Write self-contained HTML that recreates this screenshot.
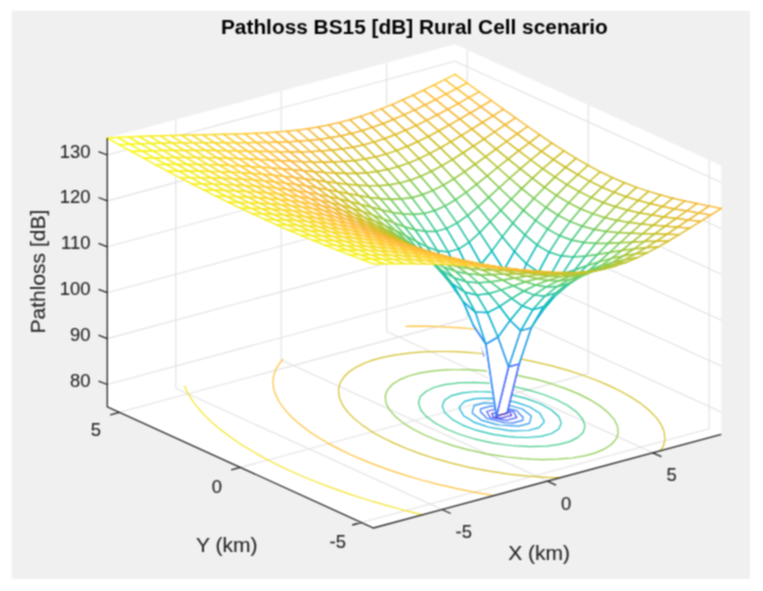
<!DOCTYPE html>
<html><head><meta charset="utf-8"><title>Pathloss BS15 [dB] Rural Cell scenario</title>
<style>html,body{margin:0;padding:0;background:#fff}svg{display:block}</style></head>
<body>
<svg width="763" height="591" viewBox="0 0 763 591">
<rect x="0" y="0" width="763" height="591" fill="#fff"/>
<defs><filter id="b" x="0" y="0" width="763" height="591" filterUnits="userSpaceOnUse" color-interpolation-filters="sRGB"><feConvolveMatrix order="3" preserveAlpha="true" edgeMode="duplicate" kernelMatrix="0.0625 0.1250 0.0625 0.1250 0.2500 0.1250 0.0625 0.1250 0.0625"/></filter></defs>
<g filter="url(#b)">
<rect x="-20" y="-20" width="803" height="631" fill="#fff"/>
<rect x="11.6" y="10.8" width="738.3" height="568.1" fill="#f0f0f0"/>
<g fill="#fff">
<polygon points="373.5,528.0 721.3,434.3 721.3,165.5 455.1,44.3 107.3,138.0 107.3,406.8" />
</g>
<path fill="none" stroke="#e1e1e1" stroke-width="1.1" d="M442.0 509.5L175.8 388.3M175.8 388.3L175.8 119.6M547.4 481.1L281.2 359.9M281.2 359.9L281.2 91.2M652.8 452.8L386.6 331.6M386.6 331.6L386.6 62.8M361.4 522.5L709.2 428.8M709.2 428.8L709.2 160.0M240.4 467.4L588.2 373.7M588.2 373.7L588.2 104.9M119.4 412.3L467.2 318.6M467.2 318.6L467.2 49.8M107.3 384.5L455.1 290.8M455.1 290.8L721.3 412.0M107.3 338.6L455.1 244.9M455.1 244.9L721.3 366.1M107.3 292.7L455.1 199.0M455.1 199.0L721.3 320.2M107.3 246.8L455.1 153.1M455.1 153.1L721.3 274.3M107.3 200.9L455.1 107.2M455.1 107.2L721.3 228.4M107.3 155.0L455.1 61.3M455.1 61.3L721.3 182.5"/>
<g fill="none" stroke-width="1.2" stroke-linecap="round">
<path stroke="#463de0" d="M501.2 418.1L493.5 416.8M493.5 416.8L491.7 413.8M511.7 415.3L501.2 418.1M502.3 411.0L491.7 413.8M510.0 412.3L511.7 415.3M510.0 412.3L502.3 411.0"/>
<path stroke="#475bfa" d="M506.3 420.4L490.2 417.6M490.2 417.6L486.7 411.5M516.8 417.6L506.3 420.4M497.2 408.7L486.7 411.5M513.3 411.4L516.8 417.6M513.3 411.4L497.2 408.7"/>
<path stroke="#327cfc" d="M512.2 423.1L504.5 422.6M504.5 422.6L487.0 418.5M487.0 418.5L480.3 411.5M480.3 411.5L480.7 408.8M522.7 420.3L512.2 423.1M491.3 405.9L480.7 408.8M523.2 417.5L522.7 420.3M523.2 417.5L516.5 410.6M516.5 410.6L499.0 406.5M499.0 406.5L491.3 405.9"/>
<path stroke="#2798ea" d="M499.6 425.0L496.9 424.6M496.9 424.6L481.2 420.1M481.2 420.1L472.7 413.6M472.7 413.6L472.2 412.5M518.9 426.2L499.6 425.0M474.1 405.7L472.2 412.5M529.4 423.3L518.9 426.2M484.6 402.9L474.1 405.7M531.3 416.5L529.4 423.3M503.8 404.0L484.6 402.9M530.8 415.5L531.3 416.5M530.8 415.5L522.2 409.0M522.2 409.0L506.6 404.5M506.6 404.5L503.8 404.0"/>
<path stroke="#13b0d7" d="M484.2 425.6L473.7 422.1M473.7 422.1L466.6 417.6M512.4 430.8L507.8 430.4M507.8 430.4L488.0 427.0M488.0 427.0L484.2 425.6M463.8 416.0L466.6 417.6M463.8 416.0L459.4 408.4M459.4 408.4L459.5 406.8M528.4 430.5L512.4 430.8M464.6 401.4L459.5 406.8M538.9 427.6L528.4 430.5M475.1 398.6L464.6 401.4M544.0 422.3L538.9 427.6M491.1 398.2L475.1 398.6M544.1 420.7L544.0 422.3M544.1 420.7L539.7 413.1M539.7 413.1L536.9 411.5M519.3 403.4L515.5 402.1M515.5 402.1L495.7 398.6M495.7 398.6L491.1 398.2M529.8 407.0L536.9 411.5M529.8 407.0L519.3 403.4"/>
<path stroke="#1ac0b5" d="M478.8 430.8L476.2 430.2M476.2 430.2L462.5 425.1M462.5 425.1L452.0 419.2M452.0 419.2L450.9 418.1M508.4 436.6L493.0 434.4M493.0 434.4L478.8 430.8M444.6 412.4L450.9 418.1M444.6 412.4L442.4 406.6M527.1 437.5L515.5 437.1M515.5 437.1L508.4 436.6M442.9 404.1L442.4 406.6M442.9 404.1L444.7 400.0M541.2 436.3L527.1 437.5M451.8 395.6L444.7 400.0M551.7 433.5L541.2 436.3M462.3 392.8L451.8 395.6M558.7 429.0L551.7 433.5M476.4 391.5L462.3 392.8M560.6 425.0L558.7 429.0M560.6 425.0L561.1 422.4M495.1 392.4L488.0 391.9M488.0 391.9L476.4 391.5M558.9 416.7L561.1 422.4M558.9 416.7L552.6 411.0M524.7 398.2L510.5 394.6M510.5 394.6L495.1 392.4M551.4 409.9L552.6 411.0M551.4 409.9L540.9 404.0M540.9 404.0L527.2 398.9M527.2 398.9L524.7 398.2"/>
<path stroke="#45cb89" d="M485.1 441.3L475.4 439.2M475.4 439.2L460.0 434.5M460.0 434.5L446.9 429.3M446.9 429.3L435.8 423.5M435.8 423.5L427.0 417.1M427.0 417.1L423.5 413.3M511.1 445.5L493.4 443.1M493.4 443.1L485.1 441.3M420.8 410.0L423.5 413.3M420.8 410.0L418.6 403.4M530.5 446.7L515.5 445.9M515.5 445.9L511.1 445.5M418.7 401.8L418.6 403.4M418.7 401.8L420.3 396.5M546.0 446.1L530.5 446.7M425.9 391.5L420.3 396.5M559.0 444.4L548.5 445.8M548.5 445.8L546.0 446.1M427.5 390.7L425.9 391.5M427.5 390.7L433.9 387.5M569.6 441.6L559.0 444.4M444.5 384.6L433.9 387.5M576.0 438.4L569.6 441.6M576.0 438.4L577.6 437.6M457.5 382.9L455.0 383.3M455.0 383.3L444.5 384.6M583.2 432.5L577.6 437.6M473.0 382.4L457.5 382.9M584.8 427.2L583.2 432.5M584.8 427.2L584.9 425.6M492.4 383.5L488.0 383.2M488.0 383.2L473.0 382.4M582.6 419.0L584.9 425.6M582.6 419.0L579.9 415.8M518.4 387.7L510.0 386.0M510.0 386.0L492.4 383.5M576.5 411.9L579.9 415.8M576.5 411.9L567.7 405.5M567.7 405.5L556.6 399.8M556.6 399.8L543.5 394.5M543.5 394.5L528.1 389.9M528.1 389.9L518.4 387.7"/>
<path stroke="#8dcb4f" d="M472.2 450.7L468.3 449.8M468.3 449.8L452.2 445.4M452.2 445.4L437.9 440.5M437.9 440.5L425.1 435.2M425.1 435.2L413.7 429.5M413.7 429.5L403.8 423.4M403.8 423.4L395.7 416.8M395.7 416.8L394.3 415.3M501.1 456.2L486.2 453.8M486.2 453.8L472.2 450.7M389.4 409.7L394.3 415.3M389.4 409.7L386.5 404.1M523.3 458.7L506.8 457.0M506.8 457.0L501.1 456.2M385.8 401.9L386.5 404.1M385.8 401.9L385.3 395.9M541.9 459.6L531.4 459.2M531.4 459.2L523.3 458.7M386.2 393.1L385.3 395.9M386.2 393.1L387.8 389.4M558.0 459.2L541.9 459.6M392.8 384.0L387.8 389.4M572.0 458.0L566.7 458.4M566.7 458.4L558.0 459.2M397.3 381.3L392.8 384.0M397.3 381.3L399.9 379.6M584.3 455.9L572.0 458.0M408.7 376.0L399.9 379.6M594.8 453.1L584.3 455.9M419.2 373.1L408.7 376.0M603.6 449.4L594.8 453.1M431.5 371.1L419.2 373.1M606.2 447.8L603.6 449.4M606.2 447.8L610.7 445.0M445.5 369.8L436.8 370.6M436.8 370.6L431.5 371.1M615.7 439.7L610.7 445.0M461.5 369.5L445.5 369.8M617.3 436.0L615.7 439.7M617.3 436.0L618.1 433.2M480.2 370.3L472.1 369.9M472.1 369.9L461.5 369.5M617.7 427.1L618.1 433.2M617.7 427.1L617.0 425.0M502.4 372.8L496.7 372.0M496.7 372.0L480.2 370.3M614.1 419.3L617.0 425.0M614.1 419.3L609.2 413.8M531.3 378.3L517.3 375.3M517.3 375.3L502.4 372.8M607.8 412.3L609.2 413.8M607.8 412.3L599.7 405.7M599.7 405.7L589.8 399.6M589.8 399.6L578.4 393.9M578.4 393.9L565.6 388.6M565.6 388.6L551.3 383.7M551.3 383.7L535.2 379.2M535.2 379.2L531.3 378.3"/>
<path stroke="#d4bf28" d="M445.3 461.4L435.5 458.7M435.5 458.7L420.7 453.9M420.7 453.9L407.0 448.8M407.0 448.8L394.4 443.4M394.4 443.4L382.8 437.8M382.8 437.8L372.3 431.9M372.3 431.9L362.9 425.6M362.9 425.6L357.9 421.6M479.7 469.4L468.8 467.3M468.8 467.3L451.5 463.1M451.5 463.1L445.3 461.4M354.7 419.1L357.9 421.6M354.7 419.1L347.8 412.2M347.8 412.2L344.6 407.9M505.8 473.7L487.7 470.9M487.7 470.9L479.7 469.4M342.5 404.8L344.6 407.9M342.5 404.8L339.5 398.0M527.9 476.1L508.6 474.1M508.6 474.1L505.8 473.7M339.2 396.9L339.5 398.0M339.2 396.9L338.5 389.9M547.4 477.3L532.3 476.4M532.3 476.4L527.9 476.1M338.7 388.3L338.5 389.9M338.7 388.3L340.1 383.0M560.8 477.6L547.4 477.3M343.0 378.4L340.1 383.0M343.0 378.4L343.9 377.0M349.2 371.8L343.9 377.0M356.0 367.3L349.2 371.8M361.6 364.6L356.0 367.3M361.6 364.6L364.1 363.3M373.4 359.9L364.1 363.3M384.0 357.1L373.4 359.9M395.8 354.8L384.0 357.1M408.7 353.1L399.9 354.3M399.9 354.3L395.8 354.8M422.9 351.9L408.7 353.1M438.7 351.5L422.9 351.9M660.5 450.7L663.3 446.1M456.1 351.7L442.7 351.5M442.7 351.5L438.7 351.5M664.7 440.8L663.3 446.1M664.7 440.8L664.9 439.2M475.5 353.0L471.1 352.6M471.1 352.6L456.1 351.7M664.2 432.1L664.9 439.2M664.2 432.1L663.9 431.1M497.6 355.4L494.8 355.0M494.8 355.0L475.5 353.0M661.0 424.3L663.9 431.1M661.0 424.3L658.8 421.1M523.8 359.7L515.8 358.1M515.8 358.1L497.6 355.4M655.7 416.9L658.8 421.1M655.7 416.9L648.8 410.0M648.8 410.0L645.6 407.5M558.1 367.6L552.0 365.9M552.0 365.9L534.7 361.8M534.7 361.8L523.8 359.7M640.6 403.4L645.6 407.5M640.6 403.4L631.2 397.2M631.2 397.2L620.7 391.3M620.7 391.3L609.1 385.6M609.1 385.6L596.5 380.2M596.5 380.2L582.8 375.2M582.8 375.2L568.0 370.4M568.0 370.4L558.1 367.6"/>
<path stroke="#fec13a" d="M414.6 478.0L405.9 475.4M405.9 475.4L391.1 470.6M391.1 470.6L377.1 465.6M377.1 465.6L363.9 460.4M363.9 460.4L351.4 455.0M351.4 455.0L339.7 449.4M339.7 449.4L328.7 443.6M328.7 443.6L318.5 437.6M318.5 437.6L309.1 431.4M309.1 431.4L304.4 427.8M452.8 487.7L438.0 484.3M438.0 484.3L421.5 480.0M421.5 480.0L414.6 478.0M300.5 424.9L304.4 427.8M300.5 424.9L292.8 418.2M292.8 418.2L287.2 412.3M482.4 493.6L474.2 492.1M474.2 492.1L455.6 488.4M455.6 488.4L452.8 487.7M286.2 411.2L287.2 412.3M286.2 411.2L280.6 404.0M280.6 404.0L278.7 400.8M494.1 495.5L482.4 493.6M276.3 396.3L278.7 400.8M276.3 396.3L274.4 391.2M273.7 388.3L274.4 391.2M273.7 388.3L273.0 383.0M273.1 379.7L273.0 383.0M273.1 379.7L273.7 375.6M275.5 370.3L273.7 375.6M275.5 370.3L276.0 369.0M279.7 363.1L276.0 369.0M282.9 359.5L279.7 363.1M416.7 326.2L405.9 326.3M434.1 326.4L416.7 326.2M452.8 327.3L437.6 326.6M437.6 326.6L434.1 326.4M473.3 329.0L464.2 328.2M464.2 328.2L452.8 327.3M495.8 331.6L487.8 330.6M487.8 330.6L473.3 329.0"/>
<path stroke="#f5e327" d="M348.2 493.6L343.9 492.1M343.9 492.1L329.9 487.1M329.9 487.1L316.4 482.0M316.4 482.0L303.5 476.7M303.5 476.7L291.2 471.3M291.2 471.3L279.3 465.7M279.3 465.7L268.0 460.0M268.0 460.0L257.3 454.1M257.3 454.1L247.1 448.1M247.1 448.1L244.2 446.2M397.7 508.5L389.2 506.2M389.2 506.2L373.5 501.7M373.5 501.7L358.4 497.0M358.4 497.0L348.2 493.6M237.4 441.9L244.2 446.2M237.4 441.9L228.3 435.6M228.3 435.6L219.8 429.1M219.8 429.1L215.8 425.7M422.7 514.8L405.6 510.6M405.6 510.6L397.7 508.5M212.0 422.4L215.8 425.7M212.0 422.4L204.9 415.6M204.9 415.6L200.9 411.2M198.5 408.5L200.9 411.2M198.5 408.5L192.9 401.3M192.9 401.3L191.7 399.4M188.2 393.8L191.7 399.4M188.2 393.8L186.0 389.2M184.6 386.0L186.0 389.2"/>
</g>
<g fill="none" stroke-width="1.5" stroke-linecap="round" stroke-linejoin="round">
<path fill="#fff" d="M456.7 88.7L467.2 83.0L455.1 74.3L444.6 79.7Z"/>
<path stroke="#fdcb33" d="M467.2 83.0L455.1 74.3"/>
<path stroke="#fdcc32" d="M444.6 79.7L455.1 74.3"/>
<path stroke="#fec736" d="M467.2 83.0L456.7 88.7L444.6 79.7"/>
<path fill="#fff" d="M446.1 94.2L456.7 88.7L444.6 79.7L434.0 85.0Z"/>
<path stroke="#fec736" d="M456.7 88.7L444.6 79.7"/>
<path stroke="#fec835" d="M434.0 85.0L444.6 79.7"/>
<path stroke="#fec338" d="M456.7 88.7L446.1 94.2L434.0 85.0"/>
<path fill="#fff" d="M435.6 99.7L446.1 94.2L434.0 85.0L423.5 90.2Z"/>
<path stroke="#fec338" d="M446.1 94.2L434.0 85.0"/>
<path stroke="#fec537" d="M423.5 90.2L434.0 85.0"/>
<path stroke="#febf3b" d="M446.1 94.2L435.6 99.7L423.5 90.2"/>
<path fill="#fff" d="M425.0 105.0L435.6 99.7L423.5 90.2L412.9 95.2Z"/>
<path stroke="#febf3b" d="M435.6 99.7L423.5 90.2"/>
<path stroke="#fec239" d="M412.9 95.2L423.5 90.2"/>
<path stroke="#fcbd3d" d="M435.6 99.7L425.0 105.0L412.9 95.2"/>
<path fill="#fff" d="M414.5 110.1L425.0 105.0L412.9 95.2L402.4 100.0Z"/>
<path stroke="#fcbd3d" d="M425.0 105.0L412.9 95.2"/>
<path stroke="#febf3b" d="M402.4 100.0L412.9 95.2"/>
<path stroke="#f9bb3d" d="M425.0 105.0L414.5 110.1L402.4 100.0"/>
<path fill="#fff" d="M404.0 114.9L414.5 110.1L402.4 100.0L391.9 104.6Z"/>
<path stroke="#f9bb3d" d="M414.5 110.1L402.4 100.0"/>
<path stroke="#fdbd3d" d="M391.9 104.6L402.4 100.0"/>
<path stroke="#f6ba3b" d="M414.5 110.1L404.0 114.9L391.9 104.6"/>
<path fill="#fff" d="M393.4 119.5L404.0 114.9L391.9 104.6L381.3 108.9Z"/>
<path stroke="#f6ba3b" d="M404.0 114.9L391.9 104.6"/>
<path stroke="#fbbc3d" d="M381.3 108.9L391.9 104.6"/>
<path stroke="#f2ba38" d="M404.0 114.9L393.4 119.5L381.3 108.9"/>
<path fill="#fff" d="M382.9 123.7L393.4 119.5L381.3 108.9L370.8 112.9Z"/>
<path stroke="#f2ba38" d="M393.4 119.5L381.3 108.9"/>
<path stroke="#f9bb3d" d="M370.8 112.9L381.3 108.9"/>
<path stroke="#f0ba36" d="M393.4 119.5L382.9 123.7L370.8 112.9"/>
<path fill="#fff" d="M372.3 127.4L382.9 123.7L370.8 112.9L360.2 116.5Z"/>
<path stroke="#f0ba36" d="M382.9 123.7L370.8 112.9"/>
<path stroke="#f8ba3d" d="M360.2 116.5L370.8 112.9"/>
<path stroke="#eeba34" d="M382.9 123.7L372.3 127.4L360.2 116.5"/>
<path fill="#fff" d="M361.8 130.7L372.3 127.4L360.2 116.5L349.7 119.8Z"/>
<path stroke="#eeba34" d="M372.3 127.4L360.2 116.5"/>
<path stroke="#f8ba3d" d="M349.7 119.8L360.2 116.5"/>
<path stroke="#edba33" d="M372.3 127.4L361.8 130.7L349.7 119.8"/>
<path fill="#fff" d="M351.3 133.6L361.8 130.7L349.7 119.8L339.2 122.6Z"/>
<path stroke="#edba33" d="M361.8 130.7L349.7 119.8"/>
<path stroke="#f8ba3d" d="M339.2 122.6L349.7 119.8"/>
<path stroke="#edba33" d="M361.8 130.7L351.3 133.6L339.2 122.6"/>
<path fill="#fff" d="M340.7 135.9L351.3 133.6L339.2 122.6L328.6 125.0Z"/>
<path stroke="#edba33" d="M351.3 133.6L339.2 122.6"/>
<path stroke="#f8ba3d" d="M328.6 125.0L339.2 122.6"/>
<path stroke="#eeba34" d="M351.3 133.6L340.7 135.9L328.6 125.0"/>
<path fill="#fff" d="M330.2 137.8L340.7 135.9L328.6 125.0L318.1 127.1Z"/>
<path stroke="#eeba34" d="M340.7 135.9L328.6 125.0"/>
<path stroke="#f9bb3d" d="M318.1 127.1L328.6 125.0"/>
<path stroke="#f0ba36" d="M340.7 135.9L330.2 137.8L318.1 127.1"/>
<path fill="#fff" d="M319.6 139.4L330.2 137.8L318.1 127.1L307.5 128.8Z"/>
<path stroke="#f0ba36" d="M330.2 137.8L318.1 127.1"/>
<path stroke="#fbbc3d" d="M307.5 128.8L318.1 127.1"/>
<path stroke="#f2ba38" d="M330.2 137.8L319.6 139.4L307.5 128.8"/>
<path fill="#fff" d="M309.1 140.5L319.6 139.4L307.5 128.8L297.0 130.2Z"/>
<path stroke="#f2ba38" d="M319.6 139.4L307.5 128.8"/>
<path stroke="#fdbd3d" d="M297.0 130.2L307.5 128.8"/>
<path stroke="#f6ba3b" d="M319.6 139.4L309.1 140.5L297.0 130.2"/>
<path fill="#fff" d="M298.6 141.3L309.1 140.5L297.0 130.2L286.5 131.3Z"/>
<path stroke="#f6ba3b" d="M309.1 140.5L297.0 130.2"/>
<path stroke="#febf3b" d="M286.5 131.3L297.0 130.2"/>
<path stroke="#f9bb3d" d="M309.1 140.5L298.6 141.3L286.5 131.3"/>
<path fill="#fff" d="M288.0 141.9L298.6 141.3L286.5 131.3L275.9 132.1Z"/>
<path stroke="#f9bb3d" d="M298.6 141.3L286.5 131.3"/>
<path stroke="#fec239" d="M275.9 132.1L286.5 131.3"/>
<path stroke="#fcbd3d" d="M298.6 141.3L288.0 141.9L275.9 132.1"/>
<path fill="#fff" d="M277.5 142.3L288.0 141.9L275.9 132.1L265.4 132.8Z"/>
<path stroke="#fcbd3d" d="M288.0 141.9L275.9 132.1"/>
<path stroke="#fec537" d="M265.4 132.8L275.9 132.1"/>
<path stroke="#febf3b" d="M288.0 141.9L277.5 142.3L265.4 132.8"/>
<path fill="#fff" d="M267.0 142.5L277.5 142.3L265.4 132.8L254.9 133.3Z"/>
<path stroke="#febf3b" d="M277.5 142.3L265.4 132.8"/>
<path stroke="#fec835" d="M254.9 133.3L265.4 132.8"/>
<path stroke="#fec338" d="M277.5 142.3L267.0 142.5L254.9 133.3"/>
<path fill="#fff" d="M256.4 142.6L267.0 142.5L254.9 133.3L244.3 133.7Z"/>
<path stroke="#fec338" d="M267.0 142.5L254.9 133.3"/>
<path stroke="#fdcc32" d="M244.3 133.7L254.9 133.3"/>
<path stroke="#fec736" d="M267.0 142.5L256.4 142.6L244.3 133.7"/>
<path fill="#fff" d="M245.9 142.7L256.4 142.6L244.3 133.7L233.8 134.0Z"/>
<path stroke="#fec736" d="M256.4 142.6L244.3 133.7"/>
<path stroke="#fccf30" d="M233.8 134.0L244.3 133.7"/>
<path stroke="#fdcb33" d="M256.4 142.6L245.9 142.7L233.8 134.0"/>
<path fill="#fff" d="M235.3 142.7L245.9 142.7L233.8 134.0L223.2 134.2Z"/>
<path stroke="#fdcb33" d="M245.9 142.7L233.8 134.0"/>
<path stroke="#fbd32e" d="M223.2 134.2L233.8 134.0"/>
<path stroke="#fccf31" d="M245.9 142.7L235.3 142.7L223.2 134.2"/>
<path fill="#fff" d="M224.8 142.7L235.3 142.7L223.2 134.2L212.7 134.5Z"/>
<path stroke="#fccf31" d="M235.3 142.7L223.2 134.2"/>
<path stroke="#f9d72c" d="M212.7 134.5L223.2 134.2"/>
<path stroke="#fbd32e" d="M235.3 142.7L224.8 142.7L212.7 134.5"/>
<path fill="#fff" d="M214.3 142.7L224.8 142.7L212.7 134.5L202.2 134.7Z"/>
<path stroke="#fbd32e" d="M224.8 142.7L212.7 134.5"/>
<path stroke="#f7db2b" d="M202.2 134.7L212.7 134.5"/>
<path stroke="#f9d72c" d="M224.8 142.7L214.3 142.7L202.2 134.7"/>
<path fill="#fff" d="M203.7 142.7L214.3 142.7L202.2 134.7L191.6 134.9Z"/>
<path stroke="#f9d72c" d="M214.3 142.7L202.2 134.7"/>
<path stroke="#f6df29" d="M191.6 134.9L202.2 134.7"/>
<path stroke="#f7db2a" d="M214.3 142.7L203.7 142.7L191.6 134.9"/>
<path fill="#fff" d="M193.2 142.8L203.7 142.7L191.6 134.9L181.1 135.2Z"/>
<path stroke="#f7db2a" d="M203.7 142.7L191.6 134.9"/>
<path stroke="#f5e327" d="M181.1 135.2L191.6 134.9"/>
<path stroke="#f6e029" d="M203.7 142.7L193.2 142.8L181.1 135.2"/>
<path fill="#fff" d="M182.6 142.9L193.2 142.8L181.1 135.2L170.5 135.4Z"/>
<path stroke="#f6e029" d="M193.2 142.8L181.1 135.2"/>
<path stroke="#f5e625" d="M170.5 135.4L181.1 135.2"/>
<path stroke="#f5e427" d="M193.2 142.8L182.6 142.9L170.5 135.4"/>
<path fill="#fff" d="M172.1 143.1L182.6 142.9L170.5 135.4L160.0 135.8Z"/>
<path stroke="#f5e427" d="M182.6 142.9L170.5 135.4"/>
<path stroke="#f5ea23" d="M160.0 135.8L170.5 135.4"/>
<path stroke="#f5e825" d="M182.6 142.9L172.1 143.1L160.0 135.8"/>
<path fill="#fff" d="M161.6 143.3L172.1 143.1L160.0 135.8L149.5 136.1Z"/>
<path stroke="#f5e825" d="M172.1 143.1L160.0 135.8"/>
<path stroke="#f5ee21" d="M149.5 136.1L160.0 135.8"/>
<path stroke="#f5eb23" d="M172.1 143.1L161.6 143.3L149.5 136.1"/>
<path fill="#fff" d="M151.0 143.6L161.6 143.3L149.5 136.1L138.9 136.5Z"/>
<path stroke="#f5eb23" d="M161.6 143.3L149.5 136.1"/>
<path stroke="#f6f11e" d="M138.9 136.5L149.5 136.1"/>
<path stroke="#f6ef20" d="M161.6 143.3L151.0 143.6L138.9 136.5"/>
<path fill="#fff" d="M140.5 143.9L151.0 143.6L138.9 136.5L128.4 137.0Z"/>
<path stroke="#f6ef20" d="M151.0 143.6L138.9 136.5"/>
<path stroke="#f7f41c" d="M128.4 137.0L138.9 136.5"/>
<path stroke="#f6f21d" d="M151.0 143.6L140.5 143.9L128.4 137.0"/>
<path fill="#fff" d="M129.9 144.3L140.5 143.9L128.4 137.0L117.8 137.5Z"/>
<path stroke="#f6f21d" d="M140.5 143.9L128.4 137.0"/>
<path stroke="#f8f818" d="M117.8 137.5L128.4 137.0"/>
<path stroke="#f7f61a" d="M140.5 143.9L129.9 144.3L117.8 137.5"/>
<path fill="#fff" d="M119.4 144.8L129.9 144.3L117.8 137.5L107.3 138.0Z"/>
<path stroke="#f7f61a" d="M129.9 144.3L117.8 137.5"/>
<path stroke="#f9fb15" d="M107.3 138.0L117.8 137.5"/>
<path stroke="#f9f917" d="M129.9 144.3L119.4 144.8L107.3 138.0"/>
<path fill="#fff" d="M468.8 97.7L479.3 91.8L467.2 83.0L456.7 88.7Z"/>
<path stroke="#fec636" d="M479.3 91.8L467.2 83.0"/>
<path stroke="#fec736" d="M456.7 88.7L467.2 83.0"/>
<path stroke="#fec239" d="M479.3 91.8L468.8 97.7L456.7 88.7"/>
<path fill="#fff" d="M458.2 103.6L468.8 97.7L456.7 88.7L446.1 94.2Z"/>
<path stroke="#fec239" d="M468.8 97.7L456.7 88.7"/>
<path stroke="#fec338" d="M446.1 94.2L456.7 88.7"/>
<path stroke="#febe3c" d="M468.8 97.7L458.2 103.6L446.1 94.2"/>
<path fill="#fff" d="M447.7 109.3L458.2 103.6L446.1 94.2L435.6 99.7Z"/>
<path stroke="#febe3c" d="M458.2 103.6L446.1 94.2"/>
<path stroke="#febf3b" d="M435.6 99.7L446.1 94.2"/>
<path stroke="#fabb3d" d="M458.2 103.6L447.7 109.3L435.6 99.7"/>
<path fill="#fff" d="M437.1 115.0L447.7 109.3L435.6 99.7L425.0 105.0Z"/>
<path stroke="#fabb3d" d="M447.7 109.3L435.6 99.7"/>
<path stroke="#fcbd3d" d="M425.0 105.0L435.6 99.7"/>
<path stroke="#f5ba3b" d="M447.7 109.3L437.1 115.0L425.0 105.0"/>
<path fill="#fff" d="M426.6 120.4L437.1 115.0L425.0 105.0L414.5 110.1Z"/>
<path stroke="#f5ba3b" d="M437.1 115.0L425.0 105.0"/>
<path stroke="#f9bb3d" d="M414.5 110.1L425.0 105.0"/>
<path stroke="#f0ba36" d="M437.1 115.0L426.6 120.4L414.5 110.1"/>
<path fill="#fff" d="M416.1 125.6L426.6 120.4L414.5 110.1L404.0 114.9Z"/>
<path stroke="#f0ba36" d="M426.6 120.4L414.5 110.1"/>
<path stroke="#f6ba3b" d="M404.0 114.9L414.5 110.1"/>
<path stroke="#ebba32" d="M426.6 120.4L416.1 125.6L404.0 114.9"/>
<path fill="#fff" d="M405.5 130.4L416.1 125.6L404.0 114.9L393.4 119.5Z"/>
<path stroke="#ebba32" d="M416.1 125.6L404.0 114.9"/>
<path stroke="#f2ba38" d="M393.4 119.5L404.0 114.9"/>
<path stroke="#e7bb2e" d="M416.1 125.6L405.5 130.4L393.4 119.5"/>
<path fill="#fff" d="M395.0 134.8L405.5 130.4L393.4 119.5L382.9 123.7Z"/>
<path stroke="#e7bb2e" d="M405.5 130.4L393.4 119.5"/>
<path stroke="#f0ba36" d="M382.9 123.7L393.4 119.5"/>
<path stroke="#e3bc2c" d="M405.5 130.4L395.0 134.8L382.9 123.7"/>
<path fill="#fff" d="M384.4 138.7L395.0 134.8L382.9 123.7L372.3 127.4Z"/>
<path stroke="#e3bc2c" d="M395.0 134.8L382.9 123.7"/>
<path stroke="#eeba34" d="M372.3 127.4L382.9 123.7"/>
<path stroke="#e1bc2b" d="M395.0 134.8L384.4 138.7L372.3 127.4"/>
<path fill="#fff" d="M373.9 142.1L384.4 138.7L372.3 127.4L361.8 130.7Z"/>
<path stroke="#e1bc2b" d="M384.4 138.7L372.3 127.4"/>
<path stroke="#edba33" d="M361.8 130.7L372.3 127.4"/>
<path stroke="#dfbc2a" d="M384.4 138.7L373.9 142.1L361.8 130.7"/>
<path fill="#fff" d="M363.4 145.0L373.9 142.1L361.8 130.7L351.3 133.6Z"/>
<path stroke="#dfbc2a" d="M373.9 142.1L361.8 130.7"/>
<path stroke="#edba33" d="M351.3 133.6L361.8 130.7"/>
<path stroke="#dfbc2a" d="M373.9 142.1L363.4 145.0L351.3 133.6"/>
<path fill="#fff" d="M352.8 147.3L363.4 145.0L351.3 133.6L340.7 135.9Z"/>
<path stroke="#dfbc2a" d="M363.4 145.0L351.3 133.6"/>
<path stroke="#eeba34" d="M340.7 135.9L351.3 133.6"/>
<path stroke="#e1bc2b" d="M363.4 145.0L352.8 147.3L340.7 135.9"/>
<path fill="#fff" d="M342.3 149.0L352.8 147.3L340.7 135.9L330.2 137.8Z"/>
<path stroke="#e1bc2b" d="M352.8 147.3L340.7 135.9"/>
<path stroke="#f0ba36" d="M330.2 137.8L340.7 135.9"/>
<path stroke="#e3bc2c" d="M352.8 147.3L342.3 149.0L330.2 137.8"/>
<path fill="#fff" d="M331.7 150.3L342.3 149.0L330.2 137.8L319.6 139.4Z"/>
<path stroke="#e3bc2c" d="M342.3 149.0L330.2 137.8"/>
<path stroke="#f2ba38" d="M319.6 139.4L330.2 137.8"/>
<path stroke="#e7bb2e" d="M342.3 149.0L331.7 150.3L319.6 139.4"/>
<path fill="#fff" d="M321.2 151.1L331.7 150.3L319.6 139.4L309.1 140.5Z"/>
<path stroke="#e7bb2e" d="M331.7 150.3L319.6 139.4"/>
<path stroke="#f6ba3b" d="M309.1 140.5L319.6 139.4"/>
<path stroke="#ebba32" d="M331.7 150.3L321.2 151.1L309.1 140.5"/>
<path fill="#fff" d="M310.7 151.7L321.2 151.1L309.1 140.5L298.6 141.3Z"/>
<path stroke="#ebba32" d="M321.2 151.1L309.1 140.5"/>
<path stroke="#f9bb3d" d="M298.6 141.3L309.1 140.5"/>
<path stroke="#f0ba36" d="M321.2 151.1L310.7 151.7L298.6 141.3"/>
<path fill="#fff" d="M300.1 151.9L310.7 151.7L298.6 141.3L288.0 141.9Z"/>
<path stroke="#f0ba36" d="M310.7 151.7L298.6 141.3"/>
<path stroke="#fcbd3d" d="M288.0 141.9L298.6 141.3"/>
<path stroke="#f5ba3b" d="M310.7 151.7L300.1 151.9L288.0 141.9"/>
<path fill="#fff" d="M289.6 151.9L300.1 151.9L288.0 141.9L277.5 142.3Z"/>
<path stroke="#f5ba3b" d="M300.1 151.9L288.0 141.9"/>
<path stroke="#febf3b" d="M277.5 142.3L288.0 141.9"/>
<path stroke="#fabb3d" d="M300.1 151.9L289.6 151.9L277.5 142.3"/>
<path fill="#fff" d="M279.1 151.8L289.6 151.9L277.5 142.3L267.0 142.5Z"/>
<path stroke="#fabb3d" d="M289.6 151.9L277.5 142.3"/>
<path stroke="#fec338" d="M267.0 142.5L277.5 142.3"/>
<path stroke="#febe3c" d="M289.6 151.9L279.1 151.8L267.0 142.5"/>
<path fill="#fff" d="M268.5 151.6L279.1 151.8L267.0 142.5L256.4 142.6Z"/>
<path stroke="#febe3c" d="M279.1 151.8L267.0 142.5"/>
<path stroke="#fec736" d="M256.4 142.6L267.0 142.5"/>
<path stroke="#fec239" d="M279.1 151.8L268.5 151.6L256.4 142.6"/>
<path fill="#fff" d="M258.0 151.4L268.5 151.6L256.4 142.6L245.9 142.7Z"/>
<path stroke="#fec239" d="M268.5 151.6L256.4 142.6"/>
<path stroke="#fdcb33" d="M245.9 142.7L256.4 142.6"/>
<path stroke="#fec636" d="M268.5 151.6L258.0 151.4L245.9 142.7"/>
<path fill="#fff" d="M247.4 151.2L258.0 151.4L245.9 142.7L235.3 142.7Z"/>
<path stroke="#fec636" d="M258.0 151.4L245.9 142.7"/>
<path stroke="#fccf31" d="M235.3 142.7L245.9 142.7"/>
<path stroke="#fdca33" d="M258.0 151.4L247.4 151.2L235.3 142.7"/>
<path fill="#fff" d="M236.9 150.9L247.4 151.2L235.3 142.7L224.8 142.7Z"/>
<path stroke="#fdca33" d="M247.4 151.2L235.3 142.7"/>
<path stroke="#fbd32e" d="M224.8 142.7L235.3 142.7"/>
<path stroke="#fccf30" d="M247.4 151.2L236.9 150.9L224.8 142.7"/>
<path fill="#fff" d="M226.4 150.7L236.9 150.9L224.8 142.7L214.3 142.7Z"/>
<path stroke="#fccf30" d="M236.9 150.9L224.8 142.7"/>
<path stroke="#f9d72c" d="M214.3 142.7L224.8 142.7"/>
<path stroke="#fbd32e" d="M236.9 150.9L226.4 150.7L214.3 142.7"/>
<path fill="#fff" d="M215.8 150.5L226.4 150.7L214.3 142.7L203.7 142.7Z"/>
<path stroke="#fbd32e" d="M226.4 150.7L214.3 142.7"/>
<path stroke="#f7db2a" d="M203.7 142.7L214.3 142.7"/>
<path stroke="#f9d82c" d="M226.4 150.7L215.8 150.5L203.7 142.7"/>
<path fill="#fff" d="M205.3 150.4L215.8 150.5L203.7 142.7L193.2 142.8Z"/>
<path stroke="#f9d82c" d="M215.8 150.5L203.7 142.7"/>
<path stroke="#f6e029" d="M193.2 142.8L203.7 142.7"/>
<path stroke="#f7dc2a" d="M215.8 150.5L205.3 150.4L193.2 142.8"/>
<path fill="#fff" d="M194.7 150.4L205.3 150.4L193.2 142.8L182.6 142.9Z"/>
<path stroke="#f7dc2a" d="M205.3 150.4L193.2 142.8"/>
<path stroke="#f5e427" d="M182.6 142.9L193.2 142.8"/>
<path stroke="#f6e128" d="M205.3 150.4L194.7 150.4L182.6 142.9"/>
<path fill="#fff" d="M184.2 150.4L194.7 150.4L182.6 142.9L172.1 143.1Z"/>
<path stroke="#f6e128" d="M194.7 150.4L182.6 142.9"/>
<path stroke="#f5e825" d="M172.1 143.1L182.6 142.9"/>
<path stroke="#f5e526" d="M194.7 150.4L184.2 150.4L172.1 143.1"/>
<path fill="#fff" d="M173.7 150.5L184.2 150.4L172.1 143.1L161.6 143.3Z"/>
<path stroke="#f5e526" d="M184.2 150.4L172.1 143.1"/>
<path stroke="#f5eb23" d="M161.6 143.3L172.1 143.1"/>
<path stroke="#f5e924" d="M184.2 150.4L173.7 150.5L161.6 143.3"/>
<path fill="#fff" d="M163.1 150.6L173.7 150.5L161.6 143.3L151.0 143.6Z"/>
<path stroke="#f5e924" d="M173.7 150.5L161.6 143.3"/>
<path stroke="#f6ef20" d="M151.0 143.6L161.6 143.3"/>
<path stroke="#f5ed22" d="M173.7 150.5L163.1 150.6L151.0 143.6"/>
<path fill="#fff" d="M152.6 150.9L163.1 150.6L151.0 143.6L140.5 143.9Z"/>
<path stroke="#f5ed22" d="M163.1 150.6L151.0 143.6"/>
<path stroke="#f6f21d" d="M140.5 143.9L151.0 143.6"/>
<path stroke="#f6f01f" d="M163.1 150.6L152.6 150.9L140.5 143.9"/>
<path fill="#fff" d="M142.0 151.2L152.6 150.9L140.5 143.9L129.9 144.3Z"/>
<path stroke="#f6f01f" d="M152.6 150.9L140.5 143.9"/>
<path stroke="#f7f61a" d="M129.9 144.3L140.5 143.9"/>
<path stroke="#f7f41c" d="M152.6 150.9L142.0 151.2L129.9 144.3"/>
<path fill="#fff" d="M131.5 151.5L142.0 151.2L129.9 144.3L119.4 144.8Z"/>
<path stroke="#f7f41c" d="M142.0 151.2L129.9 144.3"/>
<path stroke="#f9f917" d="M119.4 144.8L129.9 144.3"/>
<path stroke="#f8f718" d="M142.0 151.2L131.5 151.5L119.4 144.8"/>
<path fill="#fff" d="M480.9 106.8L491.4 100.5L479.3 91.8L468.8 97.7Z"/>
<path stroke="#fec239" d="M491.4 100.5L479.3 91.8"/>
<path stroke="#fec239" d="M468.8 97.7L479.3 91.8"/>
<path stroke="#fdbd3d" d="M491.4 100.5L480.9 106.8L468.8 97.7"/>
<path fill="#fff" d="M470.3 113.0L480.9 106.8L468.8 97.7L458.2 103.6Z"/>
<path stroke="#fdbd3d" d="M480.9 106.8L468.8 97.7"/>
<path stroke="#febe3c" d="M458.2 103.6L468.8 97.7"/>
<path stroke="#f9ba3d" d="M480.9 106.8L470.3 113.0L458.2 103.6"/>
<path fill="#fff" d="M459.8 119.1L470.3 113.0L458.2 103.6L447.7 109.3Z"/>
<path stroke="#f9ba3d" d="M470.3 113.0L458.2 103.6"/>
<path stroke="#fabb3d" d="M447.7 109.3L458.2 103.6"/>
<path stroke="#f2ba38" d="M470.3 113.0L459.8 119.1L447.7 109.3"/>
<path fill="#fff" d="M449.2 125.2L459.8 119.1L447.7 109.3L437.1 115.0Z"/>
<path stroke="#f2ba38" d="M459.8 119.1L447.7 109.3"/>
<path stroke="#f5ba3b" d="M437.1 115.0L447.7 109.3"/>
<path stroke="#ecba32" d="M459.8 119.1L449.2 125.2L437.1 115.0"/>
<path fill="#fff" d="M438.7 131.0L449.2 125.2L437.1 115.0L426.6 120.4Z"/>
<path stroke="#ecba32" d="M449.2 125.2L437.1 115.0"/>
<path stroke="#f0ba36" d="M426.6 120.4L437.1 115.0"/>
<path stroke="#e5bb2d" d="M449.2 125.2L438.7 131.0L426.6 120.4"/>
<path fill="#fff" d="M428.2 136.6L438.7 131.0L426.6 120.4L416.1 125.6Z"/>
<path stroke="#e5bb2d" d="M438.7 131.0L426.6 120.4"/>
<path stroke="#ebba32" d="M416.1 125.6L426.6 120.4"/>
<path stroke="#dfbc2a" d="M438.7 131.0L428.2 136.6L416.1 125.6"/>
<path fill="#fff" d="M417.6 141.7L428.2 136.6L416.1 125.6L405.5 130.4Z"/>
<path stroke="#dfbc2a" d="M428.2 136.6L416.1 125.6"/>
<path stroke="#e7bb2e" d="M405.5 130.4L416.1 125.6"/>
<path stroke="#d9be28" d="M428.2 136.6L417.6 141.7L405.5 130.4"/>
<path fill="#fff" d="M407.1 146.5L417.6 141.7L405.5 130.4L395.0 134.8Z"/>
<path stroke="#d9be28" d="M417.6 141.7L405.5 130.4"/>
<path stroke="#e3bc2c" d="M395.0 134.8L405.5 130.4"/>
<path stroke="#d4bf28" d="M417.6 141.7L407.1 146.5L395.0 134.8"/>
<path fill="#fff" d="M396.5 150.6L407.1 146.5L395.0 134.8L384.4 138.7Z"/>
<path stroke="#d4bf28" d="M407.1 146.5L395.0 134.8"/>
<path stroke="#e1bc2b" d="M384.4 138.7L395.0 134.8"/>
<path stroke="#d1bf27" d="M407.1 146.5L396.5 150.6L384.4 138.7"/>
<path fill="#fff" d="M386.0 154.1L396.5 150.6L384.4 138.7L373.9 142.1Z"/>
<path stroke="#d1bf27" d="M396.5 150.6L384.4 138.7"/>
<path stroke="#dfbc2a" d="M373.9 142.1L384.4 138.7"/>
<path stroke="#cfc028" d="M396.5 150.6L386.0 154.1L373.9 142.1"/>
<path fill="#fff" d="M375.5 157.0L386.0 154.1L373.9 142.1L363.4 145.0Z"/>
<path stroke="#cfc028" d="M386.0 154.1L373.9 142.1"/>
<path stroke="#dfbc2a" d="M363.4 145.0L373.9 142.1"/>
<path stroke="#cfc028" d="M386.0 154.1L375.5 157.0L363.4 145.0"/>
<path fill="#fff" d="M364.9 159.1L375.5 157.0L363.4 145.0L352.8 147.3Z"/>
<path stroke="#cfc028" d="M375.5 157.0L363.4 145.0"/>
<path stroke="#e1bc2b" d="M352.8 147.3L363.4 145.0"/>
<path stroke="#d1bf27" d="M375.5 157.0L364.9 159.1L352.8 147.3"/>
<path fill="#fff" d="M354.4 160.7L364.9 159.1L352.8 147.3L342.3 149.0Z"/>
<path stroke="#d1bf27" d="M364.9 159.1L352.8 147.3"/>
<path stroke="#e3bc2c" d="M342.3 149.0L352.8 147.3"/>
<path stroke="#d4bf28" d="M364.9 159.1L354.4 160.7L342.3 149.0"/>
<path fill="#fff" d="M343.8 161.6L354.4 160.7L342.3 149.0L331.7 150.3Z"/>
<path stroke="#d4bf28" d="M354.4 160.7L342.3 149.0"/>
<path stroke="#e7bb2e" d="M331.7 150.3L342.3 149.0"/>
<path stroke="#d9be28" d="M354.4 160.7L343.8 161.6L331.7 150.3"/>
<path fill="#fff" d="M333.3 162.1L343.8 161.6L331.7 150.3L321.2 151.1Z"/>
<path stroke="#d9be28" d="M343.8 161.6L331.7 150.3"/>
<path stroke="#ebba32" d="M321.2 151.1L331.7 150.3"/>
<path stroke="#dfbc2a" d="M343.8 161.6L333.3 162.1L321.2 151.1"/>
<path fill="#fff" d="M322.8 162.2L333.3 162.1L321.2 151.1L310.7 151.7Z"/>
<path stroke="#dfbc2a" d="M333.3 162.1L321.2 151.1"/>
<path stroke="#f0ba36" d="M310.7 151.7L321.2 151.1"/>
<path stroke="#e5bb2d" d="M333.3 162.1L322.8 162.2L310.7 151.7"/>
<path fill="#fff" d="M312.2 162.1L322.8 162.2L310.7 151.7L300.1 151.9Z"/>
<path stroke="#e5bb2d" d="M322.8 162.2L310.7 151.7"/>
<path stroke="#f5ba3b" d="M300.1 151.9L310.7 151.7"/>
<path stroke="#ecba32" d="M322.8 162.2L312.2 162.1L300.1 151.9"/>
<path fill="#fff" d="M301.7 161.7L312.2 162.1L300.1 151.9L289.6 151.9Z"/>
<path stroke="#ecba32" d="M312.2 162.1L300.1 151.9"/>
<path stroke="#fabb3d" d="M289.6 151.9L300.1 151.9"/>
<path stroke="#f2ba38" d="M312.2 162.1L301.7 161.7L289.6 151.9"/>
<path fill="#fff" d="M291.2 161.3L301.7 161.7L289.6 151.9L279.1 151.8Z"/>
<path stroke="#f2ba38" d="M301.7 161.7L289.6 151.9"/>
<path stroke="#febe3c" d="M279.1 151.8L289.6 151.9"/>
<path stroke="#f9ba3d" d="M301.7 161.7L291.2 161.3L279.1 151.8"/>
<path fill="#fff" d="M280.6 160.7L291.2 161.3L279.1 151.8L268.5 151.6Z"/>
<path stroke="#f9ba3d" d="M291.2 161.3L279.1 151.8"/>
<path stroke="#fec239" d="M268.5 151.6L279.1 151.8"/>
<path stroke="#fdbd3d" d="M291.2 161.3L280.6 160.7L268.5 151.6"/>
<path fill="#fff" d="M270.1 160.2L280.6 160.7L268.5 151.6L258.0 151.4Z"/>
<path stroke="#fdbd3d" d="M280.6 160.7L268.5 151.6"/>
<path stroke="#fec636" d="M258.0 151.4L268.5 151.6"/>
<path stroke="#fec239" d="M280.6 160.7L270.1 160.2L258.0 151.4"/>
<path fill="#fff" d="M259.5 159.6L270.1 160.2L258.0 151.4L247.4 151.2Z"/>
<path stroke="#fec239" d="M270.1 160.2L258.0 151.4"/>
<path stroke="#fdca33" d="M247.4 151.2L258.0 151.4"/>
<path stroke="#fec636" d="M270.1 160.2L259.5 159.6L247.4 151.2"/>
<path fill="#fff" d="M249.0 159.1L259.5 159.6L247.4 151.2L236.9 150.9Z"/>
<path stroke="#fec636" d="M259.5 159.6L247.4 151.2"/>
<path stroke="#fccf30" d="M236.9 150.9L247.4 151.2"/>
<path stroke="#fdcb33" d="M259.5 159.6L249.0 159.1L236.9 150.9"/>
<path fill="#fff" d="M238.5 158.7L249.0 159.1L236.9 150.9L226.4 150.7Z"/>
<path stroke="#fdcb33" d="M249.0 159.1L236.9 150.9"/>
<path stroke="#fbd32e" d="M226.4 150.7L236.9 150.9"/>
<path stroke="#fcd030" d="M249.0 159.1L238.5 158.7L226.4 150.7"/>
<path fill="#fff" d="M227.9 158.3L238.5 158.7L226.4 150.7L215.8 150.5Z"/>
<path stroke="#fcd030" d="M238.5 158.7L226.4 150.7"/>
<path stroke="#f9d82c" d="M215.8 150.5L226.4 150.7"/>
<path stroke="#fad52e" d="M238.5 158.7L227.9 158.3L215.8 150.5"/>
<path fill="#fff" d="M217.4 158.0L227.9 158.3L215.8 150.5L205.3 150.4Z"/>
<path stroke="#fad52e" d="M227.9 158.3L215.8 150.5"/>
<path stroke="#f7dc2a" d="M205.3 150.4L215.8 150.5"/>
<path stroke="#f8d92b" d="M227.9 158.3L217.4 158.0L205.3 150.4"/>
<path fill="#fff" d="M206.8 157.8L217.4 158.0L205.3 150.4L194.7 150.4Z"/>
<path stroke="#f8d92b" d="M217.4 158.0L205.3 150.4"/>
<path stroke="#f6e128" d="M194.7 150.4L205.3 150.4"/>
<path stroke="#f6de29" d="M217.4 158.0L206.8 157.8L194.7 150.4"/>
<path fill="#fff" d="M196.3 157.6L206.8 157.8L194.7 150.4L184.2 150.4Z"/>
<path stroke="#f6de29" d="M206.8 157.8L194.7 150.4"/>
<path stroke="#f5e526" d="M184.2 150.4L194.7 150.4"/>
<path stroke="#f5e227" d="M206.8 157.8L196.3 157.6L184.2 150.4"/>
<path fill="#fff" d="M185.8 157.6L196.3 157.6L184.2 150.4L173.7 150.5Z"/>
<path stroke="#f5e227" d="M196.3 157.6L184.2 150.4"/>
<path stroke="#f5e924" d="M173.7 150.5L184.2 150.4"/>
<path stroke="#f5e725" d="M196.3 157.6L185.8 157.6L173.7 150.5"/>
<path fill="#fff" d="M175.2 157.6L185.8 157.6L173.7 150.5L163.1 150.6Z"/>
<path stroke="#f5e725" d="M185.8 157.6L173.7 150.5"/>
<path stroke="#f5ed22" d="M163.1 150.6L173.7 150.5"/>
<path stroke="#f5eb23" d="M185.8 157.6L175.2 157.6L163.1 150.6"/>
<path fill="#fff" d="M164.7 157.7L175.2 157.6L163.1 150.6L152.6 150.9Z"/>
<path stroke="#f5eb23" d="M175.2 157.6L163.1 150.6"/>
<path stroke="#f6f01f" d="M152.6 150.9L163.1 150.6"/>
<path stroke="#f5ef21" d="M175.2 157.6L164.7 157.7L152.6 150.9"/>
<path fill="#fff" d="M154.1 157.9L164.7 157.7L152.6 150.9L142.0 151.2Z"/>
<path stroke="#f5ef21" d="M164.7 157.7L152.6 150.9"/>
<path stroke="#f7f41c" d="M142.0 151.2L152.6 150.9"/>
<path stroke="#f6f21d" d="M164.7 157.7L154.1 157.9L142.0 151.2"/>
<path fill="#fff" d="M143.6 158.2L154.1 157.9L142.0 151.2L131.5 151.5Z"/>
<path stroke="#f6f21d" d="M154.1 157.9L142.0 151.2"/>
<path stroke="#f8f718" d="M131.5 151.5L142.0 151.2"/>
<path stroke="#f7f61a" d="M154.1 157.9L143.6 158.2L131.5 151.5"/>
<path fill="#fff" d="M493.0 115.9L503.5 109.3L491.4 100.5L480.9 106.8Z"/>
<path stroke="#febd3c" d="M503.5 109.3L491.4 100.5"/>
<path stroke="#fdbd3d" d="M480.9 106.8L491.4 100.5"/>
<path stroke="#f8ba3d" d="M503.5 109.3L493.0 115.9L480.9 106.8"/>
<path fill="#fff" d="M482.4 122.5L493.0 115.9L480.9 106.8L470.3 113.0Z"/>
<path stroke="#f8ba3d" d="M493.0 115.9L480.9 106.8"/>
<path stroke="#f9ba3d" d="M470.3 113.0L480.9 106.8"/>
<path stroke="#f1ba37" d="M493.0 115.9L482.4 122.5L470.3 113.0"/>
<path fill="#fff" d="M471.9 129.1L482.4 122.5L470.3 113.0L459.8 119.1Z"/>
<path stroke="#f1ba37" d="M482.4 122.5L470.3 113.0"/>
<path stroke="#f2ba38" d="M459.8 119.1L470.3 113.0"/>
<path stroke="#e9bb30" d="M482.4 122.5L471.9 129.1L459.8 119.1"/>
<path fill="#fff" d="M461.3 135.6L471.9 129.1L459.8 119.1L449.2 125.2Z"/>
<path stroke="#e9bb30" d="M471.9 129.1L459.8 119.1"/>
<path stroke="#ecba32" d="M449.2 125.2L459.8 119.1"/>
<path stroke="#e1bc2b" d="M471.9 129.1L461.3 135.6L449.2 125.2"/>
<path fill="#fff" d="M450.8 141.9L461.3 135.6L449.2 125.2L438.7 131.0Z"/>
<path stroke="#e1bc2b" d="M461.3 135.6L449.2 125.2"/>
<path stroke="#e5bb2d" d="M438.7 131.0L449.2 125.2"/>
<path stroke="#d8be28" d="M461.3 135.6L450.8 141.9L438.7 131.0"/>
<path fill="#fff" d="M440.3 147.9L450.8 141.9L438.7 131.0L428.2 136.6Z"/>
<path stroke="#d8be28" d="M450.8 141.9L438.7 131.0"/>
<path stroke="#dfbc2a" d="M428.2 136.6L438.7 131.0"/>
<path stroke="#d0c028" d="M450.8 141.9L440.3 147.9L428.2 136.6"/>
<path fill="#fff" d="M429.7 153.6L440.3 147.9L428.2 136.6L417.6 141.7Z"/>
<path stroke="#d0c028" d="M440.3 147.9L428.2 136.6"/>
<path stroke="#d9be28" d="M417.6 141.7L428.2 136.6"/>
<path stroke="#c8c129" d="M440.3 147.9L429.7 153.6L417.6 141.7"/>
<path fill="#fff" d="M419.2 158.7L429.7 153.6L417.6 141.7L407.1 146.5Z"/>
<path stroke="#c8c129" d="M429.7 153.6L417.6 141.7"/>
<path stroke="#d4bf28" d="M407.1 146.5L417.6 141.7"/>
<path stroke="#c1c32c" d="M429.7 153.6L419.2 158.7L407.1 146.5"/>
<path fill="#fff" d="M408.6 163.1L419.2 158.7L407.1 146.5L396.5 150.6Z"/>
<path stroke="#c1c32c" d="M419.2 158.7L407.1 146.5"/>
<path stroke="#d1bf27" d="M396.5 150.6L407.1 146.5"/>
<path stroke="#bdc42f" d="M419.2 158.7L408.6 163.1L396.5 150.6"/>
<path fill="#fff" d="M398.1 166.8L408.6 163.1L396.5 150.6L386.0 154.1Z"/>
<path stroke="#bdc42f" d="M408.6 163.1L396.5 150.6"/>
<path stroke="#cfc028" d="M386.0 154.1L396.5 150.6"/>
<path stroke="#bac430" d="M408.6 163.1L398.1 166.8L386.0 154.1"/>
<path fill="#fff" d="M387.6 169.6L398.1 166.8L386.0 154.1L375.5 157.0Z"/>
<path stroke="#bac430" d="M398.1 166.8L386.0 154.1"/>
<path stroke="#cfc028" d="M375.5 157.0L386.0 154.1"/>
<path stroke="#bac430" d="M398.1 166.8L387.6 169.6L375.5 157.0"/>
<path fill="#fff" d="M377.0 171.6L387.6 169.6L375.5 157.0L364.9 159.1Z"/>
<path stroke="#bac430" d="M387.6 169.6L375.5 157.0"/>
<path stroke="#d1bf27" d="M364.9 159.1L375.5 157.0"/>
<path stroke="#bdc42f" d="M387.6 169.6L377.0 171.6L364.9 159.1"/>
<path fill="#fff" d="M366.5 172.9L377.0 171.6L364.9 159.1L354.4 160.7Z"/>
<path stroke="#bdc42f" d="M377.0 171.6L364.9 159.1"/>
<path stroke="#d4bf28" d="M354.4 160.7L364.9 159.1"/>
<path stroke="#c1c32c" d="M377.0 171.6L366.5 172.9L354.4 160.7"/>
<path fill="#fff" d="M355.9 173.4L366.5 172.9L354.4 160.7L343.8 161.6Z"/>
<path stroke="#c1c32c" d="M366.5 172.9L354.4 160.7"/>
<path stroke="#d9be28" d="M343.8 161.6L354.4 160.7"/>
<path stroke="#c8c129" d="M366.5 172.9L355.9 173.4L343.8 161.6"/>
<path fill="#fff" d="M345.4 173.5L355.9 173.4L343.8 161.6L333.3 162.1Z"/>
<path stroke="#c8c129" d="M355.9 173.4L343.8 161.6"/>
<path stroke="#dfbc2a" d="M333.3 162.1L343.8 161.6"/>
<path stroke="#d0c028" d="M355.9 173.4L345.4 173.5L333.3 162.1"/>
<path fill="#fff" d="M334.9 173.1L345.4 173.5L333.3 162.1L322.8 162.2Z"/>
<path stroke="#d0c028" d="M345.4 173.5L333.3 162.1"/>
<path stroke="#e5bb2d" d="M322.8 162.2L333.3 162.1"/>
<path stroke="#d8be28" d="M345.4 173.5L334.9 173.1L322.8 162.2"/>
<path fill="#fff" d="M324.3 172.5L334.9 173.1L322.8 162.2L312.2 162.1Z"/>
<path stroke="#d8be28" d="M334.9 173.1L322.8 162.2"/>
<path stroke="#ecba32" d="M312.2 162.1L322.8 162.2"/>
<path stroke="#e1bc2b" d="M334.9 173.1L324.3 172.5L312.2 162.1"/>
<path fill="#fff" d="M313.8 171.7L324.3 172.5L312.2 162.1L301.7 161.7Z"/>
<path stroke="#e1bc2b" d="M324.3 172.5L312.2 162.1"/>
<path stroke="#f2ba38" d="M301.7 161.7L312.2 162.1"/>
<path stroke="#e9bb30" d="M324.3 172.5L313.8 171.7L301.7 161.7"/>
<path fill="#fff" d="M303.3 170.7L313.8 171.7L301.7 161.7L291.2 161.3Z"/>
<path stroke="#e9bb30" d="M313.8 171.7L301.7 161.7"/>
<path stroke="#f9ba3d" d="M291.2 161.3L301.7 161.7"/>
<path stroke="#f1ba37" d="M313.8 171.7L303.3 170.7L291.2 161.3"/>
<path fill="#fff" d="M292.7 169.8L303.3 170.7L291.2 161.3L280.6 160.7Z"/>
<path stroke="#f1ba37" d="M303.3 170.7L291.2 161.3"/>
<path stroke="#fdbd3d" d="M280.6 160.7L291.2 161.3"/>
<path stroke="#f8ba3d" d="M303.3 170.7L292.7 169.8L280.6 160.7"/>
<path fill="#fff" d="M282.2 168.9L292.7 169.8L280.6 160.7L270.1 160.2Z"/>
<path stroke="#f8ba3d" d="M292.7 169.8L280.6 160.7"/>
<path stroke="#fec239" d="M270.1 160.2L280.6 160.7"/>
<path stroke="#febd3c" d="M292.7 169.8L282.2 168.9L270.1 160.2"/>
<path fill="#fff" d="M271.6 168.0L282.2 168.9L270.1 160.2L259.5 159.6Z"/>
<path stroke="#febd3c" d="M282.2 168.9L270.1 160.2"/>
<path stroke="#fec636" d="M259.5 159.6L270.1 160.2"/>
<path stroke="#fec239" d="M282.2 168.9L271.6 168.0L259.5 159.6"/>
<path fill="#fff" d="M261.1 167.2L271.6 168.0L259.5 159.6L249.0 159.1Z"/>
<path stroke="#fec239" d="M271.6 168.0L259.5 159.6"/>
<path stroke="#fdcb33" d="M249.0 159.1L259.5 159.6"/>
<path stroke="#fec735" d="M271.6 168.0L261.1 167.2L249.0 159.1"/>
<path fill="#fff" d="M250.6 166.5L261.1 167.2L249.0 159.1L238.5 158.7Z"/>
<path stroke="#fec735" d="M261.1 167.2L249.0 159.1"/>
<path stroke="#fcd030" d="M238.5 158.7L249.0 159.1"/>
<path stroke="#fdcc32" d="M261.1 167.2L250.6 166.5L238.5 158.7"/>
<path fill="#fff" d="M240.0 165.9L250.6 166.5L238.5 158.7L227.9 158.3Z"/>
<path stroke="#fdcc32" d="M250.6 166.5L238.5 158.7"/>
<path stroke="#fad52e" d="M227.9 158.3L238.5 158.7"/>
<path stroke="#fbd12f" d="M250.6 166.5L240.0 165.9L227.9 158.3"/>
<path fill="#fff" d="M229.5 165.4L240.0 165.9L227.9 158.3L217.4 158.0Z"/>
<path stroke="#fbd12f" d="M240.0 165.9L227.9 158.3"/>
<path stroke="#f8d92b" d="M217.4 158.0L227.9 158.3"/>
<path stroke="#f9d62d" d="M240.0 165.9L229.5 165.4L217.4 158.0"/>
<path fill="#fff" d="M218.9 165.0L229.5 165.4L217.4 158.0L206.8 157.8Z"/>
<path stroke="#f9d62d" d="M229.5 165.4L217.4 158.0"/>
<path stroke="#f6de29" d="M206.8 157.8L217.4 158.0"/>
<path stroke="#f7db2a" d="M229.5 165.4L218.9 165.0L206.8 157.8"/>
<path fill="#fff" d="M208.4 164.8L218.9 165.0L206.8 157.8L196.3 157.6Z"/>
<path stroke="#f7db2a" d="M218.9 165.0L206.8 157.8"/>
<path stroke="#f5e227" d="M196.3 157.6L206.8 157.8"/>
<path stroke="#f6e028" d="M218.9 165.0L208.4 164.8L196.3 157.6"/>
<path fill="#fff" d="M197.9 164.6L208.4 164.8L196.3 157.6L185.8 157.6Z"/>
<path stroke="#f6e028" d="M208.4 164.8L196.3 157.6"/>
<path stroke="#f5e725" d="M185.8 157.6L196.3 157.6"/>
<path stroke="#f5e426" d="M208.4 164.8L197.9 164.6L185.8 157.6"/>
<path fill="#fff" d="M187.3 164.5L197.9 164.6L185.8 157.6L175.2 157.6Z"/>
<path stroke="#f5e426" d="M197.9 164.6L185.8 157.6"/>
<path stroke="#f5eb23" d="M175.2 157.6L185.8 157.6"/>
<path stroke="#f5e924" d="M197.9 164.6L187.3 164.5L175.2 157.6"/>
<path fill="#fff" d="M176.8 164.5L187.3 164.5L175.2 157.6L164.7 157.7Z"/>
<path stroke="#f5e924" d="M187.3 164.5L175.2 157.6"/>
<path stroke="#f5ef21" d="M164.7 157.7L175.2 157.6"/>
<path stroke="#f5ed22" d="M187.3 164.5L176.8 164.5L164.7 157.7"/>
<path fill="#fff" d="M166.2 164.6L176.8 164.5L164.7 157.7L154.1 157.9Z"/>
<path stroke="#f5ed22" d="M176.8 164.5L164.7 157.7"/>
<path stroke="#f6f21d" d="M154.1 157.9L164.7 157.7"/>
<path stroke="#f6f11f" d="M176.8 164.5L166.2 164.6L154.1 157.9"/>
<path fill="#fff" d="M155.7 164.8L166.2 164.6L154.1 157.9L143.6 158.2Z"/>
<path stroke="#f6f11f" d="M166.2 164.6L154.1 157.9"/>
<path stroke="#f7f61a" d="M143.6 158.2L154.1 157.9"/>
<path stroke="#f7f41c" d="M166.2 164.6L155.7 164.8L143.6 158.2"/>
<path fill="#fff" d="M505.1 124.9L515.6 117.9L503.5 109.3L493.0 115.9Z"/>
<path stroke="#f9bb3d" d="M515.6 117.9L503.5 109.3"/>
<path stroke="#f8ba3d" d="M493.0 115.9L503.5 109.3"/>
<path stroke="#f1ba37" d="M515.6 117.9L505.1 124.9L493.0 115.9"/>
<path fill="#fff" d="M494.5 132.0L505.1 124.9L493.0 115.9L482.4 122.5Z"/>
<path stroke="#f1ba37" d="M505.1 124.9L493.0 115.9"/>
<path stroke="#f1ba37" d="M482.4 122.5L493.0 115.9"/>
<path stroke="#e9bb2f" d="M505.1 124.9L494.5 132.0L482.4 122.5"/>
<path fill="#fff" d="M484.0 139.1L494.5 132.0L482.4 122.5L471.9 129.1Z"/>
<path stroke="#e9bb2f" d="M494.5 132.0L482.4 122.5"/>
<path stroke="#e9bb30" d="M471.9 129.1L482.4 122.5"/>
<path stroke="#dfbc2a" d="M494.5 132.0L484.0 139.1L471.9 129.1"/>
<path fill="#fff" d="M473.4 146.1L484.0 139.1L471.9 129.1L461.3 135.6Z"/>
<path stroke="#dfbc2a" d="M484.0 139.1L471.9 129.1"/>
<path stroke="#e1bc2b" d="M461.3 135.6L471.9 129.1"/>
<path stroke="#d4bf28" d="M484.0 139.1L473.4 146.1L461.3 135.6"/>
<path fill="#fff" d="M462.9 153.0L473.4 146.1L461.3 135.6L450.8 141.9Z"/>
<path stroke="#d4bf28" d="M473.4 146.1L461.3 135.6"/>
<path stroke="#d8be28" d="M450.8 141.9L461.3 135.6"/>
<path stroke="#c9c129" d="M473.4 146.1L462.9 153.0L450.8 141.9"/>
<path fill="#fff" d="M452.4 159.7L462.9 153.0L450.8 141.9L440.3 147.9Z"/>
<path stroke="#c9c129" d="M462.9 153.0L450.8 141.9"/>
<path stroke="#d0c028" d="M440.3 147.9L450.8 141.9"/>
<path stroke="#bec32e" d="M462.9 153.0L452.4 159.7L440.3 147.9"/>
<path fill="#fff" d="M441.8 165.9L452.4 159.7L440.3 147.9L429.7 153.6Z"/>
<path stroke="#bec32e" d="M452.4 159.7L440.3 147.9"/>
<path stroke="#c8c129" d="M429.7 153.6L440.3 147.9"/>
<path stroke="#b3c534" d="M452.4 159.7L441.8 165.9L429.7 153.6"/>
<path fill="#fff" d="M431.3 171.5L441.8 165.9L429.7 153.6L419.2 158.7Z"/>
<path stroke="#b3c534" d="M441.8 165.9L429.7 153.6"/>
<path stroke="#c1c32c" d="M419.2 158.7L429.7 153.6"/>
<path stroke="#abc739" d="M441.8 165.9L431.3 171.5L419.2 158.7"/>
<path fill="#fff" d="M420.7 176.4L431.3 171.5L419.2 158.7L408.6 163.1Z"/>
<path stroke="#abc739" d="M431.3 171.5L419.2 158.7"/>
<path stroke="#bdc42f" d="M408.6 163.1L419.2 158.7"/>
<path stroke="#a4c83e" d="M431.3 171.5L420.7 176.4L408.6 163.1"/>
<path fill="#fff" d="M410.2 180.3L420.7 176.4L408.6 163.1L398.1 166.8Z"/>
<path stroke="#a4c83e" d="M420.7 176.4L408.6 163.1"/>
<path stroke="#bac430" d="M398.1 166.8L408.6 163.1"/>
<path stroke="#a1c840" d="M420.7 176.4L410.2 180.3L398.1 166.8"/>
<path fill="#fff" d="M399.7 183.1L410.2 180.3L398.1 166.8L387.6 169.6Z"/>
<path stroke="#a1c840" d="M410.2 180.3L398.1 166.8"/>
<path stroke="#bac430" d="M387.6 169.6L398.1 166.8"/>
<path stroke="#a1c840" d="M410.2 180.3L399.7 183.1L387.6 169.6"/>
<path fill="#fff" d="M389.1 184.9L399.7 183.1L387.6 169.6L377.0 171.6Z"/>
<path stroke="#a1c840" d="M399.7 183.1L387.6 169.6"/>
<path stroke="#bdc42f" d="M377.0 171.6L387.6 169.6"/>
<path stroke="#a4c83e" d="M399.7 183.1L389.1 184.9L377.0 171.6"/>
<path fill="#fff" d="M378.6 185.7L389.1 184.9L377.0 171.6L366.5 172.9Z"/>
<path stroke="#a4c83e" d="M389.1 184.9L377.0 171.6"/>
<path stroke="#c1c32c" d="M366.5 172.9L377.0 171.6"/>
<path stroke="#abc739" d="M389.1 184.9L378.6 185.7L366.5 172.9"/>
<path fill="#fff" d="M368.0 185.8L378.6 185.7L366.5 172.9L355.9 173.4Z"/>
<path stroke="#abc739" d="M378.6 185.7L366.5 172.9"/>
<path stroke="#c8c129" d="M355.9 173.4L366.5 172.9"/>
<path stroke="#b3c534" d="M378.6 185.7L368.0 185.8L355.9 173.4"/>
<path fill="#fff" d="M357.5 185.2L368.0 185.8L355.9 173.4L345.4 173.5Z"/>
<path stroke="#b3c534" d="M368.0 185.8L355.9 173.4"/>
<path stroke="#d0c028" d="M345.4 173.5L355.9 173.4"/>
<path stroke="#bec32e" d="M368.0 185.8L357.5 185.2L345.4 173.5"/>
<path fill="#fff" d="M347.0 184.3L357.5 185.2L345.4 173.5L334.9 173.1Z"/>
<path stroke="#bec32e" d="M357.5 185.2L345.4 173.5"/>
<path stroke="#d8be28" d="M334.9 173.1L345.4 173.5"/>
<path stroke="#c9c129" d="M357.5 185.2L347.0 184.3L334.9 173.1"/>
<path fill="#fff" d="M336.4 183.0L347.0 184.3L334.9 173.1L324.3 172.5Z"/>
<path stroke="#c9c129" d="M347.0 184.3L334.9 173.1"/>
<path stroke="#e1bc2b" d="M324.3 172.5L334.9 173.1"/>
<path stroke="#d4bf28" d="M347.0 184.3L336.4 183.0L324.3 172.5"/>
<path fill="#fff" d="M325.9 181.7L336.4 183.0L324.3 172.5L313.8 171.7Z"/>
<path stroke="#d4bf28" d="M336.4 183.0L324.3 172.5"/>
<path stroke="#e9bb30" d="M313.8 171.7L324.3 172.5"/>
<path stroke="#dfbc2a" d="M336.4 183.0L325.9 181.7L313.8 171.7"/>
<path fill="#fff" d="M315.4 180.2L325.9 181.7L313.8 171.7L303.3 170.7Z"/>
<path stroke="#dfbc2a" d="M325.9 181.7L313.8 171.7"/>
<path stroke="#f1ba37" d="M303.3 170.7L313.8 171.7"/>
<path stroke="#e9bb2f" d="M325.9 181.7L315.4 180.2L303.3 170.7"/>
<path fill="#fff" d="M304.8 178.9L315.4 180.2L303.3 170.7L292.7 169.8Z"/>
<path stroke="#e9bb2f" d="M315.4 180.2L303.3 170.7"/>
<path stroke="#f8ba3d" d="M292.7 169.8L303.3 170.7"/>
<path stroke="#f1ba37" d="M315.4 180.2L304.8 178.9L292.7 169.8"/>
<path fill="#fff" d="M294.3 177.6L304.8 178.9L292.7 169.8L282.2 168.9Z"/>
<path stroke="#f1ba37" d="M304.8 178.9L292.7 169.8"/>
<path stroke="#febd3c" d="M282.2 168.9L292.7 169.8"/>
<path stroke="#f9bb3d" d="M304.8 178.9L294.3 177.6L282.2 168.9"/>
<path fill="#fff" d="M283.7 176.4L294.3 177.6L282.2 168.9L271.6 168.0Z"/>
<path stroke="#f9bb3d" d="M294.3 177.6L282.2 168.9"/>
<path stroke="#fec239" d="M271.6 168.0L282.2 168.9"/>
<path stroke="#febe3c" d="M294.3 177.6L283.7 176.4L271.6 168.0"/>
<path fill="#fff" d="M273.2 175.3L283.7 176.4L271.6 168.0L261.1 167.2Z"/>
<path stroke="#febe3c" d="M283.7 176.4L271.6 168.0"/>
<path stroke="#fec735" d="M261.1 167.2L271.6 168.0"/>
<path stroke="#fec438" d="M283.7 176.4L273.2 175.3L261.1 167.2"/>
<path fill="#fff" d="M262.7 174.3L273.2 175.3L261.1 167.2L250.6 166.5Z"/>
<path stroke="#fec438" d="M273.2 175.3L261.1 167.2"/>
<path stroke="#fdcc32" d="M250.6 166.5L261.1 167.2"/>
<path stroke="#fec934" d="M273.2 175.3L262.7 174.3L250.6 166.5"/>
<path fill="#fff" d="M252.1 173.5L262.7 174.3L250.6 166.5L240.0 165.9Z"/>
<path stroke="#fec934" d="M262.7 174.3L250.6 166.5"/>
<path stroke="#fbd12f" d="M240.0 165.9L250.6 166.5"/>
<path stroke="#fdce31" d="M262.7 174.3L252.1 173.5L240.0 165.9"/>
<path fill="#fff" d="M241.6 172.8L252.1 173.5L240.0 165.9L229.5 165.4Z"/>
<path stroke="#fdce31" d="M252.1 173.5L240.0 165.9"/>
<path stroke="#f9d62d" d="M229.5 165.4L240.0 165.9"/>
<path stroke="#fbd42e" d="M252.1 173.5L241.6 172.8L229.5 165.4"/>
<path fill="#fff" d="M231.0 172.2L241.6 172.8L229.5 165.4L218.9 165.0Z"/>
<path stroke="#fbd42e" d="M241.6 172.8L229.5 165.4"/>
<path stroke="#f7db2a" d="M218.9 165.0L229.5 165.4"/>
<path stroke="#f8d92c" d="M241.6 172.8L231.0 172.2L218.9 165.0"/>
<path fill="#fff" d="M220.5 171.8L231.0 172.2L218.9 165.0L208.4 164.8Z"/>
<path stroke="#f8d92c" d="M231.0 172.2L218.9 165.0"/>
<path stroke="#f6e028" d="M208.4 164.8L218.9 165.0"/>
<path stroke="#f6de29" d="M231.0 172.2L220.5 171.8L208.4 164.8"/>
<path fill="#fff" d="M210.0 171.5L220.5 171.8L208.4 164.8L197.9 164.6Z"/>
<path stroke="#f6de29" d="M220.5 171.8L208.4 164.8"/>
<path stroke="#f5e426" d="M197.9 164.6L208.4 164.8"/>
<path stroke="#f5e227" d="M220.5 171.8L210.0 171.5L197.9 164.6"/>
<path fill="#fff" d="M199.4 171.3L210.0 171.5L197.9 164.6L187.3 164.5Z"/>
<path stroke="#f5e227" d="M210.0 171.5L197.9 164.6"/>
<path stroke="#f5e924" d="M187.3 164.5L197.9 164.6"/>
<path stroke="#f5e725" d="M210.0 171.5L199.4 171.3L187.3 164.5"/>
<path fill="#fff" d="M188.9 171.2L199.4 171.3L187.3 164.5L176.8 164.5Z"/>
<path stroke="#f5e725" d="M199.4 171.3L187.3 164.5"/>
<path stroke="#f5ed22" d="M176.8 164.5L187.3 164.5"/>
<path stroke="#f5eb23" d="M199.4 171.3L188.9 171.2L176.8 164.5"/>
<path fill="#fff" d="M178.3 171.2L188.9 171.2L176.8 164.5L166.2 164.6Z"/>
<path stroke="#f5eb23" d="M188.9 171.2L176.8 164.5"/>
<path stroke="#f6f11f" d="M166.2 164.6L176.8 164.5"/>
<path stroke="#f6ef20" d="M188.9 171.2L178.3 171.2L166.2 164.6"/>
<path fill="#fff" d="M167.8 171.3L178.3 171.2L166.2 164.6L155.7 164.8Z"/>
<path stroke="#f6ef20" d="M178.3 171.2L166.2 164.6"/>
<path stroke="#f7f41c" d="M155.7 164.8L166.2 164.6"/>
<path stroke="#f7f31d" d="M178.3 171.2L167.8 171.3L155.7 164.8"/>
<path fill="#fff" d="M517.2 133.9L527.7 126.5L515.6 117.9L505.1 124.9Z"/>
<path stroke="#f4ba39" d="M527.7 126.5L515.6 117.9"/>
<path stroke="#f1ba37" d="M505.1 124.9L515.6 117.9"/>
<path stroke="#eaba31" d="M527.7 126.5L517.2 133.9L505.1 124.9"/>
<path fill="#fff" d="M506.6 141.5L517.2 133.9L505.1 124.9L494.5 132.0Z"/>
<path stroke="#eaba31" d="M517.2 133.9L505.1 124.9"/>
<path stroke="#e9bb2f" d="M494.5 132.0L505.1 124.9"/>
<path stroke="#dfbc2a" d="M517.2 133.9L506.6 141.5L494.5 132.0"/>
<path fill="#fff" d="M496.1 149.1L506.6 141.5L494.5 132.0L484.0 139.1Z"/>
<path stroke="#dfbc2a" d="M506.6 141.5L494.5 132.0"/>
<path stroke="#dfbc2a" d="M484.0 139.1L494.5 132.0"/>
<path stroke="#d3bf27" d="M506.6 141.5L496.1 149.1L484.0 139.1"/>
<path fill="#fff" d="M485.5 156.8L496.1 149.1L484.0 139.1L473.4 146.1Z"/>
<path stroke="#d3bf27" d="M496.1 149.1L484.0 139.1"/>
<path stroke="#d4bf28" d="M473.4 146.1L484.0 139.1"/>
<path stroke="#c6c22a" d="M496.1 149.1L485.5 156.8L473.4 146.1"/>
<path fill="#fff" d="M475.0 164.4L485.5 156.8L473.4 146.1L462.9 153.0Z"/>
<path stroke="#c6c22a" d="M485.5 156.8L473.4 146.1"/>
<path stroke="#c9c129" d="M462.9 153.0L473.4 146.1"/>
<path stroke="#b8c431" d="M485.5 156.8L475.0 164.4L462.9 153.0"/>
<path fill="#fff" d="M464.5 171.9L475.0 164.4L462.9 153.0L452.4 159.7Z"/>
<path stroke="#b8c431" d="M475.0 164.4L462.9 153.0"/>
<path stroke="#bec32e" d="M452.4 159.7L462.9 153.0"/>
<path stroke="#a9c73a" d="M475.0 164.4L464.5 171.9L452.4 159.7"/>
<path fill="#fff" d="M453.9 178.9L464.5 171.9L452.4 159.7L441.8 165.9Z"/>
<path stroke="#a9c73a" d="M464.5 171.9L452.4 159.7"/>
<path stroke="#b3c534" d="M441.8 165.9L452.4 159.7"/>
<path stroke="#9cc944" d="M464.5 171.9L453.9 178.9L441.8 165.9"/>
<path fill="#fff" d="M443.4 185.2L453.9 178.9L441.8 165.9L431.3 171.5Z"/>
<path stroke="#9cc944" d="M453.9 178.9L441.8 165.9"/>
<path stroke="#abc739" d="M431.3 171.5L441.8 165.9"/>
<path stroke="#90ca4d" d="M453.9 178.9L443.4 185.2L431.3 171.5"/>
<path fill="#fff" d="M432.8 190.6L443.4 185.2L431.3 171.5L420.7 176.4Z"/>
<path stroke="#90ca4d" d="M443.4 185.2L431.3 171.5"/>
<path stroke="#a4c83e" d="M420.7 176.4L431.3 171.5"/>
<path stroke="#87cb54" d="M443.4 185.2L432.8 190.6L420.7 176.4"/>
<path fill="#fff" d="M422.3 194.8L432.8 190.6L420.7 176.4L410.2 180.3Z"/>
<path stroke="#87cb54" d="M432.8 190.6L420.7 176.4"/>
<path stroke="#a1c840" d="M410.2 180.3L420.7 176.4"/>
<path stroke="#82cc57" d="M432.8 190.6L422.3 194.8L410.2 180.3"/>
<path fill="#fff" d="M411.8 197.7L422.3 194.8L410.2 180.3L399.7 183.1Z"/>
<path stroke="#82cc57" d="M422.3 194.8L410.2 180.3"/>
<path stroke="#a1c840" d="M399.7 183.1L410.2 180.3"/>
<path stroke="#82cc57" d="M422.3 194.8L411.8 197.7L399.7 183.1"/>
<path fill="#fff" d="M401.2 199.1L411.8 197.7L399.7 183.1L389.1 184.9Z"/>
<path stroke="#82cc57" d="M411.8 197.7L399.7 183.1"/>
<path stroke="#a4c83e" d="M389.1 184.9L399.7 183.1"/>
<path stroke="#87cb54" d="M411.8 197.7L401.2 199.1L389.1 184.9"/>
<path fill="#fff" d="M390.7 199.4L401.2 199.1L389.1 184.9L378.6 185.7Z"/>
<path stroke="#87cb54" d="M401.2 199.1L389.1 184.9"/>
<path stroke="#abc739" d="M378.6 185.7L389.1 184.9"/>
<path stroke="#90ca4d" d="M401.2 199.1L390.7 199.4L378.6 185.7"/>
<path fill="#fff" d="M380.1 198.8L390.7 199.4L378.6 185.7L368.0 185.8Z"/>
<path stroke="#90ca4d" d="M390.7 199.4L378.6 185.7"/>
<path stroke="#b3c534" d="M368.0 185.8L378.6 185.7"/>
<path stroke="#9cc944" d="M390.7 199.4L380.1 198.8L368.0 185.8"/>
<path fill="#fff" d="M369.6 197.4L380.1 198.8L368.0 185.8L357.5 185.2Z"/>
<path stroke="#9cc944" d="M380.1 198.8L368.0 185.8"/>
<path stroke="#bec32e" d="M357.5 185.2L368.0 185.8"/>
<path stroke="#a9c73a" d="M380.1 198.8L369.6 197.4L357.5 185.2"/>
<path fill="#fff" d="M359.1 195.7L369.6 197.4L357.5 185.2L347.0 184.3Z"/>
<path stroke="#a9c73a" d="M369.6 197.4L357.5 185.2"/>
<path stroke="#c9c129" d="M347.0 184.3L357.5 185.2"/>
<path stroke="#b8c431" d="M369.6 197.4L359.1 195.7L347.0 184.3"/>
<path fill="#fff" d="M348.5 193.7L359.1 195.7L347.0 184.3L336.4 183.0Z"/>
<path stroke="#b8c431" d="M359.1 195.7L347.0 184.3"/>
<path stroke="#d4bf28" d="M336.4 183.0L347.0 184.3"/>
<path stroke="#c6c22a" d="M359.1 195.7L348.5 193.7L336.4 183.0"/>
<path fill="#fff" d="M338.0 191.7L348.5 193.7L336.4 183.0L325.9 181.7Z"/>
<path stroke="#c6c22a" d="M348.5 193.7L336.4 183.0"/>
<path stroke="#dfbc2a" d="M325.9 181.7L336.4 183.0"/>
<path stroke="#d3bf27" d="M348.5 193.7L338.0 191.7L325.9 181.7"/>
<path fill="#fff" d="M327.5 189.7L338.0 191.7L325.9 181.7L315.4 180.2Z"/>
<path stroke="#d3bf27" d="M338.0 191.7L325.9 181.7"/>
<path stroke="#e9bb2f" d="M315.4 180.2L325.9 181.7"/>
<path stroke="#dfbc2a" d="M338.0 191.7L327.5 189.7L315.4 180.2"/>
<path fill="#fff" d="M316.9 187.9L327.5 189.7L315.4 180.2L304.8 178.9Z"/>
<path stroke="#dfbc2a" d="M327.5 189.7L315.4 180.2"/>
<path stroke="#f1ba37" d="M304.8 178.9L315.4 180.2"/>
<path stroke="#eaba31" d="M327.5 189.7L316.9 187.9L304.8 178.9"/>
<path fill="#fff" d="M306.4 186.1L316.9 187.9L304.8 178.9L294.3 177.6Z"/>
<path stroke="#eaba31" d="M316.9 187.9L304.8 178.9"/>
<path stroke="#f9bb3d" d="M294.3 177.6L304.8 178.9"/>
<path stroke="#f4ba39" d="M316.9 187.9L306.4 186.1L294.3 177.6"/>
<path fill="#fff" d="M295.8 184.6L306.4 186.1L294.3 177.6L283.7 176.4Z"/>
<path stroke="#f4ba39" d="M306.4 186.1L294.3 177.6"/>
<path stroke="#febe3c" d="M283.7 176.4L294.3 177.6"/>
<path stroke="#fbbc3d" d="M306.4 186.1L295.8 184.6L283.7 176.4"/>
<path fill="#fff" d="M285.3 183.2L295.8 184.6L283.7 176.4L273.2 175.3Z"/>
<path stroke="#fbbc3d" d="M295.8 184.6L283.7 176.4"/>
<path stroke="#fec438" d="M273.2 175.3L283.7 176.4"/>
<path stroke="#fec03a" d="M295.8 184.6L285.3 183.2L273.2 175.3"/>
<path fill="#fff" d="M274.8 182.0L285.3 183.2L273.2 175.3L262.7 174.3Z"/>
<path stroke="#fec03a" d="M285.3 183.2L273.2 175.3"/>
<path stroke="#fec934" d="M262.7 174.3L273.2 175.3"/>
<path stroke="#fec636" d="M285.3 183.2L274.8 182.0L262.7 174.3"/>
<path fill="#fff" d="M264.2 180.9L274.8 182.0L262.7 174.3L252.1 173.5Z"/>
<path stroke="#fec636" d="M274.8 182.0L262.7 174.3"/>
<path stroke="#fdce31" d="M252.1 173.5L262.7 174.3"/>
<path stroke="#fdcc32" d="M274.8 182.0L264.2 180.9L252.1 173.5"/>
<path fill="#fff" d="M253.7 180.0L264.2 180.9L252.1 173.5L241.6 172.8Z"/>
<path stroke="#fdcc32" d="M264.2 180.9L252.1 173.5"/>
<path stroke="#fbd42e" d="M241.6 172.8L252.1 173.5"/>
<path stroke="#fcd12f" d="M264.2 180.9L253.7 180.0L241.6 172.8"/>
<path fill="#fff" d="M243.1 179.3L253.7 180.0L241.6 172.8L231.0 172.2Z"/>
<path stroke="#fcd12f" d="M253.7 180.0L241.6 172.8"/>
<path stroke="#f8d92c" d="M231.0 172.2L241.6 172.8"/>
<path stroke="#f9d62d" d="M253.7 180.0L243.1 179.3L231.0 172.2"/>
<path fill="#fff" d="M232.6 178.7L243.1 179.3L231.0 172.2L220.5 171.8Z"/>
<path stroke="#f9d62d" d="M243.1 179.3L231.0 172.2"/>
<path stroke="#f6de29" d="M220.5 171.8L231.0 172.2"/>
<path stroke="#f7dc2a" d="M243.1 179.3L232.6 178.7L220.5 171.8"/>
<path fill="#fff" d="M222.1 178.3L232.6 178.7L220.5 171.8L210.0 171.5Z"/>
<path stroke="#f7dc2a" d="M232.6 178.7L220.5 171.8"/>
<path stroke="#f5e227" d="M210.0 171.5L220.5 171.8"/>
<path stroke="#f6e028" d="M232.6 178.7L222.1 178.3L210.0 171.5"/>
<path fill="#fff" d="M211.5 178.0L222.1 178.3L210.0 171.5L199.4 171.3Z"/>
<path stroke="#f6e028" d="M222.1 178.3L210.0 171.5"/>
<path stroke="#f5e725" d="M199.4 171.3L210.0 171.5"/>
<path stroke="#f5e526" d="M222.1 178.3L211.5 178.0L199.4 171.3"/>
<path fill="#fff" d="M201.0 177.8L211.5 178.0L199.4 171.3L188.9 171.2Z"/>
<path stroke="#f5e526" d="M211.5 178.0L199.4 171.3"/>
<path stroke="#f5eb23" d="M188.9 171.2L199.4 171.3"/>
<path stroke="#f5ea24" d="M211.5 178.0L201.0 177.8L188.9 171.2"/>
<path fill="#fff" d="M190.4 177.7L201.0 177.8L188.9 171.2L178.3 171.2Z"/>
<path stroke="#f5ea24" d="M201.0 177.8L188.9 171.2"/>
<path stroke="#f6ef20" d="M178.3 171.2L188.9 171.2"/>
<path stroke="#f5ee21" d="M201.0 177.8L190.4 177.7L178.3 171.2"/>
<path fill="#fff" d="M179.9 177.7L190.4 177.7L178.3 171.2L167.8 171.3Z"/>
<path stroke="#f5ee21" d="M190.4 177.7L178.3 171.2"/>
<path stroke="#f7f31d" d="M167.8 171.3L178.3 171.2"/>
<path stroke="#f6f21e" d="M190.4 177.7L179.9 177.7L167.8 171.3"/>
<path fill="#fff" d="M529.3 142.8L539.8 134.9L527.7 126.5L517.2 133.9Z"/>
<path stroke="#eeba34" d="M539.8 134.9L527.7 126.5"/>
<path stroke="#eaba31" d="M517.2 133.9L527.7 126.5"/>
<path stroke="#e3bc2c" d="M539.8 134.9L529.3 142.8L517.2 133.9"/>
<path fill="#fff" d="M518.7 150.8L529.3 142.8L517.2 133.9L506.6 141.5Z"/>
<path stroke="#e3bc2c" d="M529.3 142.8L517.2 133.9"/>
<path stroke="#dfbc2a" d="M506.6 141.5L517.2 133.9"/>
<path stroke="#d6be28" d="M529.3 142.8L518.7 150.8L506.6 141.5"/>
<path fill="#fff" d="M508.2 159.1L518.7 150.8L506.6 141.5L496.1 149.1Z"/>
<path stroke="#d6be28" d="M518.7 150.8L506.6 141.5"/>
<path stroke="#d3bf27" d="M496.1 149.1L506.6 141.5"/>
<path stroke="#c7c12a" d="M518.7 150.8L508.2 159.1L496.1 149.1"/>
<path fill="#fff" d="M497.6 167.5L508.2 159.1L496.1 149.1L485.5 156.8Z"/>
<path stroke="#c7c12a" d="M508.2 159.1L496.1 149.1"/>
<path stroke="#c6c22a" d="M485.5 156.8L496.1 149.1"/>
<path stroke="#b6c532" d="M508.2 159.1L497.6 167.5L485.5 156.8"/>
<path fill="#fff" d="M487.1 176.0L497.6 167.5L485.5 156.8L475.0 164.4Z"/>
<path stroke="#b6c532" d="M497.6 167.5L485.5 156.8"/>
<path stroke="#b8c431" d="M475.0 164.4L485.5 156.8"/>
<path stroke="#a4c83e" d="M497.6 167.5L487.1 176.0L475.0 164.4"/>
<path fill="#fff" d="M476.6 184.4L487.1 176.0L475.0 164.4L464.5 171.9Z"/>
<path stroke="#a4c83e" d="M487.1 176.0L475.0 164.4"/>
<path stroke="#a9c73a" d="M464.5 171.9L475.0 164.4"/>
<path stroke="#92ca4c" d="M487.1 176.0L476.6 184.4L464.5 171.9"/>
<path fill="#fff" d="M466.0 192.5L476.6 184.4L464.5 171.9L453.9 178.9Z"/>
<path stroke="#92ca4c" d="M476.6 184.4L464.5 171.9"/>
<path stroke="#9cc944" d="M453.9 178.9L464.5 171.9"/>
<path stroke="#80cc59" d="M476.6 184.4L466.0 192.5L453.9 178.9"/>
<path fill="#fff" d="M455.5 199.9L466.0 192.5L453.9 178.9L443.4 185.2Z"/>
<path stroke="#80cc59" d="M466.0 192.5L453.9 178.9"/>
<path stroke="#90ca4d" d="M443.4 185.2L453.9 178.9"/>
<path stroke="#70cd65" d="M466.0 192.5L455.5 199.9L443.4 185.2"/>
<path fill="#fff" d="M444.9 206.1L455.5 199.9L443.4 185.2L432.8 190.6Z"/>
<path stroke="#70cd65" d="M455.5 199.9L443.4 185.2"/>
<path stroke="#87cb54" d="M432.8 190.6L443.4 185.2"/>
<path stroke="#65cd6e" d="M455.5 199.9L444.9 206.1L432.8 190.6"/>
<path fill="#fff" d="M434.4 210.8L444.9 206.1L432.8 190.6L422.3 194.8Z"/>
<path stroke="#65cd6e" d="M444.9 206.1L432.8 190.6"/>
<path stroke="#82cc57" d="M422.3 194.8L432.8 190.6"/>
<path stroke="#60cd73" d="M444.9 206.1L434.4 210.8L422.3 194.8"/>
<path fill="#fff" d="M423.9 213.6L434.4 210.8L422.3 194.8L411.8 197.7Z"/>
<path stroke="#60cd73" d="M434.4 210.8L422.3 194.8"/>
<path stroke="#82cc57" d="M411.8 197.7L422.3 194.8"/>
<path stroke="#60cd73" d="M434.4 210.8L423.9 213.6L411.8 197.7"/>
<path fill="#fff" d="M413.3 214.6L423.9 213.6L411.8 197.7L401.2 199.1Z"/>
<path stroke="#60cd73" d="M423.9 213.6L411.8 197.7"/>
<path stroke="#87cb54" d="M401.2 199.1L411.8 197.7"/>
<path stroke="#65cd6e" d="M423.9 213.6L413.3 214.6L401.2 199.1"/>
<path fill="#fff" d="M402.8 214.1L413.3 214.6L401.2 199.1L390.7 199.4Z"/>
<path stroke="#65cd6e" d="M413.3 214.6L401.2 199.1"/>
<path stroke="#90ca4d" d="M390.7 199.4L401.2 199.1"/>
<path stroke="#70cd65" d="M413.3 214.6L402.8 214.1L390.7 199.4"/>
<path fill="#fff" d="M392.2 212.4L402.8 214.1L390.7 199.4L380.1 198.8Z"/>
<path stroke="#70cd65" d="M402.8 214.1L390.7 199.4"/>
<path stroke="#9cc944" d="M380.1 198.8L390.7 199.4"/>
<path stroke="#80cc59" d="M402.8 214.1L392.2 212.4L380.1 198.8"/>
<path fill="#fff" d="M381.7 210.0L392.2 212.4L380.1 198.8L369.6 197.4Z"/>
<path stroke="#80cc59" d="M392.2 212.4L380.1 198.8"/>
<path stroke="#a9c73a" d="M369.6 197.4L380.1 198.8"/>
<path stroke="#92ca4c" d="M392.2 212.4L381.7 210.0L369.6 197.4"/>
<path fill="#fff" d="M371.2 207.3L381.7 210.0L369.6 197.4L359.1 195.7Z"/>
<path stroke="#92ca4c" d="M381.7 210.0L369.6 197.4"/>
<path stroke="#b8c431" d="M359.1 195.7L369.6 197.4"/>
<path stroke="#a4c83e" d="M381.7 210.0L371.2 207.3L359.1 195.7"/>
<path fill="#fff" d="M360.6 204.5L371.2 207.3L359.1 195.7L348.5 193.7Z"/>
<path stroke="#a4c83e" d="M371.2 207.3L359.1 195.7"/>
<path stroke="#c6c22a" d="M348.5 193.7L359.1 195.7"/>
<path stroke="#b6c532" d="M371.2 207.3L360.6 204.5L348.5 193.7"/>
<path fill="#fff" d="M350.1 201.7L360.6 204.5L348.5 193.7L338.0 191.7Z"/>
<path stroke="#b6c532" d="M360.6 204.5L348.5 193.7"/>
<path stroke="#d3bf27" d="M338.0 191.7L348.5 193.7"/>
<path stroke="#c7c12a" d="M360.6 204.5L350.1 201.7L338.0 191.7"/>
<path fill="#fff" d="M339.6 199.1L350.1 201.7L338.0 191.7L327.5 189.7Z"/>
<path stroke="#c7c12a" d="M350.1 201.7L338.0 191.7"/>
<path stroke="#dfbc2a" d="M327.5 189.7L338.0 191.7"/>
<path stroke="#d6be28" d="M350.1 201.7L339.6 199.1L327.5 189.7"/>
<path fill="#fff" d="M329.0 196.7L339.6 199.1L327.5 189.7L316.9 187.9Z"/>
<path stroke="#d6be28" d="M339.6 199.1L327.5 189.7"/>
<path stroke="#eaba31" d="M316.9 187.9L327.5 189.7"/>
<path stroke="#e3bc2c" d="M339.6 199.1L329.0 196.7L316.9 187.9"/>
<path fill="#fff" d="M318.5 194.5L329.0 196.7L316.9 187.9L306.4 186.1Z"/>
<path stroke="#e3bc2c" d="M329.0 196.7L316.9 187.9"/>
<path stroke="#f4ba39" d="M306.4 186.1L316.9 187.9"/>
<path stroke="#eeba34" d="M329.0 196.7L318.5 194.5L306.4 186.1"/>
<path fill="#fff" d="M307.9 192.6L318.5 194.5L306.4 186.1L295.8 184.6Z"/>
<path stroke="#eeba34" d="M318.5 194.5L306.4 186.1"/>
<path stroke="#fbbc3d" d="M295.8 184.6L306.4 186.1"/>
<path stroke="#f7ba3c" d="M318.5 194.5L307.9 192.6L295.8 184.6"/>
<path fill="#fff" d="M297.4 190.9L307.9 192.6L295.8 184.6L285.3 183.2Z"/>
<path stroke="#f7ba3c" d="M307.9 192.6L295.8 184.6"/>
<path stroke="#fec03a" d="M285.3 183.2L295.8 184.6"/>
<path stroke="#febe3c" d="M307.9 192.6L297.4 190.9L285.3 183.2"/>
<path fill="#fff" d="M286.9 189.4L297.4 190.9L285.3 183.2L274.8 182.0Z"/>
<path stroke="#febe3c" d="M297.4 190.9L285.3 183.2"/>
<path stroke="#fec636" d="M274.8 182.0L285.3 183.2"/>
<path stroke="#fec338" d="M297.4 190.9L286.9 189.4L274.8 182.0"/>
<path fill="#fff" d="M276.3 188.2L286.9 189.4L274.8 182.0L264.2 180.9Z"/>
<path stroke="#fec338" d="M286.9 189.4L274.8 182.0"/>
<path stroke="#fdcc32" d="M264.2 180.9L274.8 182.0"/>
<path stroke="#fec934" d="M286.9 189.4L276.3 188.2L264.2 180.9"/>
<path fill="#fff" d="M265.8 187.1L276.3 188.2L264.2 180.9L253.7 180.0Z"/>
<path stroke="#fec934" d="M276.3 188.2L264.2 180.9"/>
<path stroke="#fcd12f" d="M253.7 180.0L264.2 180.9"/>
<path stroke="#fccf31" d="M276.3 188.2L265.8 187.1L253.7 180.0"/>
<path fill="#fff" d="M255.2 186.2L265.8 187.1L253.7 180.0L243.1 179.3Z"/>
<path stroke="#fccf31" d="M265.8 187.1L253.7 180.0"/>
<path stroke="#f9d62d" d="M243.1 179.3L253.7 180.0"/>
<path stroke="#fad42e" d="M265.8 187.1L255.2 186.2L243.1 179.3"/>
<path fill="#fff" d="M244.7 185.5L255.2 186.2L243.1 179.3L232.6 178.7Z"/>
<path stroke="#fad42e" d="M255.2 186.2L243.1 179.3"/>
<path stroke="#f7dc2a" d="M232.6 178.7L243.1 179.3"/>
<path stroke="#f8da2b" d="M255.2 186.2L244.7 185.5L232.6 178.7"/>
<path fill="#fff" d="M234.2 184.9L244.7 185.5L232.6 178.7L222.1 178.3Z"/>
<path stroke="#f8da2b" d="M244.7 185.5L232.6 178.7"/>
<path stroke="#f6e028" d="M222.1 178.3L232.6 178.7"/>
<path stroke="#f6df29" d="M244.7 185.5L234.2 184.9L222.1 178.3"/>
<path fill="#fff" d="M223.6 184.5L234.2 184.9L222.1 178.3L211.5 178.0Z"/>
<path stroke="#f6df29" d="M234.2 184.9L222.1 178.3"/>
<path stroke="#f5e526" d="M211.5 178.0L222.1 178.3"/>
<path stroke="#f5e427" d="M234.2 184.9L223.6 184.5L211.5 178.0"/>
<path fill="#fff" d="M213.1 184.2L223.6 184.5L211.5 178.0L201.0 177.8Z"/>
<path stroke="#f5e427" d="M223.6 184.5L211.5 178.0"/>
<path stroke="#f5ea24" d="M201.0 177.8L211.5 178.0"/>
<path stroke="#f5e825" d="M223.6 184.5L213.1 184.2L201.0 177.8"/>
<path fill="#fff" d="M202.5 184.1L213.1 184.2L201.0 177.8L190.4 177.7Z"/>
<path stroke="#f5e825" d="M213.1 184.2L201.0 177.8"/>
<path stroke="#f5ee21" d="M190.4 177.7L201.0 177.8"/>
<path stroke="#f5ec22" d="M213.1 184.2L202.5 184.1L190.4 177.7"/>
<path fill="#fff" d="M192.0 184.0L202.5 184.1L190.4 177.7L179.9 177.7Z"/>
<path stroke="#f5ec22" d="M202.5 184.1L190.4 177.7"/>
<path stroke="#f6f21e" d="M179.9 177.7L190.4 177.7"/>
<path stroke="#f6f11f" d="M202.5 184.1L192.0 184.0L179.9 177.7"/>
<path fill="#fff" d="M541.4 151.4L551.9 143.1L539.8 134.9L529.3 142.8Z"/>
<path stroke="#e8bb2f" d="M551.9 143.1L539.8 134.9"/>
<path stroke="#e3bc2c" d="M529.3 142.8L539.8 134.9"/>
<path stroke="#dbbd29" d="M551.9 143.1L541.4 151.4L529.3 142.8"/>
<path fill="#fff" d="M530.8 160.0L541.4 151.4L529.3 142.8L518.7 150.8Z"/>
<path stroke="#dbbd29" d="M541.4 151.4L529.3 142.8"/>
<path stroke="#d6be28" d="M518.7 150.8L529.3 142.8"/>
<path stroke="#ccc028" d="M541.4 151.4L530.8 160.0L518.7 150.8"/>
<path fill="#fff" d="M520.3 168.9L530.8 160.0L518.7 150.8L508.2 159.1Z"/>
<path stroke="#ccc028" d="M530.8 160.0L518.7 150.8"/>
<path stroke="#c7c12a" d="M508.2 159.1L518.7 150.8"/>
<path stroke="#bac430" d="M530.8 160.0L520.3 168.9L508.2 159.1"/>
<path fill="#fff" d="M509.7 178.2L520.3 168.9L508.2 159.1L497.6 167.5Z"/>
<path stroke="#bac430" d="M520.3 168.9L508.2 159.1"/>
<path stroke="#b6c532" d="M497.6 167.5L508.2 159.1"/>
<path stroke="#a6c83d" d="M520.3 168.9L509.7 178.2L497.6 167.5"/>
<path fill="#fff" d="M499.2 187.7L509.7 178.2L497.6 167.5L487.1 176.0Z"/>
<path stroke="#a6c83d" d="M509.7 178.2L497.6 167.5"/>
<path stroke="#a4c83e" d="M487.1 176.0L497.6 167.5"/>
<path stroke="#90ca4d" d="M509.7 178.2L499.2 187.7L487.1 176.0"/>
<path fill="#fff" d="M488.7 197.4L499.2 187.7L487.1 176.0L476.6 184.4Z"/>
<path stroke="#90ca4d" d="M499.2 187.7L487.1 176.0"/>
<path stroke="#92ca4c" d="M476.6 184.4L487.1 176.0"/>
<path stroke="#78cc5f" d="M499.2 187.7L488.7 197.4L476.6 184.4"/>
<path fill="#fff" d="M478.1 206.8L488.7 197.4L476.6 184.4L466.0 192.5Z"/>
<path stroke="#78cc5f" d="M488.7 197.4L476.6 184.4"/>
<path stroke="#80cc59" d="M466.0 192.5L476.6 184.4"/>
<path stroke="#62cd70" d="M488.7 197.4L478.1 206.8L466.0 192.5"/>
<path fill="#fff" d="M467.6 215.6L478.1 206.8L466.0 192.5L455.5 199.9Z"/>
<path stroke="#62cd70" d="M478.1 206.8L466.0 192.5"/>
<path stroke="#70cd65" d="M455.5 199.9L466.0 192.5"/>
<path stroke="#50cc7f" d="M478.1 206.8L467.6 215.6L455.5 199.9"/>
<path fill="#fff" d="M457.0 223.1L467.6 215.6L455.5 199.9L444.9 206.1Z"/>
<path stroke="#50cc7f" d="M467.6 215.6L455.5 199.9"/>
<path stroke="#65cd6e" d="M444.9 206.1L455.5 199.9"/>
<path stroke="#44ca8a" d="M467.6 215.6L457.0 223.1L444.9 206.1"/>
<path fill="#fff" d="M446.5 228.6L457.0 223.1L444.9 206.1L434.4 210.8Z"/>
<path stroke="#44ca8a" d="M457.0 223.1L444.9 206.1"/>
<path stroke="#60cd73" d="M434.4 210.8L444.9 206.1"/>
<path stroke="#3dca90" d="M457.0 223.1L446.5 228.6L434.4 210.8"/>
<path fill="#fff" d="M436.0 231.4L446.5 228.6L434.4 210.8L423.9 213.6Z"/>
<path stroke="#3dca90" d="M446.5 228.6L434.4 210.8"/>
<path stroke="#60cd73" d="M423.9 213.6L434.4 210.8"/>
<path stroke="#3dca90" d="M446.5 228.6L436.0 231.4L423.9 213.6"/>
<path fill="#fff" d="M425.4 231.6L436.0 231.4L423.9 213.6L413.3 214.6Z"/>
<path stroke="#3dca90" d="M436.0 231.4L423.9 213.6"/>
<path stroke="#65cd6e" d="M413.3 214.6L423.9 213.6"/>
<path stroke="#44ca8a" d="M436.0 231.4L425.4 231.6L413.3 214.6"/>
<path fill="#fff" d="M414.9 229.8L425.4 231.6L413.3 214.6L402.8 214.1Z"/>
<path stroke="#44ca8a" d="M425.4 231.6L413.3 214.6"/>
<path stroke="#70cd65" d="M402.8 214.1L413.3 214.6"/>
<path stroke="#50cc7f" d="M425.4 231.6L414.9 229.8L402.8 214.1"/>
<path fill="#fff" d="M404.3 226.7L414.9 229.8L402.8 214.1L392.2 212.4Z"/>
<path stroke="#50cc7f" d="M414.9 229.8L402.8 214.1"/>
<path stroke="#80cc59" d="M392.2 212.4L402.8 214.1"/>
<path stroke="#62cd70" d="M414.9 229.8L404.3 226.7L392.2 212.4"/>
<path fill="#fff" d="M393.8 222.9L404.3 226.7L392.2 212.4L381.7 210.0Z"/>
<path stroke="#62cd70" d="M404.3 226.7L392.2 212.4"/>
<path stroke="#92ca4c" d="M381.7 210.0L392.2 212.4"/>
<path stroke="#78cc5f" d="M404.3 226.7L393.8 222.9L381.7 210.0"/>
<path fill="#fff" d="M383.3 219.0L393.8 222.9L381.7 210.0L371.2 207.3Z"/>
<path stroke="#78cc5f" d="M393.8 222.9L381.7 210.0"/>
<path stroke="#a4c83e" d="M371.2 207.3L381.7 210.0"/>
<path stroke="#90ca4d" d="M393.8 222.9L383.3 219.0L371.2 207.3"/>
<path fill="#fff" d="M372.7 215.1L383.3 219.0L371.2 207.3L360.6 204.5Z"/>
<path stroke="#90ca4d" d="M383.3 219.0L371.2 207.3"/>
<path stroke="#b6c532" d="M360.6 204.5L371.2 207.3"/>
<path stroke="#a6c83d" d="M383.3 219.0L372.7 215.1L360.6 204.5"/>
<path fill="#fff" d="M362.2 211.5L372.7 215.1L360.6 204.5L350.1 201.7Z"/>
<path stroke="#a6c83d" d="M372.7 215.1L360.6 204.5"/>
<path stroke="#c7c12a" d="M350.1 201.7L360.6 204.5"/>
<path stroke="#bac430" d="M372.7 215.1L362.2 211.5L350.1 201.7"/>
<path fill="#fff" d="M351.7 208.2L362.2 211.5L350.1 201.7L339.6 199.1Z"/>
<path stroke="#bac430" d="M362.2 211.5L350.1 201.7"/>
<path stroke="#d6be28" d="M339.6 199.1L350.1 201.7"/>
<path stroke="#ccc028" d="M362.2 211.5L351.7 208.2L339.6 199.1"/>
<path fill="#fff" d="M341.1 205.3L351.7 208.2L339.6 199.1L329.0 196.7Z"/>
<path stroke="#ccc028" d="M351.7 208.2L339.6 199.1"/>
<path stroke="#e3bc2c" d="M329.0 196.7L339.6 199.1"/>
<path stroke="#dbbd29" d="M351.7 208.2L341.1 205.3L329.0 196.7"/>
<path fill="#fff" d="M330.6 202.7L341.1 205.3L329.0 196.7L318.5 194.5Z"/>
<path stroke="#dbbd29" d="M341.1 205.3L329.0 196.7"/>
<path stroke="#eeba34" d="M318.5 194.5L329.0 196.7"/>
<path stroke="#e8bb2f" d="M341.1 205.3L330.6 202.7L318.5 194.5"/>
<path fill="#fff" d="M320.0 200.4L330.6 202.7L318.5 194.5L307.9 192.6Z"/>
<path stroke="#e8bb2f" d="M330.6 202.7L318.5 194.5"/>
<path stroke="#f7ba3c" d="M307.9 192.6L318.5 194.5"/>
<path stroke="#f3ba38" d="M330.6 202.7L320.0 200.4L307.9 192.6"/>
<path fill="#fff" d="M309.5 198.4L320.0 200.4L307.9 192.6L297.4 190.9Z"/>
<path stroke="#f3ba38" d="M320.0 200.4L307.9 192.6"/>
<path stroke="#febe3c" d="M297.4 190.9L307.9 192.6"/>
<path stroke="#fbbc3d" d="M320.0 200.4L309.5 198.4L297.4 190.9"/>
<path fill="#fff" d="M299.0 196.7L309.5 198.4L297.4 190.9L286.9 189.4Z"/>
<path stroke="#fbbc3d" d="M309.5 198.4L297.4 190.9"/>
<path stroke="#fec338" d="M286.9 189.4L297.4 190.9"/>
<path stroke="#fec13a" d="M309.5 198.4L299.0 196.7L286.9 189.4"/>
<path fill="#fff" d="M288.4 195.2L299.0 196.7L286.9 189.4L276.3 188.2Z"/>
<path stroke="#fec13a" d="M299.0 196.7L286.9 189.4"/>
<path stroke="#fec934" d="M276.3 188.2L286.9 189.4"/>
<path stroke="#fec735" d="M299.0 196.7L288.4 195.2L276.3 188.2"/>
<path fill="#fff" d="M277.9 194.0L288.4 195.2L276.3 188.2L265.8 187.1Z"/>
<path stroke="#fec735" d="M288.4 195.2L276.3 188.2"/>
<path stroke="#fccf31" d="M265.8 187.1L276.3 188.2"/>
<path stroke="#fdcd32" d="M288.4 195.2L277.9 194.0L265.8 187.1"/>
<path fill="#fff" d="M267.3 193.0L277.9 194.0L265.8 187.1L255.2 186.2Z"/>
<path stroke="#fdcd32" d="M277.9 194.0L265.8 187.1"/>
<path stroke="#fad42e" d="M255.2 186.2L265.8 187.1"/>
<path stroke="#fbd22f" d="M277.9 194.0L267.3 193.0L255.2 186.2"/>
<path fill="#fff" d="M256.8 192.1L267.3 193.0L255.2 186.2L244.7 185.5Z"/>
<path stroke="#fbd22f" d="M267.3 193.0L255.2 186.2"/>
<path stroke="#f8da2b" d="M244.7 185.5L255.2 186.2"/>
<path stroke="#f9d82c" d="M267.3 193.0L256.8 192.1L244.7 185.5"/>
<path fill="#fff" d="M246.3 191.4L256.8 192.1L244.7 185.5L234.2 184.9Z"/>
<path stroke="#f9d82c" d="M256.8 192.1L244.7 185.5"/>
<path stroke="#f6df29" d="M234.2 184.9L244.7 185.5"/>
<path stroke="#f6dd2a" d="M256.8 192.1L246.3 191.4L234.2 184.9"/>
<path fill="#fff" d="M235.7 190.9L246.3 191.4L234.2 184.9L223.6 184.5Z"/>
<path stroke="#f6dd2a" d="M246.3 191.4L234.2 184.9"/>
<path stroke="#f5e427" d="M223.6 184.5L234.2 184.9"/>
<path stroke="#f5e227" d="M246.3 191.4L235.7 190.9L223.6 184.5"/>
<path fill="#fff" d="M225.2 190.6L235.7 190.9L223.6 184.5L213.1 184.2Z"/>
<path stroke="#f5e227" d="M235.7 190.9L223.6 184.5"/>
<path stroke="#f5e825" d="M213.1 184.2L223.6 184.5"/>
<path stroke="#f5e725" d="M235.7 190.9L225.2 190.6L213.1 184.2"/>
<path fill="#fff" d="M214.6 190.3L225.2 190.6L213.1 184.2L202.5 184.1Z"/>
<path stroke="#f5e725" d="M225.2 190.6L213.1 184.2"/>
<path stroke="#f5ec22" d="M202.5 184.1L213.1 184.2"/>
<path stroke="#f5eb23" d="M225.2 190.6L214.6 190.3L202.5 184.1"/>
<path fill="#fff" d="M204.1 190.2L214.6 190.3L202.5 184.1L192.0 184.0Z"/>
<path stroke="#f5eb23" d="M214.6 190.3L202.5 184.1"/>
<path stroke="#f6f11f" d="M192.0 184.0L202.5 184.1"/>
<path stroke="#f6f020" d="M214.6 190.3L204.1 190.2L192.0 184.0"/>
<path fill="#fff" d="M553.5 159.6L564.0 150.9L551.9 143.1L541.4 151.4Z"/>
<path stroke="#e3bc2c" d="M564.0 150.9L551.9 143.1"/>
<path stroke="#dbbd29" d="M541.4 151.4L551.9 143.1"/>
<path stroke="#d4bf28" d="M564.0 150.9L553.5 159.6L541.4 151.4"/>
<path fill="#fff" d="M542.9 168.8L553.5 159.6L541.4 151.4L530.8 160.0Z"/>
<path stroke="#d4bf28" d="M553.5 159.6L541.4 151.4"/>
<path stroke="#ccc028" d="M530.8 160.0L541.4 151.4"/>
<path stroke="#c2c22b" d="M553.5 159.6L542.9 168.8L530.8 160.0"/>
<path fill="#fff" d="M532.4 178.4L542.9 168.8L530.8 160.0L520.3 168.9Z"/>
<path stroke="#c2c22b" d="M542.9 168.8L530.8 160.0"/>
<path stroke="#bac430" d="M520.3 168.9L530.8 160.0"/>
<path stroke="#aec637" d="M542.9 168.8L532.4 178.4L520.3 168.9"/>
<path fill="#fff" d="M521.8 188.6L532.4 178.4L520.3 168.9L509.7 178.2Z"/>
<path stroke="#aec637" d="M532.4 178.4L520.3 168.9"/>
<path stroke="#a6c83d" d="M509.7 178.2L520.3 168.9"/>
<path stroke="#96ca49" d="M532.4 178.4L521.8 188.6L509.7 178.2"/>
<path fill="#fff" d="M511.3 199.3L521.8 188.6L509.7 178.2L499.2 187.7Z"/>
<path stroke="#96ca49" d="M521.8 188.6L509.7 178.2"/>
<path stroke="#90ca4d" d="M499.2 187.7L509.7 178.2"/>
<path stroke="#7bcc5d" d="M521.8 188.6L511.3 199.3L499.2 187.7"/>
<path fill="#fff" d="M500.8 210.4L511.3 199.3L499.2 187.7L488.7 197.4Z"/>
<path stroke="#7bcc5d" d="M511.3 199.3L499.2 187.7"/>
<path stroke="#78cc5f" d="M488.7 197.4L499.2 187.7"/>
<path stroke="#60cd73" d="M511.3 199.3L500.8 210.4L488.7 197.4"/>
<path fill="#fff" d="M490.2 221.7L500.8 210.4L488.7 197.4L478.1 206.8Z"/>
<path stroke="#60cd73" d="M500.8 210.4L488.7 197.4"/>
<path stroke="#62cd70" d="M478.1 206.8L488.7 197.4"/>
<path stroke="#47cb87" d="M500.8 210.4L490.2 221.7L478.1 206.8"/>
<path fill="#fff" d="M479.7 232.7L490.2 221.7L478.1 206.8L467.6 215.6Z"/>
<path stroke="#47cb87" d="M490.2 221.7L478.1 206.8"/>
<path stroke="#50cc7f" d="M467.6 215.6L478.1 206.8"/>
<path stroke="#36c899" d="M490.2 221.7L479.7 232.7L467.6 215.6"/>
<path fill="#fff" d="M469.1 242.3L479.7 232.7L467.6 215.6L457.0 223.1Z"/>
<path stroke="#36c899" d="M479.7 232.7L467.6 215.6"/>
<path stroke="#44ca8a" d="M457.0 223.1L467.6 215.6"/>
<path stroke="#2dc4a6" d="M479.7 232.7L469.1 242.3L457.0 223.1"/>
<path fill="#fff" d="M458.6 249.1L469.1 242.3L457.0 223.1L446.5 228.6Z"/>
<path stroke="#2dc4a6" d="M469.1 242.3L457.0 223.1"/>
<path stroke="#3dca90" d="M446.5 228.6L457.0 223.1"/>
<path stroke="#26c2ac" d="M469.1 242.3L458.6 249.1L446.5 228.6"/>
<path fill="#fff" d="M448.1 251.9L458.6 249.1L446.5 228.6L436.0 231.4Z"/>
<path stroke="#26c2ac" d="M458.6 249.1L446.5 228.6"/>
<path stroke="#3dca90" d="M436.0 231.4L446.5 228.6"/>
<path stroke="#26c2ac" d="M458.6 249.1L448.1 251.9L436.0 231.4"/>
<path fill="#fff" d="M437.5 250.8L448.1 251.9L436.0 231.4L425.4 231.6Z"/>
<path stroke="#26c2ac" d="M448.1 251.9L436.0 231.4"/>
<path stroke="#44ca8a" d="M425.4 231.6L436.0 231.4"/>
<path stroke="#2dc4a6" d="M448.1 251.9L437.5 250.8L425.4 231.6"/>
<path fill="#fff" d="M427.0 246.9L437.5 250.8L425.4 231.6L414.9 229.8Z"/>
<path stroke="#2dc4a6" d="M437.5 250.8L425.4 231.6"/>
<path stroke="#50cc7f" d="M414.9 229.8L425.4 231.6"/>
<path stroke="#36c899" d="M437.5 250.8L427.0 246.9L414.9 229.8"/>
<path fill="#fff" d="M416.4 241.6L427.0 246.9L414.9 229.8L404.3 226.7Z"/>
<path stroke="#36c899" d="M427.0 246.9L414.9 229.8"/>
<path stroke="#62cd70" d="M404.3 226.7L414.9 229.8"/>
<path stroke="#47cb87" d="M427.0 246.9L416.4 241.6L404.3 226.7"/>
<path fill="#fff" d="M405.9 236.0L416.4 241.6L404.3 226.7L393.8 222.9Z"/>
<path stroke="#47cb87" d="M416.4 241.6L404.3 226.7"/>
<path stroke="#78cc5f" d="M393.8 222.9L404.3 226.7"/>
<path stroke="#60cd73" d="M416.4 241.6L405.9 236.0L393.8 222.9"/>
<path fill="#fff" d="M395.4 230.5L405.9 236.0L393.8 222.9L383.3 219.0Z"/>
<path stroke="#60cd73" d="M405.9 236.0L393.8 222.9"/>
<path stroke="#90ca4d" d="M383.3 219.0L393.8 222.9"/>
<path stroke="#7bcc5d" d="M405.9 236.0L395.4 230.5L383.3 219.0"/>
<path fill="#fff" d="M384.8 225.5L395.4 230.5L383.3 219.0L372.7 215.1Z"/>
<path stroke="#7bcc5d" d="M395.4 230.5L383.3 219.0"/>
<path stroke="#a6c83d" d="M372.7 215.1L383.3 219.0"/>
<path stroke="#96ca49" d="M395.4 230.5L384.8 225.5L372.7 215.1"/>
<path fill="#fff" d="M374.3 221.0L384.8 225.5L372.7 215.1L362.2 211.5Z"/>
<path stroke="#96ca49" d="M384.8 225.5L372.7 215.1"/>
<path stroke="#bac430" d="M362.2 211.5L372.7 215.1"/>
<path stroke="#aec637" d="M384.8 225.5L374.3 221.0L362.2 211.5"/>
<path fill="#fff" d="M363.8 217.1L374.3 221.0L362.2 211.5L351.7 208.2Z"/>
<path stroke="#aec637" d="M374.3 221.0L362.2 211.5"/>
<path stroke="#ccc028" d="M351.7 208.2L362.2 211.5"/>
<path stroke="#c2c22b" d="M374.3 221.0L363.8 217.1L351.7 208.2"/>
<path fill="#fff" d="M353.2 213.6L363.8 217.1L351.7 208.2L341.1 205.3Z"/>
<path stroke="#c2c22b" d="M363.8 217.1L351.7 208.2"/>
<path stroke="#dbbd29" d="M341.1 205.3L351.7 208.2"/>
<path stroke="#d4bf28" d="M363.8 217.1L353.2 213.6L341.1 205.3"/>
<path fill="#fff" d="M342.7 210.6L353.2 213.6L341.1 205.3L330.6 202.7Z"/>
<path stroke="#d4bf28" d="M353.2 213.6L341.1 205.3"/>
<path stroke="#e8bb2f" d="M330.6 202.7L341.1 205.3"/>
<path stroke="#e3bc2c" d="M353.2 213.6L342.7 210.6L330.6 202.7"/>
<path fill="#fff" d="M332.1 207.9L342.7 210.6L330.6 202.7L320.0 200.4Z"/>
<path stroke="#e3bc2c" d="M342.7 210.6L330.6 202.7"/>
<path stroke="#f3ba38" d="M320.0 200.4L330.6 202.7"/>
<path stroke="#efba35" d="M342.7 210.6L332.1 207.9L320.0 200.4"/>
<path fill="#fff" d="M321.6 205.7L332.1 207.9L320.0 200.4L309.5 198.4Z"/>
<path stroke="#efba35" d="M332.1 207.9L320.0 200.4"/>
<path stroke="#fbbc3d" d="M309.5 198.4L320.0 200.4"/>
<path stroke="#f9ba3d" d="M332.1 207.9L321.6 205.7L309.5 198.4"/>
<path fill="#fff" d="M311.1 203.7L321.6 205.7L309.5 198.4L299.0 196.7Z"/>
<path stroke="#f9ba3d" d="M321.6 205.7L309.5 198.4"/>
<path stroke="#fec13a" d="M299.0 196.7L309.5 198.4"/>
<path stroke="#febf3b" d="M321.6 205.7L311.1 203.7L299.0 196.7"/>
<path fill="#fff" d="M300.5 202.1L311.1 203.7L299.0 196.7L288.4 195.2Z"/>
<path stroke="#febf3b" d="M311.1 203.7L299.0 196.7"/>
<path stroke="#fec735" d="M288.4 195.2L299.0 196.7"/>
<path stroke="#fec537" d="M311.1 203.7L300.5 202.1L288.4 195.2"/>
<path fill="#fff" d="M290.0 200.7L300.5 202.1L288.4 195.2L277.9 194.0Z"/>
<path stroke="#fec537" d="M300.5 202.1L288.4 195.2"/>
<path stroke="#fdcd32" d="M277.9 194.0L288.4 195.2"/>
<path stroke="#fdcb33" d="M300.5 202.1L290.0 200.7L277.9 194.0"/>
<path fill="#fff" d="M279.4 199.5L290.0 200.7L277.9 194.0L267.3 193.0Z"/>
<path stroke="#fdcb33" d="M290.0 200.7L277.9 194.0"/>
<path stroke="#fbd22f" d="M267.3 193.0L277.9 194.0"/>
<path stroke="#fcd12f" d="M290.0 200.7L279.4 199.5L267.3 193.0"/>
<path fill="#fff" d="M268.9 198.6L279.4 199.5L267.3 193.0L256.8 192.1Z"/>
<path stroke="#fcd12f" d="M279.4 199.5L267.3 193.0"/>
<path stroke="#f9d82c" d="M256.8 192.1L267.3 193.0"/>
<path stroke="#f9d72d" d="M279.4 199.5L268.9 198.6L256.8 192.1"/>
<path fill="#fff" d="M258.4 197.8L268.9 198.6L256.8 192.1L246.3 191.4Z"/>
<path stroke="#f9d72d" d="M268.9 198.6L256.8 192.1"/>
<path stroke="#f6dd2a" d="M246.3 191.4L256.8 192.1"/>
<path stroke="#f7dc2a" d="M268.9 198.6L258.4 197.8L246.3 191.4"/>
<path fill="#fff" d="M247.8 197.2L258.4 197.8L246.3 191.4L235.7 190.9Z"/>
<path stroke="#f7dc2a" d="M258.4 197.8L246.3 191.4"/>
<path stroke="#f5e227" d="M235.7 190.9L246.3 191.4"/>
<path stroke="#f5e128" d="M258.4 197.8L247.8 197.2L235.7 190.9"/>
<path fill="#fff" d="M237.3 196.8L247.8 197.2L235.7 190.9L225.2 190.6Z"/>
<path stroke="#f5e128" d="M247.8 197.2L235.7 190.9"/>
<path stroke="#f5e725" d="M225.2 190.6L235.7 190.9"/>
<path stroke="#f5e626" d="M247.8 197.2L237.3 196.8L225.2 190.6"/>
<path fill="#fff" d="M226.7 196.5L237.3 196.8L225.2 190.6L214.6 190.3Z"/>
<path stroke="#f5e626" d="M237.3 196.8L225.2 190.6"/>
<path stroke="#f5eb23" d="M214.6 190.3L225.2 190.6"/>
<path stroke="#f5ea23" d="M237.3 196.8L226.7 196.5L214.6 190.3"/>
<path fill="#fff" d="M216.2 196.3L226.7 196.5L214.6 190.3L204.1 190.2Z"/>
<path stroke="#f5ea23" d="M226.7 196.5L214.6 190.3"/>
<path stroke="#f6f020" d="M204.1 190.2L214.6 190.3"/>
<path stroke="#f5ef20" d="M226.7 196.5L216.2 196.3L204.1 190.2"/>
<path fill="#fff" d="M565.6 167.5L576.1 158.4L564.0 150.9L553.5 159.6Z"/>
<path stroke="#debd29" d="M576.1 158.4L564.0 150.9"/>
<path stroke="#d4bf28" d="M553.5 159.6L564.0 150.9"/>
<path stroke="#cec028" d="M576.1 158.4L565.6 167.5L553.5 159.6"/>
<path fill="#fff" d="M555.0 177.1L565.6 167.5L553.5 159.6L542.9 168.8Z"/>
<path stroke="#cec028" d="M565.6 167.5L553.5 159.6"/>
<path stroke="#c2c22b" d="M542.9 168.8L553.5 159.6"/>
<path stroke="#bac430" d="M565.6 167.5L555.0 177.1L542.9 168.8"/>
<path fill="#fff" d="M544.5 187.4L555.0 177.1L542.9 168.8L532.4 178.4Z"/>
<path stroke="#bac430" d="M555.0 177.1L542.9 168.8"/>
<path stroke="#aec637" d="M532.4 178.4L542.9 168.8"/>
<path stroke="#a3c83f" d="M555.0 177.1L544.5 187.4L532.4 178.4"/>
<path fill="#fff" d="M533.9 198.5L544.5 187.4L532.4 178.4L521.8 188.6Z"/>
<path stroke="#a3c83f" d="M544.5 187.4L532.4 178.4"/>
<path stroke="#96ca49" d="M521.8 188.6L532.4 178.4"/>
<path stroke="#87cb54" d="M544.5 187.4L533.9 198.5L521.8 188.6"/>
<path fill="#fff" d="M523.4 210.4L533.9 198.5L521.8 188.6L511.3 199.3Z"/>
<path stroke="#87cb54" d="M533.9 198.5L521.8 188.6"/>
<path stroke="#7bcc5d" d="M511.3 199.3L521.8 188.6"/>
<path stroke="#68cd6b" d="M533.9 198.5L523.4 210.4L511.3 199.3"/>
<path fill="#fff" d="M512.9 223.2L523.4 210.4L511.3 199.3L500.8 210.4Z"/>
<path stroke="#68cd6b" d="M523.4 210.4L511.3 199.3"/>
<path stroke="#60cd73" d="M500.8 210.4L511.3 199.3"/>
<path stroke="#4acb85" d="M523.4 210.4L512.9 223.2L500.8 210.4"/>
<path fill="#fff" d="M502.3 236.9L512.9 223.2L500.8 210.4L490.2 221.7Z"/>
<path stroke="#4acb85" d="M512.9 223.2L500.8 210.4"/>
<path stroke="#47cb87" d="M490.2 221.7L500.8 210.4"/>
<path stroke="#34c79c" d="M512.9 223.2L502.3 236.9L490.2 221.7"/>
<path fill="#fff" d="M491.8 251.1L502.3 236.9L490.2 221.7L479.7 232.7Z"/>
<path stroke="#34c79c" d="M502.3 236.9L490.2 221.7"/>
<path stroke="#36c899" d="M479.7 232.7L490.2 221.7"/>
<path stroke="#21c1b0" d="M502.3 236.9L491.8 251.1L479.7 232.7"/>
<path fill="#fff" d="M481.2 264.2L491.8 251.1L479.7 232.7L469.1 242.3Z"/>
<path stroke="#21c1b0" d="M491.8 251.1L479.7 232.7"/>
<path stroke="#2dc4a6" d="M469.1 242.3L479.7 232.7"/>
<path stroke="#05bbc1" d="M491.8 251.1L481.2 264.2L469.1 242.3"/>
<path fill="#fff" d="M470.7 273.7L481.2 264.2L469.1 242.3L458.6 249.1Z"/>
<path stroke="#05bbc1" d="M481.2 264.2L469.1 242.3"/>
<path stroke="#26c2ac" d="M458.6 249.1L469.1 242.3"/>
<path stroke="#02b7cb" d="M481.2 264.2L470.7 273.7L458.6 249.1"/>
<path fill="#fff" d="M460.2 276.6L470.7 273.7L458.6 249.1L448.1 251.9Z"/>
<path stroke="#02b7cb" d="M470.7 273.7L458.6 249.1"/>
<path stroke="#26c2ac" d="M448.1 251.9L458.6 249.1"/>
<path stroke="#02b7cb" d="M470.7 273.7L460.2 276.6L448.1 251.9"/>
<path fill="#fff" d="M449.6 272.8L460.2 276.6L448.1 251.9L437.5 250.8Z"/>
<path stroke="#02b7cb" d="M460.2 276.6L448.1 251.9"/>
<path stroke="#2dc4a6" d="M437.5 250.8L448.1 251.9"/>
<path stroke="#05bbc1" d="M460.2 276.6L449.6 272.8L437.5 250.8"/>
<path fill="#fff" d="M439.1 265.3L449.6 272.8L437.5 250.8L427.0 246.9Z"/>
<path stroke="#05bbc1" d="M449.6 272.8L437.5 250.8"/>
<path stroke="#36c899" d="M427.0 246.9L437.5 250.8"/>
<path stroke="#21c1b0" d="M449.6 272.8L439.1 265.3L427.0 246.9"/>
<path fill="#fff" d="M428.5 256.8L439.1 265.3L427.0 246.9L416.4 241.6Z"/>
<path stroke="#21c1b0" d="M439.1 265.3L427.0 246.9"/>
<path stroke="#47cb87" d="M416.4 241.6L427.0 246.9"/>
<path stroke="#34c79c" d="M439.1 265.3L428.5 256.8L416.4 241.6"/>
<path fill="#fff" d="M418.0 248.8L428.5 256.8L416.4 241.6L405.9 236.0Z"/>
<path stroke="#34c79c" d="M428.5 256.8L416.4 241.6"/>
<path stroke="#60cd73" d="M405.9 236.0L416.4 241.6"/>
<path stroke="#4acb85" d="M428.5 256.8L418.0 248.8L405.9 236.0"/>
<path fill="#fff" d="M407.5 241.6L418.0 248.8L405.9 236.0L395.4 230.5Z"/>
<path stroke="#4acb85" d="M418.0 248.8L405.9 236.0"/>
<path stroke="#7bcc5d" d="M395.4 230.5L405.9 236.0"/>
<path stroke="#68cd6b" d="M418.0 248.8L407.5 241.6L395.4 230.5"/>
<path fill="#fff" d="M396.9 235.4L407.5 241.6L395.4 230.5L384.8 225.5Z"/>
<path stroke="#68cd6b" d="M407.5 241.6L395.4 230.5"/>
<path stroke="#96ca49" d="M384.8 225.5L395.4 230.5"/>
<path stroke="#87cb54" d="M407.5 241.6L396.9 235.4L384.8 225.5"/>
<path fill="#fff" d="M386.4 230.0L396.9 235.4L384.8 225.5L374.3 221.0Z"/>
<path stroke="#87cb54" d="M396.9 235.4L384.8 225.5"/>
<path stroke="#aec637" d="M374.3 221.0L384.8 225.5"/>
<path stroke="#a3c83f" d="M396.9 235.4L386.4 230.0L374.3 221.0"/>
<path fill="#fff" d="M375.9 225.4L386.4 230.0L374.3 221.0L363.8 217.1Z"/>
<path stroke="#a3c83f" d="M386.4 230.0L374.3 221.0"/>
<path stroke="#c2c22b" d="M363.8 217.1L374.3 221.0"/>
<path stroke="#bac430" d="M386.4 230.0L375.9 225.4L363.8 217.1"/>
<path fill="#fff" d="M365.3 221.4L375.9 225.4L363.8 217.1L353.2 213.6Z"/>
<path stroke="#bac430" d="M375.9 225.4L363.8 217.1"/>
<path stroke="#d4bf28" d="M353.2 213.6L363.8 217.1"/>
<path stroke="#cec028" d="M375.9 225.4L365.3 221.4L353.2 213.6"/>
<path fill="#fff" d="M354.8 218.0L365.3 221.4L353.2 213.6L342.7 210.6Z"/>
<path stroke="#cec028" d="M365.3 221.4L353.2 213.6"/>
<path stroke="#e3bc2c" d="M342.7 210.6L353.2 213.6"/>
<path stroke="#debd29" d="M365.3 221.4L354.8 218.0L342.7 210.6"/>
<path fill="#fff" d="M344.2 215.1L354.8 218.0L342.7 210.6L332.1 207.9Z"/>
<path stroke="#debd29" d="M354.8 218.0L342.7 210.6"/>
<path stroke="#efba35" d="M332.1 207.9L342.7 210.6"/>
<path stroke="#ebba32" d="M354.8 218.0L344.2 215.1L332.1 207.9"/>
<path fill="#fff" d="M333.7 212.6L344.2 215.1L332.1 207.9L321.6 205.7Z"/>
<path stroke="#ebba32" d="M344.2 215.1L332.1 207.9"/>
<path stroke="#f9ba3d" d="M321.6 205.7L332.1 207.9"/>
<path stroke="#f6ba3b" d="M344.2 215.1L333.7 212.6L321.6 205.7"/>
<path fill="#fff" d="M323.2 210.5L333.7 212.6L321.6 205.7L311.1 203.7Z"/>
<path stroke="#f6ba3b" d="M333.7 212.6L321.6 205.7"/>
<path stroke="#febf3b" d="M311.1 203.7L321.6 205.7"/>
<path stroke="#febd3c" d="M333.7 212.6L323.2 210.5L311.1 203.7"/>
<path fill="#fff" d="M312.6 208.6L323.2 210.5L311.1 203.7L300.5 202.1Z"/>
<path stroke="#febd3c" d="M323.2 210.5L311.1 203.7"/>
<path stroke="#fec537" d="M300.5 202.1L311.1 203.7"/>
<path stroke="#fec338" d="M323.2 210.5L312.6 208.6L300.5 202.1"/>
<path fill="#fff" d="M302.1 207.1L312.6 208.6L300.5 202.1L290.0 200.7Z"/>
<path stroke="#fec338" d="M312.6 208.6L300.5 202.1"/>
<path stroke="#fdcb33" d="M290.0 200.7L300.5 202.1"/>
<path stroke="#feca34" d="M312.6 208.6L302.1 207.1L290.0 200.7"/>
<path fill="#fff" d="M291.5 205.9L302.1 207.1L290.0 200.7L279.4 199.5Z"/>
<path stroke="#feca34" d="M302.1 207.1L290.0 200.7"/>
<path stroke="#fcd12f" d="M279.4 199.5L290.0 200.7"/>
<path stroke="#fcd030" d="M302.1 207.1L291.5 205.9L279.4 199.5"/>
<path fill="#fff" d="M281.0 204.8L291.5 205.9L279.4 199.5L268.9 198.6Z"/>
<path stroke="#fcd030" d="M291.5 205.9L279.4 199.5"/>
<path stroke="#f9d72d" d="M268.9 198.6L279.4 199.5"/>
<path stroke="#fad52d" d="M291.5 205.9L281.0 204.8L268.9 198.6"/>
<path fill="#fff" d="M270.5 204.0L281.0 204.8L268.9 198.6L258.4 197.8Z"/>
<path stroke="#fad52d" d="M281.0 204.8L268.9 198.6"/>
<path stroke="#f7dc2a" d="M258.4 197.8L268.9 198.6"/>
<path stroke="#f7db2b" d="M281.0 204.8L270.5 204.0L258.4 197.8"/>
<path fill="#fff" d="M259.9 203.3L270.5 204.0L258.4 197.8L247.8 197.2Z"/>
<path stroke="#f7db2b" d="M270.5 204.0L258.4 197.8"/>
<path stroke="#f5e128" d="M247.8 197.2L258.4 197.8"/>
<path stroke="#f6e028" d="M270.5 204.0L259.9 203.3L247.8 197.2"/>
<path fill="#fff" d="M249.4 202.8L259.9 203.3L247.8 197.2L237.3 196.8Z"/>
<path stroke="#f6e028" d="M259.9 203.3L247.8 197.2"/>
<path stroke="#f5e626" d="M237.3 196.8L247.8 197.2"/>
<path stroke="#f5e526" d="M259.9 203.3L249.4 202.8L237.3 196.8"/>
<path fill="#fff" d="M238.8 202.5L249.4 202.8L237.3 196.8L226.7 196.5Z"/>
<path stroke="#f5e526" d="M249.4 202.8L237.3 196.8"/>
<path stroke="#f5ea23" d="M226.7 196.5L237.3 196.8"/>
<path stroke="#f5ea24" d="M249.4 202.8L238.8 202.5L226.7 196.5"/>
<path fill="#fff" d="M228.3 202.3L238.8 202.5L226.7 196.5L216.2 196.3Z"/>
<path stroke="#f5ea24" d="M238.8 202.5L226.7 196.5"/>
<path stroke="#f5ef20" d="M216.2 196.3L226.7 196.5"/>
<path stroke="#f5ee21" d="M238.8 202.5L228.3 202.3L216.2 196.3"/>
<path fill="#fff" d="M577.7 174.7L588.2 165.3L576.1 158.4L565.6 167.5Z"/>
<path stroke="#dabd28" d="M588.2 165.3L576.1 158.4"/>
<path stroke="#cec028" d="M565.6 167.5L576.1 158.4"/>
<path stroke="#c9c129" d="M588.2 165.3L577.7 174.7L565.6 167.5"/>
<path fill="#fff" d="M567.1 184.8L577.7 174.7L565.6 167.5L555.0 177.1Z"/>
<path stroke="#c9c129" d="M577.7 174.7L565.6 167.5"/>
<path stroke="#bac430" d="M555.0 177.1L565.6 167.5"/>
<path stroke="#b3c534" d="M577.7 174.7L567.1 184.8L555.0 177.1"/>
<path fill="#fff" d="M556.6 195.6L567.1 184.8L555.0 177.1L544.5 187.4Z"/>
<path stroke="#b3c534" d="M567.1 184.8L555.0 177.1"/>
<path stroke="#a3c83f" d="M544.5 187.4L555.0 177.1"/>
<path stroke="#9ac946" d="M567.1 184.8L556.6 195.6L544.5 187.4"/>
<path fill="#fff" d="M546.0 207.5L556.6 195.6L544.5 187.4L533.9 198.5Z"/>
<path stroke="#9ac946" d="M556.6 195.6L544.5 187.4"/>
<path stroke="#87cb54" d="M533.9 198.5L544.5 187.4"/>
<path stroke="#7bcc5d" d="M556.6 195.6L546.0 207.5L533.9 198.5"/>
<path fill="#fff" d="M535.5 220.5L546.0 207.5L533.9 198.5L523.4 210.4Z"/>
<path stroke="#7bcc5d" d="M546.0 207.5L533.9 198.5"/>
<path stroke="#68cd6b" d="M523.4 210.4L533.9 198.5"/>
<path stroke="#5acc78" d="M546.0 207.5L535.5 220.5L523.4 210.4"/>
<path fill="#fff" d="M525.0 235.1L535.5 220.5L523.4 210.4L512.9 223.2Z"/>
<path stroke="#5acc78" d="M535.5 220.5L523.4 210.4"/>
<path stroke="#4acb85" d="M512.9 223.2L523.4 210.4"/>
<path stroke="#3bc993" d="M535.5 220.5L525.0 235.1L512.9 223.2"/>
<path fill="#fff" d="M514.4 251.6L525.0 235.1L512.9 223.2L502.3 236.9Z"/>
<path stroke="#3bc993" d="M525.0 235.1L512.9 223.2"/>
<path stroke="#34c79c" d="M502.3 236.9L512.9 223.2"/>
<path stroke="#26c2ac" d="M525.0 235.1L514.4 251.6L502.3 236.9"/>
<path fill="#fff" d="M503.9 270.1L514.4 251.6L502.3 236.9L491.8 251.1Z"/>
<path stroke="#26c2ac" d="M514.4 251.6L502.3 236.9"/>
<path stroke="#21c1b0" d="M491.8 251.1L502.3 236.9"/>
<path stroke="#01b9c6" d="M514.4 251.6L503.9 270.1L491.8 251.1"/>
<path fill="#fff" d="M493.3 289.7L503.9 270.1L491.8 251.1L481.2 264.2Z"/>
<path stroke="#01b9c6" d="M503.9 270.1L491.8 251.1"/>
<path stroke="#05bbc1" d="M481.2 264.2L491.8 251.1"/>
<path stroke="#1aacdd" d="M503.9 270.1L493.3 289.7L481.2 264.2"/>
<path fill="#fff" d="M482.8 305.7L493.3 289.7L481.2 264.2L470.7 273.7Z"/>
<path stroke="#1aacdd" d="M493.3 289.7L481.2 264.2"/>
<path stroke="#02b7cb" d="M470.7 273.7L481.2 264.2"/>
<path stroke="#249ee6" d="M493.3 289.7L482.8 305.7L470.7 273.7"/>
<path fill="#fff" d="M472.3 308.5L482.8 305.7L470.7 273.7L460.2 276.6Z"/>
<path stroke="#249ee6" d="M482.8 305.7L470.7 273.7"/>
<path stroke="#02b7cb" d="M460.2 276.6L470.7 273.7"/>
<path stroke="#249ee6" d="M482.8 305.7L472.3 308.5L460.2 276.6"/>
<path fill="#fff" d="M461.7 298.3L472.3 308.5L460.2 276.6L449.6 272.8Z"/>
<path stroke="#249ee6" d="M472.3 308.5L460.2 276.6"/>
<path stroke="#05bbc1" d="M449.6 272.8L460.2 276.6"/>
<path stroke="#1aacdd" d="M472.3 308.5L461.7 298.3L449.6 272.8"/>
<path fill="#fff" d="M451.2 284.3L461.7 298.3L449.6 272.8L439.1 265.3Z"/>
<path stroke="#1aacdd" d="M461.7 298.3L449.6 272.8"/>
<path stroke="#21c1b0" d="M439.1 265.3L449.6 272.8"/>
<path stroke="#01b9c6" d="M461.7 298.3L451.2 284.3L439.1 265.3"/>
<path fill="#fff" d="M440.6 271.4L451.2 284.3L439.1 265.3L428.5 256.8Z"/>
<path stroke="#01b9c6" d="M451.2 284.3L439.1 265.3"/>
<path stroke="#34c79c" d="M428.5 256.8L439.1 265.3"/>
<path stroke="#26c2ac" d="M451.2 284.3L440.6 271.4L428.5 256.8"/>
<path fill="#fff" d="M430.1 260.7L440.6 271.4L428.5 256.8L418.0 248.8Z"/>
<path stroke="#26c2ac" d="M440.6 271.4L428.5 256.8"/>
<path stroke="#4acb85" d="M418.0 248.8L428.5 256.8"/>
<path stroke="#3bc993" d="M440.6 271.4L430.1 260.7L418.0 248.8"/>
<path fill="#fff" d="M419.6 251.8L430.1 260.7L418.0 248.8L407.5 241.6Z"/>
<path stroke="#3bc993" d="M430.1 260.7L418.0 248.8"/>
<path stroke="#68cd6b" d="M407.5 241.6L418.0 248.8"/>
<path stroke="#5acc78" d="M430.1 260.7L419.6 251.8L407.5 241.6"/>
<path fill="#fff" d="M409.0 244.4L419.6 251.8L407.5 241.6L396.9 235.4Z"/>
<path stroke="#5acc78" d="M419.6 251.8L407.5 241.6"/>
<path stroke="#87cb54" d="M396.9 235.4L407.5 241.6"/>
<path stroke="#7bcc5d" d="M419.6 251.8L409.0 244.4L396.9 235.4"/>
<path fill="#fff" d="M398.5 238.2L409.0 244.4L396.9 235.4L386.4 230.0Z"/>
<path stroke="#7bcc5d" d="M409.0 244.4L396.9 235.4"/>
<path stroke="#a3c83f" d="M386.4 230.0L396.9 235.4"/>
<path stroke="#9ac946" d="M409.0 244.4L398.5 238.2L386.4 230.0"/>
<path fill="#fff" d="M388.0 233.0L398.5 238.2L386.4 230.0L375.9 225.4Z"/>
<path stroke="#9ac946" d="M398.5 238.2L386.4 230.0"/>
<path stroke="#bac430" d="M375.9 225.4L386.4 230.0"/>
<path stroke="#b3c534" d="M398.5 238.2L388.0 233.0L375.9 225.4"/>
<path fill="#fff" d="M377.4 228.7L388.0 233.0L375.9 225.4L365.3 221.4Z"/>
<path stroke="#b3c534" d="M388.0 233.0L375.9 225.4"/>
<path stroke="#cec028" d="M365.3 221.4L375.9 225.4"/>
<path stroke="#c9c129" d="M388.0 233.0L377.4 228.7L365.3 221.4"/>
<path fill="#fff" d="M366.9 225.0L377.4 228.7L365.3 221.4L354.8 218.0Z"/>
<path stroke="#c9c129" d="M377.4 228.7L365.3 221.4"/>
<path stroke="#debd29" d="M354.8 218.0L365.3 221.4"/>
<path stroke="#dabd28" d="M377.4 228.7L366.9 225.0L354.8 218.0"/>
<path fill="#fff" d="M356.3 221.8L366.9 225.0L354.8 218.0L344.2 215.1Z"/>
<path stroke="#dabd28" d="M366.9 225.0L354.8 218.0"/>
<path stroke="#ebba32" d="M344.2 215.1L354.8 218.0"/>
<path stroke="#e9bb2f" d="M366.9 225.0L356.3 221.8L344.2 215.1"/>
<path fill="#fff" d="M345.8 219.1L356.3 221.8L344.2 215.1L333.7 212.6Z"/>
<path stroke="#e9bb2f" d="M356.3 221.8L344.2 215.1"/>
<path stroke="#f6ba3b" d="M333.7 212.6L344.2 215.1"/>
<path stroke="#f4ba3a" d="M356.3 221.8L345.8 219.1L333.7 212.6"/>
<path fill="#fff" d="M335.3 216.9L345.8 219.1L333.7 212.6L323.2 210.5Z"/>
<path stroke="#f4ba3a" d="M345.8 219.1L333.7 212.6"/>
<path stroke="#febd3c" d="M323.2 210.5L333.7 212.6"/>
<path stroke="#fcbd3d" d="M345.8 219.1L335.3 216.9L323.2 210.5"/>
<path fill="#fff" d="M324.7 214.9L335.3 216.9L323.2 210.5L312.6 208.6Z"/>
<path stroke="#fcbd3d" d="M335.3 216.9L323.2 210.5"/>
<path stroke="#fec338" d="M312.6 208.6L323.2 210.5"/>
<path stroke="#fec239" d="M335.3 216.9L324.7 214.9L312.6 208.6"/>
<path fill="#fff" d="M314.2 213.3L324.7 214.9L312.6 208.6L302.1 207.1Z"/>
<path stroke="#fec239" d="M324.7 214.9L312.6 208.6"/>
<path stroke="#feca34" d="M302.1 207.1L312.6 208.6"/>
<path stroke="#fec934" d="M324.7 214.9L314.2 213.3L302.1 207.1"/>
<path fill="#fff" d="M303.6 212.0L314.2 213.3L302.1 207.1L291.5 205.9Z"/>
<path stroke="#fec934" d="M314.2 213.3L302.1 207.1"/>
<path stroke="#fcd030" d="M291.5 205.9L302.1 207.1"/>
<path stroke="#fccf31" d="M314.2 213.3L303.6 212.0L291.5 205.9"/>
<path fill="#fff" d="M293.1 210.9L303.6 212.0L291.5 205.9L281.0 204.8Z"/>
<path stroke="#fccf31" d="M303.6 212.0L291.5 205.9"/>
<path stroke="#fad52d" d="M281.0 204.8L291.5 205.9"/>
<path stroke="#fad52e" d="M303.6 212.0L293.1 210.9L281.0 204.8"/>
<path fill="#fff" d="M282.6 210.0L293.1 210.9L281.0 204.8L270.5 204.0Z"/>
<path stroke="#fad52e" d="M293.1 210.9L281.0 204.8"/>
<path stroke="#f7db2b" d="M270.5 204.0L281.0 204.8"/>
<path stroke="#f8da2b" d="M293.1 210.9L282.6 210.0L270.5 204.0"/>
<path fill="#fff" d="M272.0 209.3L282.6 210.0L270.5 204.0L259.9 203.3Z"/>
<path stroke="#f8da2b" d="M282.6 210.0L270.5 204.0"/>
<path stroke="#f6e028" d="M259.9 203.3L270.5 204.0"/>
<path stroke="#f6e029" d="M282.6 210.0L272.0 209.3L259.9 203.3"/>
<path fill="#fff" d="M261.5 208.7L272.0 209.3L259.9 203.3L249.4 202.8Z"/>
<path stroke="#f6e029" d="M272.0 209.3L259.9 203.3"/>
<path stroke="#f5e526" d="M249.4 202.8L259.9 203.3"/>
<path stroke="#f5e526" d="M272.0 209.3L261.5 208.7L249.4 202.8"/>
<path fill="#fff" d="M250.9 208.4L261.5 208.7L249.4 202.8L238.8 202.5Z"/>
<path stroke="#f5e526" d="M261.5 208.7L249.4 202.8"/>
<path stroke="#f5ea24" d="M238.8 202.5L249.4 202.8"/>
<path stroke="#f5e924" d="M261.5 208.7L250.9 208.4L238.8 202.5"/>
<path fill="#fff" d="M240.4 208.1L250.9 208.4L238.8 202.5L228.3 202.3Z"/>
<path stroke="#f5e924" d="M250.9 208.4L238.8 202.5"/>
<path stroke="#f5ee21" d="M228.3 202.3L238.8 202.5"/>
<path stroke="#f5ee21" d="M250.9 208.4L240.4 208.1L228.3 202.3"/>
<path fill="#fff" d="M589.8 181.3L600.3 171.8L588.2 165.3L577.7 174.7Z"/>
<path stroke="#d8be28" d="M600.3 171.8L588.2 165.3"/>
<path stroke="#c9c129" d="M577.7 174.7L588.2 165.3"/>
<path stroke="#c6c22a" d="M600.3 171.8L589.8 181.3L577.7 174.7"/>
<path fill="#fff" d="M579.2 191.7L589.8 181.3L577.7 174.7L567.1 184.8Z"/>
<path stroke="#c6c22a" d="M589.8 181.3L577.7 174.7"/>
<path stroke="#b3c534" d="M567.1 184.8L577.7 174.7"/>
<path stroke="#afc636" d="M589.8 181.3L579.2 191.7L567.1 184.8"/>
<path fill="#fff" d="M568.7 202.9L579.2 191.7L567.1 184.8L556.6 195.6Z"/>
<path stroke="#afc636" d="M579.2 191.7L567.1 184.8"/>
<path stroke="#9ac946" d="M556.6 195.6L567.1 184.8"/>
<path stroke="#94ca4a" d="M579.2 191.7L568.7 202.9L556.6 195.6"/>
<path fill="#fff" d="M558.1 215.3L568.7 202.9L556.6 195.6L546.0 207.5Z"/>
<path stroke="#94ca4a" d="M568.7 202.9L556.6 195.6"/>
<path stroke="#7bcc5d" d="M546.0 207.5L556.6 195.6"/>
<path stroke="#73cd63" d="M568.7 202.9L558.1 215.3L546.0 207.5"/>
<path fill="#fff" d="M547.6 229.2L558.1 215.3L546.0 207.5L535.5 220.5Z"/>
<path stroke="#73cd63" d="M558.1 215.3L546.0 207.5"/>
<path stroke="#5acc78" d="M535.5 220.5L546.0 207.5"/>
<path stroke="#50cc7f" d="M558.1 215.3L547.6 229.2L535.5 220.5"/>
<path fill="#fff" d="M537.1 245.1L547.6 229.2L535.5 220.5L525.0 235.1Z"/>
<path stroke="#50cc7f" d="M547.6 229.2L535.5 220.5"/>
<path stroke="#3bc993" d="M525.0 235.1L535.5 220.5"/>
<path stroke="#34c79c" d="M547.6 229.2L537.1 245.1L525.0 235.1"/>
<path fill="#fff" d="M526.5 264.0L537.1 245.1L525.0 235.1L514.4 251.6Z"/>
<path stroke="#34c79c" d="M537.1 245.1L525.0 235.1"/>
<path stroke="#26c2ac" d="M514.4 251.6L525.0 235.1"/>
<path stroke="#14beb8" d="M537.1 245.1L526.5 264.0L514.4 251.6"/>
<path fill="#fff" d="M516.0 287.4L526.5 264.0L514.4 251.6L503.9 270.1Z"/>
<path stroke="#14beb8" d="M526.5 264.0L514.4 251.6"/>
<path stroke="#01b9c6" d="M503.9 270.1L514.4 251.6"/>
<path stroke="#13b1d7" d="M526.5 264.0L516.0 287.4L503.9 270.1"/>
<path fill="#fff" d="M505.4 317.5L516.0 287.4L503.9 270.1L493.3 289.7Z"/>
<path stroke="#13b1d7" d="M516.0 287.4L503.9 270.1"/>
<path stroke="#1aacdd" d="M493.3 289.7L503.9 270.1"/>
<path stroke="#2994ed" d="M516.0 287.4L505.4 317.5L493.3 289.7"/>
<path fill="#fff" d="M494.9 352.8L505.4 317.5L493.3 289.7L482.8 305.7Z"/>
<path stroke="#2994ed" d="M505.4 317.5L493.3 289.7"/>
<path stroke="#249ee6" d="M482.8 305.7L493.3 289.7"/>
<path stroke="#4368fe" d="M505.4 317.5L494.9 352.8L482.8 305.7"/>
<path fill="#fff" d="M484.4 355.7L494.9 352.8L482.8 305.7L472.3 308.5Z"/>
<path stroke="#4368fe" d="M494.9 352.8L482.8 305.7"/>
<path stroke="#249ee6" d="M472.3 308.5L482.8 305.7"/>
<path stroke="#4368fe" d="M494.9 352.8L484.4 355.7L472.3 308.5"/>
<path fill="#fff" d="M473.8 326.0L484.4 355.7L472.3 308.5L461.7 298.3Z"/>
<path stroke="#4368fe" d="M484.4 355.7L472.3 308.5"/>
<path stroke="#1aacdd" d="M461.7 298.3L472.3 308.5"/>
<path stroke="#2994ed" d="M473.8 326.0L461.7 298.3"/>
<path fill="#fff" d="M463.3 301.6L473.8 326.0L461.7 298.3L451.2 284.3Z"/>
<path stroke="#2994ed" d="M473.8 326.0L461.7 298.3"/>
<path stroke="#01b9c6" d="M451.2 284.3L461.7 298.3"/>
<path stroke="#13b1d7" d="M473.8 326.0L463.3 301.6L451.2 284.3"/>
<path fill="#fff" d="M452.7 283.9L463.3 301.6L451.2 284.3L440.6 271.4Z"/>
<path stroke="#13b1d7" d="M463.3 301.6L451.2 284.3"/>
<path stroke="#26c2ac" d="M440.6 271.4L451.2 284.3"/>
<path stroke="#14beb8" d="M463.3 301.6L452.7 283.9L440.6 271.4"/>
<path fill="#fff" d="M442.2 270.7L452.7 283.9L440.6 271.4L430.1 260.7Z"/>
<path stroke="#14beb8" d="M452.7 283.9L440.6 271.4"/>
<path stroke="#3bc993" d="M430.1 260.7L440.6 271.4"/>
<path stroke="#34c79c" d="M452.7 283.9L442.2 270.7L430.1 260.7"/>
<path fill="#fff" d="M431.7 260.4L442.2 270.7L430.1 260.7L419.6 251.8Z"/>
<path stroke="#34c79c" d="M442.2 270.7L430.1 260.7"/>
<path stroke="#5acc78" d="M419.6 251.8L430.1 260.7"/>
<path stroke="#50cc7f" d="M442.2 270.7L431.7 260.4L419.6 251.8"/>
<path fill="#fff" d="M421.1 252.2L431.7 260.4L419.6 251.8L409.0 244.4Z"/>
<path stroke="#50cc7f" d="M431.7 260.4L419.6 251.8"/>
<path stroke="#7bcc5d" d="M409.0 244.4L419.6 251.8"/>
<path stroke="#73cd63" d="M431.7 260.4L421.1 252.2L409.0 244.4"/>
<path fill="#fff" d="M410.6 245.5L421.1 252.2L409.0 244.4L398.5 238.2Z"/>
<path stroke="#73cd63" d="M421.1 252.2L409.0 244.4"/>
<path stroke="#9ac946" d="M398.5 238.2L409.0 244.4"/>
<path stroke="#94ca4a" d="M421.1 252.2L410.6 245.5L398.5 238.2"/>
<path fill="#fff" d="M400.1 239.9L410.6 245.5L398.5 238.2L388.0 233.0Z"/>
<path stroke="#94ca4a" d="M410.6 245.5L398.5 238.2"/>
<path stroke="#b3c534" d="M388.0 233.0L398.5 238.2"/>
<path stroke="#afc636" d="M410.6 245.5L400.1 239.9L388.0 233.0"/>
<path fill="#fff" d="M389.5 235.3L400.1 239.9L388.0 233.0L377.4 228.7Z"/>
<path stroke="#afc636" d="M400.1 239.9L388.0 233.0"/>
<path stroke="#c9c129" d="M377.4 228.7L388.0 233.0"/>
<path stroke="#c6c22a" d="M400.1 239.9L389.5 235.3L377.4 228.7"/>
<path fill="#fff" d="M379.0 231.4L389.5 235.3L377.4 228.7L366.9 225.0Z"/>
<path stroke="#c6c22a" d="M389.5 235.3L377.4 228.7"/>
<path stroke="#dabd28" d="M366.9 225.0L377.4 228.7"/>
<path stroke="#d8be28" d="M389.5 235.3L379.0 231.4L366.9 225.0"/>
<path fill="#fff" d="M368.4 228.1L379.0 231.4L366.9 225.0L356.3 221.8Z"/>
<path stroke="#d8be28" d="M379.0 231.4L366.9 225.0"/>
<path stroke="#e9bb2f" d="M356.3 221.8L366.9 225.0"/>
<path stroke="#e7bb2e" d="M379.0 231.4L368.4 228.1L356.3 221.8"/>
<path fill="#fff" d="M357.9 225.3L368.4 228.1L356.3 221.8L345.8 219.1Z"/>
<path stroke="#e7bb2e" d="M368.4 228.1L356.3 221.8"/>
<path stroke="#f4ba3a" d="M345.8 219.1L356.3 221.8"/>
<path stroke="#f3ba38" d="M368.4 228.1L357.9 225.3L345.8 219.1"/>
<path fill="#fff" d="M347.4 222.9L357.9 225.3L345.8 219.1L335.3 216.9Z"/>
<path stroke="#f3ba38" d="M357.9 225.3L345.8 219.1"/>
<path stroke="#fcbd3d" d="M335.3 216.9L345.8 219.1"/>
<path stroke="#fcbc3d" d="M357.9 225.3L347.4 222.9L335.3 216.9"/>
<path fill="#fff" d="M336.8 220.9L347.4 222.9L335.3 216.9L324.7 214.9Z"/>
<path stroke="#fcbc3d" d="M347.4 222.9L335.3 216.9"/>
<path stroke="#fec239" d="M324.7 214.9L335.3 216.9"/>
<path stroke="#fec239" d="M347.4 222.9L336.8 220.9L324.7 214.9"/>
<path fill="#fff" d="M326.3 219.3L336.8 220.9L324.7 214.9L314.2 213.3Z"/>
<path stroke="#fec239" d="M336.8 220.9L324.7 214.9"/>
<path stroke="#fec934" d="M314.2 213.3L324.7 214.9"/>
<path stroke="#fec835" d="M336.8 220.9L326.3 219.3L314.2 213.3"/>
<path fill="#fff" d="M315.7 217.9L326.3 219.3L314.2 213.3L303.6 212.0Z"/>
<path stroke="#fec835" d="M326.3 219.3L314.2 213.3"/>
<path stroke="#fccf31" d="M303.6 212.0L314.2 213.3"/>
<path stroke="#fdce31" d="M326.3 219.3L315.7 217.9L303.6 212.0"/>
<path fill="#fff" d="M305.2 216.7L315.7 217.9L303.6 212.0L293.1 210.9Z"/>
<path stroke="#fdce31" d="M315.7 217.9L303.6 212.0"/>
<path stroke="#fad52e" d="M293.1 210.9L303.6 212.0"/>
<path stroke="#fad42e" d="M315.7 217.9L305.2 216.7L293.1 210.9"/>
<path fill="#fff" d="M294.7 215.8L305.2 216.7L293.1 210.9L282.6 210.0Z"/>
<path stroke="#fad42e" d="M305.2 216.7L293.1 210.9"/>
<path stroke="#f8da2b" d="M282.6 210.0L293.1 210.9"/>
<path stroke="#f8da2b" d="M305.2 216.7L294.7 215.8L282.6 210.0"/>
<path fill="#fff" d="M284.1 215.0L294.7 215.8L282.6 210.0L272.0 209.3Z"/>
<path stroke="#f8da2b" d="M294.7 215.8L282.6 210.0"/>
<path stroke="#f6e029" d="M272.0 209.3L282.6 210.0"/>
<path stroke="#f6df29" d="M294.7 215.8L284.1 215.0L272.0 209.3"/>
<path fill="#fff" d="M273.6 214.5L284.1 215.0L272.0 209.3L261.5 208.7Z"/>
<path stroke="#f6df29" d="M284.1 215.0L272.0 209.3"/>
<path stroke="#f5e526" d="M261.5 208.7L272.0 209.3"/>
<path stroke="#f5e427" d="M284.1 215.0L273.6 214.5L261.5 208.7"/>
<path fill="#fff" d="M263.0 214.1L273.6 214.5L261.5 208.7L250.9 208.4Z"/>
<path stroke="#f5e427" d="M273.6 214.5L261.5 208.7"/>
<path stroke="#f5e924" d="M250.9 208.4L261.5 208.7"/>
<path stroke="#f5e924" d="M273.6 214.5L263.0 214.1L250.9 208.4"/>
<path fill="#fff" d="M252.5 213.8L263.0 214.1L250.9 208.4L240.4 208.1Z"/>
<path stroke="#f5e924" d="M263.0 214.1L250.9 208.4"/>
<path stroke="#f5ee21" d="M240.4 208.1L250.9 208.4"/>
<path stroke="#f5ed21" d="M263.0 214.1L252.5 213.8L240.4 208.1"/>
<path fill="#fff" d="M601.9 187.2L612.4 177.6L600.3 171.8L589.8 181.3Z"/>
<path stroke="#d7be28" d="M612.4 177.6L600.3 171.8"/>
<path stroke="#c6c22a" d="M589.8 181.3L600.3 171.8"/>
<path stroke="#c5c22a" d="M612.4 177.6L601.9 187.2L589.8 181.3"/>
<path fill="#fff" d="M591.3 197.6L601.9 187.2L589.8 181.3L579.2 191.7Z"/>
<path stroke="#c5c22a" d="M601.9 187.2L589.8 181.3"/>
<path stroke="#afc636" d="M579.2 191.7L589.8 181.3"/>
<path stroke="#aec637" d="M601.9 187.2L591.3 197.6L579.2 191.7"/>
<path fill="#fff" d="M580.8 209.0L591.3 197.6L579.2 191.7L568.7 202.9Z"/>
<path stroke="#aec637" d="M591.3 197.6L579.2 191.7"/>
<path stroke="#94ca4a" d="M568.7 202.9L579.2 191.7"/>
<path stroke="#92ca4c" d="M591.3 197.6L580.8 209.0L568.7 202.9"/>
<path fill="#fff" d="M570.2 221.6L580.8 209.0L568.7 202.9L558.1 215.3Z"/>
<path stroke="#92ca4c" d="M580.8 209.0L568.7 202.9"/>
<path stroke="#73cd63" d="M558.1 215.3L568.7 202.9"/>
<path stroke="#70cd65" d="M580.8 209.0L570.2 221.6L558.1 215.3"/>
<path fill="#fff" d="M559.7 235.8L570.2 221.6L558.1 215.3L547.6 229.2Z"/>
<path stroke="#70cd65" d="M570.2 221.6L558.1 215.3"/>
<path stroke="#50cc7f" d="M547.6 229.2L558.1 215.3"/>
<path stroke="#4dcc82" d="M570.2 221.6L559.7 235.8L547.6 229.2"/>
<path fill="#fff" d="M549.2 252.3L559.7 235.8L547.6 229.2L537.1 245.1Z"/>
<path stroke="#4dcc82" d="M559.7 235.8L547.6 229.2"/>
<path stroke="#34c79c" d="M537.1 245.1L547.6 229.2"/>
<path stroke="#32c69f" d="M559.7 235.8L549.2 252.3L537.1 245.1"/>
<path fill="#fff" d="M538.6 272.2L549.2 252.3L537.1 245.1L526.5 264.0Z"/>
<path stroke="#32c69f" d="M549.2 252.3L537.1 245.1"/>
<path stroke="#14beb8" d="M526.5 264.0L537.1 245.1"/>
<path stroke="#0bbdbc" d="M549.2 252.3L538.6 272.2L526.5 264.0"/>
<path fill="#fff" d="M528.1 297.9L538.6 272.2L526.5 264.0L516.0 287.4Z"/>
<path stroke="#0bbdbc" d="M538.6 272.2L526.5 264.0"/>
<path stroke="#13b1d7" d="M516.0 287.4L526.5 264.0"/>
<path stroke="#1aacdd" d="M538.6 272.2L528.1 297.9L516.0 287.4"/>
<path fill="#fff" d="M517.5 335.5L528.1 297.9L516.0 287.4L505.4 317.5Z"/>
<path stroke="#1aacdd" d="M528.1 297.9L516.0 287.4"/>
<path stroke="#2994ed" d="M505.4 317.5L516.0 287.4"/>
<path stroke="#2e84f8" d="M528.1 297.9L517.5 335.5L505.4 317.5"/>
<path fill="#fff" d="M507.0 413.1L517.5 335.5L505.4 317.5L494.9 352.8Z"/>
<path stroke="#2e84f8" d="M517.5 335.5L505.4 317.5"/>
<path stroke="#4368fe" d="M494.9 352.8L505.4 317.5"/>
<path stroke="#3e26a8" d="M517.5 335.5L507.0 413.1L494.9 352.8"/>
<path fill="#fff" d="M496.5 415.9L507.0 413.1L494.9 352.8L484.4 355.7Z"/>
<path stroke="#3e26a8" d="M507.0 413.1L494.9 352.8"/>
<path stroke="#4368fe" d="M484.4 355.7L494.9 352.8"/>
<path stroke="#3e26a8" d="M507.0 413.1L496.5 415.9"/>
<path fill="#fff" d="M485.9 344.0L496.5 415.9L484.4 355.7L473.8 326.0Z"/>
<path stroke="#2e84f8" d="M496.5 415.9L485.9 344.0L473.8 326.0"/>
<path fill="#fff" d="M475.4 312.1L485.9 344.0L473.8 326.0L463.3 301.6Z"/>
<path stroke="#2e84f8" d="M485.9 344.0L473.8 326.0"/>
<path stroke="#13b1d7" d="M463.3 301.6L473.8 326.0"/>
<path stroke="#1aacdd" d="M485.9 344.0L475.4 312.1L463.3 301.6"/>
<path fill="#fff" d="M464.8 292.1L475.4 312.1L463.3 301.6L452.7 283.9Z"/>
<path stroke="#1aacdd" d="M475.4 312.1L463.3 301.6"/>
<path stroke="#14beb8" d="M452.7 283.9L463.3 301.6"/>
<path stroke="#0bbdbc" d="M475.4 312.1L464.8 292.1L452.7 283.9"/>
<path fill="#fff" d="M454.3 277.8L464.8 292.1L452.7 283.9L442.2 270.7Z"/>
<path stroke="#0bbdbc" d="M464.8 292.1L452.7 283.9"/>
<path stroke="#34c79c" d="M442.2 270.7L452.7 283.9"/>
<path stroke="#32c69f" d="M464.8 292.1L454.3 277.8L442.2 270.7"/>
<path fill="#fff" d="M443.8 267.0L454.3 277.8L442.2 270.7L431.7 260.4Z"/>
<path stroke="#32c69f" d="M454.3 277.8L442.2 270.7"/>
<path stroke="#50cc7f" d="M431.7 260.4L442.2 270.7"/>
<path stroke="#4dcc82" d="M454.3 277.8L443.8 267.0L431.7 260.4"/>
<path fill="#fff" d="M433.2 258.5L443.8 267.0L431.7 260.4L421.1 252.2Z"/>
<path stroke="#4dcc82" d="M443.8 267.0L431.7 260.4"/>
<path stroke="#73cd63" d="M421.1 252.2L431.7 260.4"/>
<path stroke="#70cd65" d="M443.8 267.0L433.2 258.5L421.1 252.2"/>
<path fill="#fff" d="M422.7 251.6L433.2 258.5L421.1 252.2L410.6 245.5Z"/>
<path stroke="#70cd65" d="M433.2 258.5L421.1 252.2"/>
<path stroke="#94ca4a" d="M410.6 245.5L421.1 252.2"/>
<path stroke="#92ca4c" d="M433.2 258.5L422.7 251.6L410.6 245.5"/>
<path fill="#fff" d="M412.2 245.9L422.7 251.6L410.6 245.5L400.1 239.9Z"/>
<path stroke="#92ca4c" d="M422.7 251.6L410.6 245.5"/>
<path stroke="#afc636" d="M400.1 239.9L410.6 245.5"/>
<path stroke="#aec637" d="M422.7 251.6L412.2 245.9L400.1 239.9"/>
<path fill="#fff" d="M401.6 241.2L412.2 245.9L400.1 239.9L389.5 235.3Z"/>
<path stroke="#aec637" d="M412.2 245.9L400.1 239.9"/>
<path stroke="#c6c22a" d="M389.5 235.3L400.1 239.9"/>
<path stroke="#c5c22a" d="M412.2 245.9L401.6 241.2L389.5 235.3"/>
<path fill="#fff" d="M391.1 237.2L401.6 241.2L389.5 235.3L379.0 231.4Z"/>
<path stroke="#c5c22a" d="M401.6 241.2L389.5 235.3"/>
<path stroke="#d8be28" d="M379.0 231.4L389.5 235.3"/>
<path stroke="#d7be28" d="M401.6 241.2L391.1 237.2L379.0 231.4"/>
<path fill="#fff" d="M380.5 233.9L391.1 237.2L379.0 231.4L368.4 228.1Z"/>
<path stroke="#d7be28" d="M391.1 237.2L379.0 231.4"/>
<path stroke="#e7bb2e" d="M368.4 228.1L379.0 231.4"/>
<path stroke="#e6bb2d" d="M391.1 237.2L380.5 233.9L368.4 228.1"/>
<path fill="#fff" d="M370.0 231.0L380.5 233.9L368.4 228.1L357.9 225.3Z"/>
<path stroke="#e6bb2d" d="M380.5 233.9L368.4 228.1"/>
<path stroke="#f3ba38" d="M357.9 225.3L368.4 228.1"/>
<path stroke="#f2ba38" d="M380.5 233.9L370.0 231.0L357.9 225.3"/>
<path fill="#fff" d="M359.5 228.6L370.0 231.0L357.9 225.3L347.4 222.9Z"/>
<path stroke="#f2ba38" d="M370.0 231.0L357.9 225.3"/>
<path stroke="#fcbc3d" d="M347.4 222.9L357.9 225.3"/>
<path stroke="#fbbc3d" d="M370.0 231.0L359.5 228.6L347.4 222.9"/>
<path fill="#fff" d="M348.9 226.6L359.5 228.6L347.4 222.9L336.8 220.9Z"/>
<path stroke="#fbbc3d" d="M359.5 228.6L347.4 222.9"/>
<path stroke="#fec239" d="M336.8 220.9L347.4 222.9"/>
<path stroke="#fec239" d="M359.5 228.6L348.9 226.6L336.8 220.9"/>
<path fill="#fff" d="M338.4 224.9L348.9 226.6L336.8 220.9L326.3 219.3Z"/>
<path stroke="#fec239" d="M348.9 226.6L336.8 220.9"/>
<path stroke="#fec835" d="M326.3 219.3L336.8 220.9"/>
<path stroke="#fec835" d="M348.9 226.6L338.4 224.9L326.3 219.3"/>
<path fill="#fff" d="M327.8 223.5L338.4 224.9L326.3 219.3L315.7 217.9Z"/>
<path stroke="#fec835" d="M338.4 224.9L326.3 219.3"/>
<path stroke="#fdce31" d="M315.7 217.9L326.3 219.3"/>
<path stroke="#fdce31" d="M338.4 224.9L327.8 223.5L315.7 217.9"/>
<path fill="#fff" d="M317.3 222.3L327.8 223.5L315.7 217.9L305.2 216.7Z"/>
<path stroke="#fdce31" d="M327.8 223.5L315.7 217.9"/>
<path stroke="#fad42e" d="M305.2 216.7L315.7 217.9"/>
<path stroke="#fad42e" d="M327.8 223.5L317.3 222.3L305.2 216.7"/>
<path fill="#fff" d="M306.8 221.4L317.3 222.3L305.2 216.7L294.7 215.8Z"/>
<path stroke="#fad42e" d="M317.3 222.3L305.2 216.7"/>
<path stroke="#f8da2b" d="M294.7 215.8L305.2 216.7"/>
<path stroke="#f8da2b" d="M317.3 222.3L306.8 221.4L294.7 215.8"/>
<path fill="#fff" d="M296.2 220.6L306.8 221.4L294.7 215.8L284.1 215.0Z"/>
<path stroke="#f8da2b" d="M306.8 221.4L294.7 215.8"/>
<path stroke="#f6df29" d="M284.1 215.0L294.7 215.8"/>
<path stroke="#f6df29" d="M306.8 221.4L296.2 220.6L284.1 215.0"/>
<path fill="#fff" d="M285.7 220.1L296.2 220.6L284.1 215.0L273.6 214.5Z"/>
<path stroke="#f6df29" d="M296.2 220.6L284.1 215.0"/>
<path stroke="#f5e427" d="M273.6 214.5L284.1 215.0"/>
<path stroke="#f5e427" d="M296.2 220.6L285.7 220.1L273.6 214.5"/>
<path fill="#fff" d="M275.1 219.7L285.7 220.1L273.6 214.5L263.0 214.1Z"/>
<path stroke="#f5e427" d="M285.7 220.1L273.6 214.5"/>
<path stroke="#f5e924" d="M263.0 214.1L273.6 214.5"/>
<path stroke="#f5e924" d="M285.7 220.1L275.1 219.7L263.0 214.1"/>
<path fill="#fff" d="M264.6 219.4L275.1 219.7L263.0 214.1L252.5 213.8Z"/>
<path stroke="#f5e924" d="M275.1 219.7L263.0 214.1"/>
<path stroke="#f5ed21" d="M252.5 213.8L263.0 214.1"/>
<path stroke="#f5ed21" d="M275.1 219.7L264.6 219.4L252.5 213.8"/>
<path fill="#fff" d="M614.0 192.4L624.5 182.8L612.4 177.6L601.9 187.2Z"/>
<path stroke="#d8be28" d="M624.5 182.8L612.4 177.6"/>
<path stroke="#c5c22a" d="M601.9 187.2L612.4 177.6"/>
<path stroke="#c6c22a" d="M624.5 182.8L614.0 192.4L601.9 187.2"/>
<path fill="#fff" d="M603.4 202.7L614.0 192.4L601.9 187.2L591.3 197.6Z"/>
<path stroke="#c6c22a" d="M614.0 192.4L601.9 187.2"/>
<path stroke="#aec637" d="M591.3 197.6L601.9 187.2"/>
<path stroke="#afc636" d="M614.0 192.4L603.4 202.7L591.3 197.6"/>
<path fill="#fff" d="M592.9 213.9L603.4 202.7L591.3 197.6L580.8 209.0Z"/>
<path stroke="#afc636" d="M603.4 202.7L591.3 197.6"/>
<path stroke="#92ca4c" d="M580.8 209.0L591.3 197.6"/>
<path stroke="#94ca4a" d="M603.4 202.7L592.9 213.9L580.8 209.0"/>
<path fill="#fff" d="M582.3 226.3L592.9 213.9L580.8 209.0L570.2 221.6Z"/>
<path stroke="#94ca4a" d="M592.9 213.9L580.8 209.0"/>
<path stroke="#70cd65" d="M570.2 221.6L580.8 209.0"/>
<path stroke="#73cd63" d="M592.9 213.9L582.3 226.3L570.2 221.6"/>
<path fill="#fff" d="M571.8 240.2L582.3 226.3L570.2 221.6L559.7 235.8Z"/>
<path stroke="#73cd63" d="M582.3 226.3L570.2 221.6"/>
<path stroke="#4dcc82" d="M559.7 235.8L570.2 221.6"/>
<path stroke="#50cc7f" d="M582.3 226.3L571.8 240.2L559.7 235.8"/>
<path fill="#fff" d="M561.3 256.1L571.8 240.2L559.7 235.8L549.2 252.3Z"/>
<path stroke="#50cc7f" d="M571.8 240.2L559.7 235.8"/>
<path stroke="#32c69f" d="M549.2 252.3L559.7 235.8"/>
<path stroke="#34c79c" d="M571.8 240.2L561.3 256.1L549.2 252.3"/>
<path fill="#fff" d="M550.7 275.0L561.3 256.1L549.2 252.3L538.6 272.2Z"/>
<path stroke="#34c79c" d="M561.3 256.1L549.2 252.3"/>
<path stroke="#0bbdbc" d="M538.6 272.2L549.2 252.3"/>
<path stroke="#14beb8" d="M561.3 256.1L550.7 275.0L538.6 272.2"/>
<path fill="#fff" d="M540.2 298.4L550.7 275.0L538.6 272.2L528.1 297.9Z"/>
<path stroke="#14beb8" d="M550.7 275.0L538.6 272.2"/>
<path stroke="#1aacdd" d="M528.1 297.9L538.6 272.2"/>
<path stroke="#13b1d7" d="M550.7 275.0L540.2 298.4L528.1 297.9"/>
<path fill="#fff" d="M529.6 328.5L540.2 298.4L528.1 297.9L517.5 335.5Z"/>
<path stroke="#13b1d7" d="M540.2 298.4L528.1 297.9"/>
<path stroke="#2e84f8" d="M517.5 335.5L528.1 297.9"/>
<path stroke="#2994ed" d="M540.2 298.4L529.6 328.5L517.5 335.5"/>
<path fill="#fff" d="M519.1 363.9L529.6 328.5L517.5 335.5L507.0 413.1Z"/>
<path stroke="#2994ed" d="M529.6 328.5L517.5 335.5"/>
<path stroke="#3e26a8" d="M507.0 413.1L517.5 335.5"/>
<path stroke="#4368fe" d="M529.6 328.5L519.1 363.9L507.0 413.1"/>
<path fill="#fff" d="M508.6 366.7L519.1 363.9L507.0 413.1L496.5 415.9Z"/>
<path stroke="#4368fe" d="M519.1 363.9L507.0 413.1"/>
<path stroke="#3e26a8" d="M496.5 415.9L507.0 413.1"/>
<path stroke="#4368fe" d="M519.1 363.9L508.6 366.7L496.5 415.9"/>
<path fill="#fff" d="M498.0 337.0L508.6 366.7L496.5 415.9L485.9 344.0Z"/>
<path stroke="#4368fe" d="M508.6 366.7L496.5 415.9"/>
<path stroke="#2e84f8" d="M485.9 344.0L496.5 415.9"/>
<path stroke="#2994ed" d="M508.6 366.7L498.0 337.0L485.9 344.0"/>
<path fill="#fff" d="M487.5 312.6L498.0 337.0L485.9 344.0L475.4 312.1Z"/>
<path stroke="#2994ed" d="M498.0 337.0L485.9 344.0"/>
<path stroke="#1aacdd" d="M475.4 312.1L485.9 344.0"/>
<path stroke="#13b1d7" d="M498.0 337.0L487.5 312.6L475.4 312.1"/>
<path fill="#fff" d="M476.9 294.9L487.5 312.6L475.4 312.1L464.8 292.1Z"/>
<path stroke="#13b1d7" d="M487.5 312.6L475.4 312.1"/>
<path stroke="#0bbdbc" d="M464.8 292.1L475.4 312.1"/>
<path stroke="#14beb8" d="M487.5 312.6L476.9 294.9L464.8 292.1"/>
<path fill="#fff" d="M466.4 281.7L476.9 294.9L464.8 292.1L454.3 277.8Z"/>
<path stroke="#14beb8" d="M476.9 294.9L464.8 292.1"/>
<path stroke="#32c69f" d="M454.3 277.8L464.8 292.1"/>
<path stroke="#34c79c" d="M476.9 294.9L466.4 281.7L454.3 277.8"/>
<path fill="#fff" d="M455.9 271.4L466.4 281.7L454.3 277.8L443.8 267.0Z"/>
<path stroke="#34c79c" d="M466.4 281.7L454.3 277.8"/>
<path stroke="#4dcc82" d="M443.8 267.0L454.3 277.8"/>
<path stroke="#50cc7f" d="M466.4 281.7L455.9 271.4L443.8 267.0"/>
<path fill="#fff" d="M445.3 263.2L455.9 271.4L443.8 267.0L433.2 258.5Z"/>
<path stroke="#50cc7f" d="M455.9 271.4L443.8 267.0"/>
<path stroke="#70cd65" d="M433.2 258.5L443.8 267.0"/>
<path stroke="#73cd63" d="M455.9 271.4L445.3 263.2L433.2 258.5"/>
<path fill="#fff" d="M434.8 256.5L445.3 263.2L433.2 258.5L422.7 251.6Z"/>
<path stroke="#73cd63" d="M445.3 263.2L433.2 258.5"/>
<path stroke="#92ca4c" d="M422.7 251.6L433.2 258.5"/>
<path stroke="#94ca4a" d="M445.3 263.2L434.8 256.5L422.7 251.6"/>
<path fill="#fff" d="M424.3 250.9L434.8 256.5L422.7 251.6L412.2 245.9Z"/>
<path stroke="#94ca4a" d="M434.8 256.5L422.7 251.6"/>
<path stroke="#aec637" d="M412.2 245.9L422.7 251.6"/>
<path stroke="#afc636" d="M434.8 256.5L424.3 250.9L412.2 245.9"/>
<path fill="#fff" d="M413.7 246.3L424.3 250.9L412.2 245.9L401.6 241.2Z"/>
<path stroke="#afc636" d="M424.3 250.9L412.2 245.9"/>
<path stroke="#c5c22a" d="M401.6 241.2L412.2 245.9"/>
<path stroke="#c6c22a" d="M424.3 250.9L413.7 246.3L401.6 241.2"/>
<path fill="#fff" d="M403.2 242.4L413.7 246.3L401.6 241.2L391.1 237.2Z"/>
<path stroke="#c6c22a" d="M413.7 246.3L401.6 241.2"/>
<path stroke="#d7be28" d="M391.1 237.2L401.6 241.2"/>
<path stroke="#d8be28" d="M413.7 246.3L403.2 242.4L391.1 237.2"/>
<path fill="#fff" d="M392.6 239.1L403.2 242.4L391.1 237.2L380.5 233.9Z"/>
<path stroke="#d8be28" d="M403.2 242.4L391.1 237.2"/>
<path stroke="#e6bb2d" d="M380.5 233.9L391.1 237.2"/>
<path stroke="#e7bb2e" d="M403.2 242.4L392.6 239.1L380.5 233.9"/>
<path fill="#fff" d="M382.1 236.3L392.6 239.1L380.5 233.9L370.0 231.0Z"/>
<path stroke="#e7bb2e" d="M392.6 239.1L380.5 233.9"/>
<path stroke="#f2ba38" d="M370.0 231.0L380.5 233.9"/>
<path stroke="#f3ba38" d="M392.6 239.1L382.1 236.3L370.0 231.0"/>
<path fill="#fff" d="M371.6 233.9L382.1 236.3L370.0 231.0L359.5 228.6Z"/>
<path stroke="#f3ba38" d="M382.1 236.3L370.0 231.0"/>
<path stroke="#fbbc3d" d="M359.5 228.6L370.0 231.0"/>
<path stroke="#fcbc3d" d="M382.1 236.3L371.6 233.9L359.5 228.6"/>
<path fill="#fff" d="M361.0 231.9L371.6 233.9L359.5 228.6L348.9 226.6Z"/>
<path stroke="#fcbc3d" d="M371.6 233.9L359.5 228.6"/>
<path stroke="#fec239" d="M348.9 226.6L359.5 228.6"/>
<path stroke="#fec239" d="M371.6 233.9L361.0 231.9L348.9 226.6"/>
<path fill="#fff" d="M350.5 230.3L361.0 231.9L348.9 226.6L338.4 224.9Z"/>
<path stroke="#fec239" d="M361.0 231.9L348.9 226.6"/>
<path stroke="#fec835" d="M338.4 224.9L348.9 226.6"/>
<path stroke="#fec835" d="M361.0 231.9L350.5 230.3L338.4 224.9"/>
<path fill="#fff" d="M339.9 228.9L350.5 230.3L338.4 224.9L327.8 223.5Z"/>
<path stroke="#fec835" d="M350.5 230.3L338.4 224.9"/>
<path stroke="#fdce31" d="M327.8 223.5L338.4 224.9"/>
<path stroke="#fdce31" d="M350.5 230.3L339.9 228.9L327.8 223.5"/>
<path fill="#fff" d="M329.4 227.7L339.9 228.9L327.8 223.5L317.3 222.3Z"/>
<path stroke="#fdce31" d="M339.9 228.9L327.8 223.5"/>
<path stroke="#fad42e" d="M317.3 222.3L327.8 223.5"/>
<path stroke="#fad42e" d="M339.9 228.9L329.4 227.7L317.3 222.3"/>
<path fill="#fff" d="M318.9 226.8L329.4 227.7L317.3 222.3L306.8 221.4Z"/>
<path stroke="#fad42e" d="M329.4 227.7L317.3 222.3"/>
<path stroke="#f8da2b" d="M306.8 221.4L317.3 222.3"/>
<path stroke="#f8da2b" d="M329.4 227.7L318.9 226.8L306.8 221.4"/>
<path fill="#fff" d="M308.3 226.1L318.9 226.8L306.8 221.4L296.2 220.6Z"/>
<path stroke="#f8da2b" d="M318.9 226.8L306.8 221.4"/>
<path stroke="#f6df29" d="M296.2 220.6L306.8 221.4"/>
<path stroke="#f6df29" d="M318.9 226.8L308.3 226.1L296.2 220.6"/>
<path fill="#fff" d="M297.8 225.5L308.3 226.1L296.2 220.6L285.7 220.1Z"/>
<path stroke="#f6df29" d="M308.3 226.1L296.2 220.6"/>
<path stroke="#f5e427" d="M285.7 220.1L296.2 220.6"/>
<path stroke="#f5e427" d="M308.3 226.1L297.8 225.5L285.7 220.1"/>
<path fill="#fff" d="M287.2 225.1L297.8 225.5L285.7 220.1L275.1 219.7Z"/>
<path stroke="#f5e427" d="M297.8 225.5L285.7 220.1"/>
<path stroke="#f5e924" d="M275.1 219.7L285.7 220.1"/>
<path stroke="#f5e924" d="M297.8 225.5L287.2 225.1L275.1 219.7"/>
<path fill="#fff" d="M276.7 224.9L287.2 225.1L275.1 219.7L264.6 219.4Z"/>
<path stroke="#f5e924" d="M287.2 225.1L275.1 219.7"/>
<path stroke="#f5ed21" d="M264.6 219.4L275.1 219.7"/>
<path stroke="#f5ed21" d="M287.2 225.1L276.7 224.9L264.6 219.4"/>
<path fill="#fff" d="M626.1 196.8L636.6 187.4L624.5 182.8L614.0 192.4Z"/>
<path stroke="#dabd28" d="M636.6 187.4L624.5 182.8"/>
<path stroke="#c6c22a" d="M614.0 192.4L624.5 182.8"/>
<path stroke="#c9c129" d="M636.6 187.4L626.1 196.8L614.0 192.4"/>
<path fill="#fff" d="M615.5 206.8L626.1 196.8L614.0 192.4L603.4 202.7Z"/>
<path stroke="#c9c129" d="M626.1 196.8L614.0 192.4"/>
<path stroke="#afc636" d="M603.4 202.7L614.0 192.4"/>
<path stroke="#b3c534" d="M626.1 196.8L615.5 206.8L603.4 202.7"/>
<path fill="#fff" d="M605.0 217.7L615.5 206.8L603.4 202.7L592.9 213.9Z"/>
<path stroke="#b3c534" d="M615.5 206.8L603.4 202.7"/>
<path stroke="#94ca4a" d="M592.9 213.9L603.4 202.7"/>
<path stroke="#9ac946" d="M615.5 206.8L605.0 217.7L592.9 213.9"/>
<path fill="#fff" d="M594.4 229.5L605.0 217.7L592.9 213.9L582.3 226.3Z"/>
<path stroke="#9ac946" d="M605.0 217.7L592.9 213.9"/>
<path stroke="#73cd63" d="M582.3 226.3L592.9 213.9"/>
<path stroke="#7bcc5d" d="M605.0 217.7L594.4 229.5L582.3 226.3"/>
<path fill="#fff" d="M583.9 242.6L594.4 229.5L582.3 226.3L571.8 240.2Z"/>
<path stroke="#7bcc5d" d="M594.4 229.5L582.3 226.3"/>
<path stroke="#50cc7f" d="M571.8 240.2L582.3 226.3"/>
<path stroke="#5acc78" d="M594.4 229.5L583.9 242.6L571.8 240.2"/>
<path fill="#fff" d="M573.4 257.1L583.9 242.6L571.8 240.2L561.3 256.1Z"/>
<path stroke="#5acc78" d="M583.9 242.6L571.8 240.2"/>
<path stroke="#34c79c" d="M561.3 256.1L571.8 240.2"/>
<path stroke="#3bc993" d="M583.9 242.6L573.4 257.1L561.3 256.1"/>
<path fill="#fff" d="M562.8 273.6L573.4 257.1L561.3 256.1L550.7 275.0Z"/>
<path stroke="#3bc993" d="M573.4 257.1L561.3 256.1"/>
<path stroke="#14beb8" d="M550.7 275.0L561.3 256.1"/>
<path stroke="#26c2ac" d="M573.4 257.1L562.8 273.6L550.7 275.0"/>
<path fill="#fff" d="M552.3 292.1L562.8 273.6L550.7 275.0L540.2 298.4Z"/>
<path stroke="#26c2ac" d="M562.8 273.6L550.7 275.0"/>
<path stroke="#13b1d7" d="M540.2 298.4L550.7 275.0"/>
<path stroke="#01b9c6" d="M562.8 273.6L552.3 292.1L540.2 298.4"/>
<path fill="#fff" d="M541.7 311.8L552.3 292.1L540.2 298.4L529.6 328.5Z"/>
<path stroke="#01b9c6" d="M552.3 292.1L540.2 298.4"/>
<path stroke="#2994ed" d="M529.6 328.5L540.2 298.4"/>
<path stroke="#1aacdd" d="M552.3 292.1L541.7 311.8L529.6 328.5"/>
<path fill="#fff" d="M531.2 327.7L541.7 311.8L529.6 328.5L519.1 363.9Z"/>
<path stroke="#1aacdd" d="M541.7 311.8L529.6 328.5"/>
<path stroke="#4368fe" d="M519.1 363.9L529.6 328.5"/>
<path stroke="#249ee6" d="M541.7 311.8L531.2 327.7L519.1 363.9"/>
<path fill="#fff" d="M520.7 330.6L531.2 327.7L519.1 363.9L508.6 366.7Z"/>
<path stroke="#249ee6" d="M531.2 327.7L519.1 363.9"/>
<path stroke="#4368fe" d="M508.6 366.7L519.1 363.9"/>
<path stroke="#249ee6" d="M531.2 327.7L520.7 330.6L508.6 366.7"/>
<path fill="#fff" d="M510.1 320.3L520.7 330.6L508.6 366.7L498.0 337.0Z"/>
<path stroke="#249ee6" d="M520.7 330.6L508.6 366.7"/>
<path stroke="#2994ed" d="M498.0 337.0L508.6 366.7"/>
<path stroke="#1aacdd" d="M520.7 330.6L510.1 320.3L498.0 337.0"/>
<path fill="#fff" d="M499.6 306.3L510.1 320.3L498.0 337.0L487.5 312.6Z"/>
<path stroke="#1aacdd" d="M510.1 320.3L498.0 337.0"/>
<path stroke="#13b1d7" d="M487.5 312.6L498.0 337.0"/>
<path stroke="#01b9c6" d="M510.1 320.3L499.6 306.3L487.5 312.6"/>
<path fill="#fff" d="M489.0 293.5L499.6 306.3L487.5 312.6L476.9 294.9Z"/>
<path stroke="#01b9c6" d="M499.6 306.3L487.5 312.6"/>
<path stroke="#14beb8" d="M476.9 294.9L487.5 312.6"/>
<path stroke="#26c2ac" d="M499.6 306.3L489.0 293.5L476.9 294.9"/>
<path fill="#fff" d="M478.5 282.7L489.0 293.5L476.9 294.9L466.4 281.7Z"/>
<path stroke="#26c2ac" d="M489.0 293.5L476.9 294.9"/>
<path stroke="#34c79c" d="M466.4 281.7L476.9 294.9"/>
<path stroke="#3bc993" d="M489.0 293.5L478.5 282.7L466.4 281.7"/>
<path fill="#fff" d="M468.0 273.8L478.5 282.7L466.4 281.7L455.9 271.4Z"/>
<path stroke="#3bc993" d="M478.5 282.7L466.4 281.7"/>
<path stroke="#50cc7f" d="M455.9 271.4L466.4 281.7"/>
<path stroke="#5acc78" d="M478.5 282.7L468.0 273.8L455.9 271.4"/>
<path fill="#fff" d="M457.4 266.4L468.0 273.8L455.9 271.4L445.3 263.2Z"/>
<path stroke="#5acc78" d="M468.0 273.8L455.9 271.4"/>
<path stroke="#73cd63" d="M445.3 263.2L455.9 271.4"/>
<path stroke="#7bcc5d" d="M468.0 273.8L457.4 266.4L445.3 263.2"/>
<path fill="#fff" d="M446.9 260.3L457.4 266.4L445.3 263.2L434.8 256.5Z"/>
<path stroke="#7bcc5d" d="M457.4 266.4L445.3 263.2"/>
<path stroke="#94ca4a" d="M434.8 256.5L445.3 263.2"/>
<path stroke="#9ac946" d="M457.4 266.4L446.9 260.3L434.8 256.5"/>
<path fill="#fff" d="M436.4 255.1L446.9 260.3L434.8 256.5L424.3 250.9Z"/>
<path stroke="#9ac946" d="M446.9 260.3L434.8 256.5"/>
<path stroke="#afc636" d="M424.3 250.9L434.8 256.5"/>
<path stroke="#b3c534" d="M446.9 260.3L436.4 255.1L424.3 250.9"/>
<path fill="#fff" d="M425.8 250.7L436.4 255.1L424.3 250.9L413.7 246.3Z"/>
<path stroke="#b3c534" d="M436.4 255.1L424.3 250.9"/>
<path stroke="#c6c22a" d="M413.7 246.3L424.3 250.9"/>
<path stroke="#c9c129" d="M436.4 255.1L425.8 250.7L413.7 246.3"/>
<path fill="#fff" d="M415.3 247.0L425.8 250.7L413.7 246.3L403.2 242.4Z"/>
<path stroke="#c9c129" d="M425.8 250.7L413.7 246.3"/>
<path stroke="#d8be28" d="M403.2 242.4L413.7 246.3"/>
<path stroke="#dabd28" d="M425.8 250.7L415.3 247.0L403.2 242.4"/>
<path fill="#fff" d="M404.7 243.9L415.3 247.0L403.2 242.4L392.6 239.1Z"/>
<path stroke="#dabd28" d="M415.3 247.0L403.2 242.4"/>
<path stroke="#e7bb2e" d="M392.6 239.1L403.2 242.4"/>
<path stroke="#e9bb2f" d="M415.3 247.0L404.7 243.9L392.6 239.1"/>
<path fill="#fff" d="M394.2 241.2L404.7 243.9L392.6 239.1L382.1 236.3Z"/>
<path stroke="#e9bb2f" d="M404.7 243.9L392.6 239.1"/>
<path stroke="#f3ba38" d="M382.1 236.3L392.6 239.1"/>
<path stroke="#f4ba3a" d="M404.7 243.9L394.2 241.2L382.1 236.3"/>
<path fill="#fff" d="M383.7 238.9L394.2 241.2L382.1 236.3L371.6 233.9Z"/>
<path stroke="#f4ba3a" d="M394.2 241.2L382.1 236.3"/>
<path stroke="#fcbc3d" d="M371.6 233.9L382.1 236.3"/>
<path stroke="#fcbd3d" d="M394.2 241.2L383.7 238.9L371.6 233.9"/>
<path fill="#fff" d="M373.1 237.0L383.7 238.9L371.6 233.9L361.0 231.9Z"/>
<path stroke="#fcbd3d" d="M383.7 238.9L371.6 233.9"/>
<path stroke="#fec239" d="M361.0 231.9L371.6 233.9"/>
<path stroke="#fec239" d="M383.7 238.9L373.1 237.0L361.0 231.9"/>
<path fill="#fff" d="M362.6 235.4L373.1 237.0L361.0 231.9L350.5 230.3Z"/>
<path stroke="#fec239" d="M373.1 237.0L361.0 231.9"/>
<path stroke="#fec835" d="M350.5 230.3L361.0 231.9"/>
<path stroke="#fec934" d="M373.1 237.0L362.6 235.4L350.5 230.3"/>
<path fill="#fff" d="M352.0 234.0L362.6 235.4L350.5 230.3L339.9 228.9Z"/>
<path stroke="#fec934" d="M362.6 235.4L350.5 230.3"/>
<path stroke="#fdce31" d="M339.9 228.9L350.5 230.3"/>
<path stroke="#fccf31" d="M362.6 235.4L352.0 234.0L339.9 228.9"/>
<path fill="#fff" d="M341.5 232.9L352.0 234.0L339.9 228.9L329.4 227.7Z"/>
<path stroke="#fccf31" d="M352.0 234.0L339.9 228.9"/>
<path stroke="#fad42e" d="M329.4 227.7L339.9 228.9"/>
<path stroke="#fad52e" d="M352.0 234.0L341.5 232.9L329.4 227.7"/>
<path fill="#fff" d="M331.0 232.0L341.5 232.9L329.4 227.7L318.9 226.8Z"/>
<path stroke="#fad52e" d="M341.5 232.9L329.4 227.7"/>
<path stroke="#f8da2b" d="M318.9 226.8L329.4 227.7"/>
<path stroke="#f8da2b" d="M341.5 232.9L331.0 232.0L318.9 226.8"/>
<path fill="#fff" d="M320.4 231.3L331.0 232.0L318.9 226.8L308.3 226.1Z"/>
<path stroke="#f8da2b" d="M331.0 232.0L318.9 226.8"/>
<path stroke="#f6df29" d="M308.3 226.1L318.9 226.8"/>
<path stroke="#f6e029" d="M331.0 232.0L320.4 231.3L308.3 226.1"/>
<path fill="#fff" d="M309.9 230.8L320.4 231.3L308.3 226.1L297.8 225.5Z"/>
<path stroke="#f6e029" d="M320.4 231.3L308.3 226.1"/>
<path stroke="#f5e427" d="M297.8 225.5L308.3 226.1"/>
<path stroke="#f5e526" d="M320.4 231.3L309.9 230.8L297.8 225.5"/>
<path fill="#fff" d="M299.3 230.4L309.9 230.8L297.8 225.5L287.2 225.1Z"/>
<path stroke="#f5e526" d="M309.9 230.8L297.8 225.5"/>
<path stroke="#f5e924" d="M287.2 225.1L297.8 225.5"/>
<path stroke="#f5e924" d="M309.9 230.8L299.3 230.4L287.2 225.1"/>
<path fill="#fff" d="M288.8 230.2L299.3 230.4L287.2 225.1L276.7 224.9Z"/>
<path stroke="#f5e924" d="M299.3 230.4L287.2 225.1"/>
<path stroke="#f5ed21" d="M276.7 224.9L287.2 225.1"/>
<path stroke="#f5ee21" d="M299.3 230.4L288.8 230.2L276.7 224.9"/>
<path fill="#fff" d="M638.2 200.5L648.7 191.4L636.6 187.4L626.1 196.8Z"/>
<path stroke="#debd29" d="M648.7 191.4L636.6 187.4"/>
<path stroke="#c9c129" d="M626.1 196.8L636.6 187.4"/>
<path stroke="#cec028" d="M648.7 191.4L638.2 200.5L626.1 196.8"/>
<path fill="#fff" d="M627.6 210.2L638.2 200.5L626.1 196.8L615.5 206.8Z"/>
<path stroke="#cec028" d="M638.2 200.5L626.1 196.8"/>
<path stroke="#b3c534" d="M615.5 206.8L626.1 196.8"/>
<path stroke="#bac430" d="M638.2 200.5L627.6 210.2L615.5 206.8"/>
<path fill="#fff" d="M617.1 220.5L627.6 210.2L615.5 206.8L605.0 217.7Z"/>
<path stroke="#bac430" d="M627.6 210.2L615.5 206.8"/>
<path stroke="#9ac946" d="M605.0 217.7L615.5 206.8"/>
<path stroke="#a3c83f" d="M627.6 210.2L617.1 220.5L605.0 217.7"/>
<path fill="#fff" d="M606.5 231.5L617.1 220.5L605.0 217.7L594.4 229.5Z"/>
<path stroke="#a3c83f" d="M617.1 220.5L605.0 217.7"/>
<path stroke="#7bcc5d" d="M594.4 229.5L605.0 217.7"/>
<path stroke="#87cb54" d="M617.1 220.5L606.5 231.5L594.4 229.5"/>
<path fill="#fff" d="M596.0 243.4L606.5 231.5L594.4 229.5L583.9 242.6Z"/>
<path stroke="#87cb54" d="M606.5 231.5L594.4 229.5"/>
<path stroke="#5acc78" d="M583.9 242.6L594.4 229.5"/>
<path stroke="#68cd6b" d="M606.5 231.5L596.0 243.4L583.9 242.6"/>
<path fill="#fff" d="M585.5 256.3L596.0 243.4L583.9 242.6L573.4 257.1Z"/>
<path stroke="#68cd6b" d="M596.0 243.4L583.9 242.6"/>
<path stroke="#3bc993" d="M573.4 257.1L583.9 242.6"/>
<path stroke="#4acb85" d="M596.0 243.4L585.5 256.3L573.4 257.1"/>
<path fill="#fff" d="M574.9 270.0L585.5 256.3L573.4 257.1L562.8 273.6Z"/>
<path stroke="#4acb85" d="M585.5 256.3L573.4 257.1"/>
<path stroke="#26c2ac" d="M562.8 273.6L573.4 257.1"/>
<path stroke="#34c79c" d="M585.5 256.3L574.9 270.0L562.8 273.6"/>
<path fill="#fff" d="M564.4 284.1L574.9 270.0L562.8 273.6L552.3 292.1Z"/>
<path stroke="#34c79c" d="M574.9 270.0L562.8 273.6"/>
<path stroke="#01b9c6" d="M552.3 292.1L562.8 273.6"/>
<path stroke="#21c1b0" d="M574.9 270.0L564.4 284.1L552.3 292.1"/>
<path fill="#fff" d="M553.8 297.3L564.4 284.1L552.3 292.1L541.7 311.8Z"/>
<path stroke="#21c1b0" d="M564.4 284.1L552.3 292.1"/>
<path stroke="#1aacdd" d="M541.7 311.8L552.3 292.1"/>
<path stroke="#05bbc1" d="M564.4 284.1L553.8 297.3L541.7 311.8"/>
<path fill="#fff" d="M543.3 306.8L553.8 297.3L541.7 311.8L531.2 327.7Z"/>
<path stroke="#05bbc1" d="M553.8 297.3L541.7 311.8"/>
<path stroke="#249ee6" d="M531.2 327.7L541.7 311.8"/>
<path stroke="#02b7cb" d="M553.8 297.3L543.3 306.8L531.2 327.7"/>
<path fill="#fff" d="M532.8 309.6L543.3 306.8L531.2 327.7L520.7 330.6Z"/>
<path stroke="#02b7cb" d="M543.3 306.8L531.2 327.7"/>
<path stroke="#249ee6" d="M520.7 330.6L531.2 327.7"/>
<path stroke="#02b7cb" d="M543.3 306.8L532.8 309.6L520.7 330.6"/>
<path fill="#fff" d="M522.2 305.8L532.8 309.6L520.7 330.6L510.1 320.3Z"/>
<path stroke="#02b7cb" d="M532.8 309.6L520.7 330.6"/>
<path stroke="#1aacdd" d="M510.1 320.3L520.7 330.6"/>
<path stroke="#05bbc1" d="M532.8 309.6L522.2 305.8L510.1 320.3"/>
<path fill="#fff" d="M511.7 298.3L522.2 305.8L510.1 320.3L499.6 306.3Z"/>
<path stroke="#05bbc1" d="M522.2 305.8L510.1 320.3"/>
<path stroke="#01b9c6" d="M499.6 306.3L510.1 320.3"/>
<path stroke="#21c1b0" d="M522.2 305.8L511.7 298.3L499.6 306.3"/>
<path fill="#fff" d="M501.1 289.9L511.7 298.3L499.6 306.3L489.0 293.5Z"/>
<path stroke="#21c1b0" d="M511.7 298.3L499.6 306.3"/>
<path stroke="#26c2ac" d="M489.0 293.5L499.6 306.3"/>
<path stroke="#34c79c" d="M511.7 298.3L501.1 289.9L489.0 293.5"/>
<path fill="#fff" d="M490.6 281.8L501.1 289.9L489.0 293.5L478.5 282.7Z"/>
<path stroke="#34c79c" d="M501.1 289.9L489.0 293.5"/>
<path stroke="#3bc993" d="M478.5 282.7L489.0 293.5"/>
<path stroke="#4acb85" d="M501.1 289.9L490.6 281.8L478.5 282.7"/>
<path fill="#fff" d="M480.1 274.7L490.6 281.8L478.5 282.7L468.0 273.8Z"/>
<path stroke="#4acb85" d="M490.6 281.8L478.5 282.7"/>
<path stroke="#5acc78" d="M468.0 273.8L478.5 282.7"/>
<path stroke="#68cd6b" d="M490.6 281.8L480.1 274.7L468.0 273.8"/>
<path fill="#fff" d="M469.5 268.4L480.1 274.7L468.0 273.8L457.4 266.4Z"/>
<path stroke="#68cd6b" d="M480.1 274.7L468.0 273.8"/>
<path stroke="#7bcc5d" d="M457.4 266.4L468.0 273.8"/>
<path stroke="#87cb54" d="M480.1 274.7L469.5 268.4L457.4 266.4"/>
<path fill="#fff" d="M459.0 263.1L469.5 268.4L457.4 266.4L446.9 260.3Z"/>
<path stroke="#87cb54" d="M469.5 268.4L457.4 266.4"/>
<path stroke="#9ac946" d="M446.9 260.3L457.4 266.4"/>
<path stroke="#a3c83f" d="M469.5 268.4L459.0 263.1L446.9 260.3"/>
<path fill="#fff" d="M448.5 258.4L459.0 263.1L446.9 260.3L436.4 255.1Z"/>
<path stroke="#a3c83f" d="M459.0 263.1L446.9 260.3"/>
<path stroke="#b3c534" d="M436.4 255.1L446.9 260.3"/>
<path stroke="#bac430" d="M459.0 263.1L448.5 258.4L436.4 255.1"/>
<path fill="#fff" d="M437.9 254.5L448.5 258.4L436.4 255.1L425.8 250.7Z"/>
<path stroke="#bac430" d="M448.5 258.4L436.4 255.1"/>
<path stroke="#c9c129" d="M425.8 250.7L436.4 255.1"/>
<path stroke="#cec028" d="M448.5 258.4L437.9 254.5L425.8 250.7"/>
<path fill="#fff" d="M427.4 251.1L437.9 254.5L425.8 250.7L415.3 247.0Z"/>
<path stroke="#cec028" d="M437.9 254.5L425.8 250.7"/>
<path stroke="#dabd28" d="M415.3 247.0L425.8 250.7"/>
<path stroke="#debd29" d="M437.9 254.5L427.4 251.1L415.3 247.0"/>
<path fill="#fff" d="M416.8 248.1L427.4 251.1L415.3 247.0L404.7 243.9Z"/>
<path stroke="#debd29" d="M427.4 251.1L415.3 247.0"/>
<path stroke="#e9bb2f" d="M404.7 243.9L415.3 247.0"/>
<path stroke="#ebba32" d="M427.4 251.1L416.8 248.1L404.7 243.9"/>
<path fill="#fff" d="M406.3 245.6L416.8 248.1L404.7 243.9L394.2 241.2Z"/>
<path stroke="#ebba32" d="M416.8 248.1L404.7 243.9"/>
<path stroke="#f4ba3a" d="M394.2 241.2L404.7 243.9"/>
<path stroke="#f6ba3b" d="M416.8 248.1L406.3 245.6L394.2 241.2"/>
<path fill="#fff" d="M395.8 243.5L406.3 245.6L394.2 241.2L383.7 238.9Z"/>
<path stroke="#f6ba3b" d="M406.3 245.6L394.2 241.2"/>
<path stroke="#fcbd3d" d="M383.7 238.9L394.2 241.2"/>
<path stroke="#febd3c" d="M406.3 245.6L395.8 243.5L383.7 238.9"/>
<path fill="#fff" d="M385.2 241.7L395.8 243.5L383.7 238.9L373.1 237.0Z"/>
<path stroke="#febd3c" d="M395.8 243.5L383.7 238.9"/>
<path stroke="#fec239" d="M373.1 237.0L383.7 238.9"/>
<path stroke="#fec338" d="M395.8 243.5L385.2 241.7L373.1 237.0"/>
<path fill="#fff" d="M374.7 240.2L385.2 241.7L373.1 237.0L362.6 235.4Z"/>
<path stroke="#fec338" d="M385.2 241.7L373.1 237.0"/>
<path stroke="#fec934" d="M362.6 235.4L373.1 237.0"/>
<path stroke="#feca34" d="M385.2 241.7L374.7 240.2L362.6 235.4"/>
<path fill="#fff" d="M364.1 238.9L374.7 240.2L362.6 235.4L352.0 234.0Z"/>
<path stroke="#feca34" d="M374.7 240.2L362.6 235.4"/>
<path stroke="#fccf31" d="M352.0 234.0L362.6 235.4"/>
<path stroke="#fcd030" d="M374.7 240.2L364.1 238.9L352.0 234.0"/>
<path fill="#fff" d="M353.6 237.9L364.1 238.9L352.0 234.0L341.5 232.9Z"/>
<path stroke="#fcd030" d="M364.1 238.9L352.0 234.0"/>
<path stroke="#fad52e" d="M341.5 232.9L352.0 234.0"/>
<path stroke="#fad52d" d="M364.1 238.9L353.6 237.9L341.5 232.9"/>
<path fill="#fff" d="M343.1 237.0L353.6 237.9L341.5 232.9L331.0 232.0Z"/>
<path stroke="#fad52d" d="M353.6 237.9L341.5 232.9"/>
<path stroke="#f8da2b" d="M331.0 232.0L341.5 232.9"/>
<path stroke="#f7db2b" d="M353.6 237.9L343.1 237.0L331.0 232.0"/>
<path fill="#fff" d="M332.5 236.4L343.1 237.0L331.0 232.0L320.4 231.3Z"/>
<path stroke="#f7db2b" d="M343.1 237.0L331.0 232.0"/>
<path stroke="#f6e029" d="M320.4 231.3L331.0 232.0"/>
<path stroke="#f6e028" d="M343.1 237.0L332.5 236.4L320.4 231.3"/>
<path fill="#fff" d="M322.0 235.9L332.5 236.4L320.4 231.3L309.9 230.8Z"/>
<path stroke="#f6e028" d="M332.5 236.4L320.4 231.3"/>
<path stroke="#f5e526" d="M309.9 230.8L320.4 231.3"/>
<path stroke="#f5e526" d="M332.5 236.4L322.0 235.9L309.9 230.8"/>
<path fill="#fff" d="M311.4 235.5L322.0 235.9L309.9 230.8L299.3 230.4Z"/>
<path stroke="#f5e526" d="M322.0 235.9L309.9 230.8"/>
<path stroke="#f5e924" d="M299.3 230.4L309.9 230.8"/>
<path stroke="#f5ea24" d="M322.0 235.9L311.4 235.5L299.3 230.4"/>
<path fill="#fff" d="M300.9 235.4L311.4 235.5L299.3 230.4L288.8 230.2Z"/>
<path stroke="#f5ea24" d="M311.4 235.5L299.3 230.4"/>
<path stroke="#f5ee21" d="M288.8 230.2L299.3 230.4"/>
<path stroke="#f5ee21" d="M311.4 235.5L300.9 235.4L288.8 230.2"/>
<path fill="#fff" d="M650.3 203.7L660.8 195.0L648.7 191.4L638.2 200.5Z"/>
<path stroke="#e3bc2c" d="M660.8 195.0L648.7 191.4"/>
<path stroke="#cec028" d="M638.2 200.5L648.7 191.4"/>
<path stroke="#d4bf28" d="M660.8 195.0L650.3 203.7L638.2 200.5"/>
<path fill="#fff" d="M639.7 212.9L650.3 203.7L638.2 200.5L627.6 210.2Z"/>
<path stroke="#d4bf28" d="M650.3 203.7L638.2 200.5"/>
<path stroke="#bac430" d="M627.6 210.2L638.2 200.5"/>
<path stroke="#c2c22b" d="M650.3 203.7L639.7 212.9L627.6 210.2"/>
<path fill="#fff" d="M629.2 222.5L639.7 212.9L627.6 210.2L617.1 220.5Z"/>
<path stroke="#c2c22b" d="M639.7 212.9L627.6 210.2"/>
<path stroke="#a3c83f" d="M617.1 220.5L627.6 210.2"/>
<path stroke="#aec637" d="M639.7 212.9L629.2 222.5L617.1 220.5"/>
<path fill="#fff" d="M618.6 232.7L629.2 222.5L617.1 220.5L606.5 231.5Z"/>
<path stroke="#aec637" d="M629.2 222.5L617.1 220.5"/>
<path stroke="#87cb54" d="M606.5 231.5L617.1 220.5"/>
<path stroke="#96ca49" d="M629.2 222.5L618.6 232.7L606.5 231.5"/>
<path fill="#fff" d="M608.1 243.4L618.6 232.7L606.5 231.5L596.0 243.4Z"/>
<path stroke="#96ca49" d="M618.6 232.7L606.5 231.5"/>
<path stroke="#68cd6b" d="M596.0 243.4L606.5 231.5"/>
<path stroke="#7bcc5d" d="M618.6 232.7L608.1 243.4L596.0 243.4"/>
<path fill="#fff" d="M597.6 254.5L608.1 243.4L596.0 243.4L585.5 256.3Z"/>
<path stroke="#7bcc5d" d="M608.1 243.4L596.0 243.4"/>
<path stroke="#4acb85" d="M585.5 256.3L596.0 243.4"/>
<path stroke="#60cd73" d="M608.1 243.4L597.6 254.5L585.5 256.3"/>
<path fill="#fff" d="M587.0 265.8L597.6 254.5L585.5 256.3L574.9 270.0Z"/>
<path stroke="#60cd73" d="M597.6 254.5L585.5 256.3"/>
<path stroke="#34c79c" d="M574.9 270.0L585.5 256.3"/>
<path stroke="#47cb87" d="M597.6 254.5L587.0 265.8L574.9 270.0"/>
<path fill="#fff" d="M576.5 276.8L587.0 265.8L574.9 270.0L564.4 284.1Z"/>
<path stroke="#47cb87" d="M587.0 265.8L574.9 270.0"/>
<path stroke="#21c1b0" d="M564.4 284.1L574.9 270.0"/>
<path stroke="#36c899" d="M587.0 265.8L576.5 276.8L564.4 284.1"/>
<path fill="#fff" d="M565.9 286.4L576.5 276.8L564.4 284.1L553.8 297.3Z"/>
<path stroke="#36c899" d="M576.5 276.8L564.4 284.1"/>
<path stroke="#05bbc1" d="M553.8 297.3L564.4 284.1"/>
<path stroke="#2dc4a6" d="M576.5 276.8L565.9 286.4L553.8 297.3"/>
<path fill="#fff" d="M555.4 293.1L565.9 286.4L553.8 297.3L543.3 306.8Z"/>
<path stroke="#2dc4a6" d="M565.9 286.4L553.8 297.3"/>
<path stroke="#02b7cb" d="M543.3 306.8L553.8 297.3"/>
<path stroke="#26c2ac" d="M565.9 286.4L555.4 293.1L543.3 306.8"/>
<path fill="#fff" d="M544.9 296.0L555.4 293.1L543.3 306.8L532.8 309.6Z"/>
<path stroke="#26c2ac" d="M555.4 293.1L543.3 306.8"/>
<path stroke="#02b7cb" d="M532.8 309.6L543.3 306.8"/>
<path stroke="#26c2ac" d="M555.4 293.1L544.9 296.0L532.8 309.6"/>
<path fill="#fff" d="M534.3 294.9L544.9 296.0L532.8 309.6L522.2 305.8Z"/>
<path stroke="#26c2ac" d="M544.9 296.0L532.8 309.6"/>
<path stroke="#05bbc1" d="M522.2 305.8L532.8 309.6"/>
<path stroke="#2dc4a6" d="M544.9 296.0L534.3 294.9L522.2 305.8"/>
<path fill="#fff" d="M523.8 291.0L534.3 294.9L522.2 305.8L511.7 298.3Z"/>
<path stroke="#2dc4a6" d="M534.3 294.9L522.2 305.8"/>
<path stroke="#21c1b0" d="M511.7 298.3L522.2 305.8"/>
<path stroke="#36c899" d="M534.3 294.9L523.8 291.0L511.7 298.3"/>
<path fill="#fff" d="M513.2 285.7L523.8 291.0L511.7 298.3L501.1 289.9Z"/>
<path stroke="#36c899" d="M523.8 291.0L511.7 298.3"/>
<path stroke="#34c79c" d="M501.1 289.9L511.7 298.3"/>
<path stroke="#47cb87" d="M523.8 291.0L513.2 285.7L501.1 289.9"/>
<path fill="#fff" d="M502.7 280.0L513.2 285.7L501.1 289.9L490.6 281.8Z"/>
<path stroke="#47cb87" d="M513.2 285.7L501.1 289.9"/>
<path stroke="#4acb85" d="M490.6 281.8L501.1 289.9"/>
<path stroke="#60cd73" d="M513.2 285.7L502.7 280.0L490.6 281.8"/>
<path fill="#fff" d="M492.2 274.6L502.7 280.0L490.6 281.8L480.1 274.7Z"/>
<path stroke="#60cd73" d="M502.7 280.0L490.6 281.8"/>
<path stroke="#68cd6b" d="M480.1 274.7L490.6 281.8"/>
<path stroke="#7bcc5d" d="M502.7 280.0L492.2 274.6L480.1 274.7"/>
<path fill="#fff" d="M481.6 269.6L492.2 274.6L480.1 274.7L469.5 268.4Z"/>
<path stroke="#7bcc5d" d="M492.2 274.6L480.1 274.7"/>
<path stroke="#87cb54" d="M469.5 268.4L480.1 274.7"/>
<path stroke="#96ca49" d="M492.2 274.6L481.6 269.6L469.5 268.4"/>
<path fill="#fff" d="M471.1 265.1L481.6 269.6L469.5 268.4L459.0 263.1Z"/>
<path stroke="#96ca49" d="M481.6 269.6L469.5 268.4"/>
<path stroke="#a3c83f" d="M459.0 263.1L469.5 268.4"/>
<path stroke="#aec637" d="M481.6 269.6L471.1 265.1L459.0 263.1"/>
<path fill="#fff" d="M460.6 261.1L471.1 265.1L459.0 263.1L448.5 258.4Z"/>
<path stroke="#aec637" d="M471.1 265.1L459.0 263.1"/>
<path stroke="#bac430" d="M448.5 258.4L459.0 263.1"/>
<path stroke="#c2c22b" d="M471.1 265.1L460.6 261.1L448.5 258.4"/>
<path fill="#fff" d="M450.0 257.7L460.6 261.1L448.5 258.4L437.9 254.5Z"/>
<path stroke="#c2c22b" d="M460.6 261.1L448.5 258.4"/>
<path stroke="#cec028" d="M437.9 254.5L448.5 258.4"/>
<path stroke="#d4bf28" d="M460.6 261.1L450.0 257.7L437.9 254.5"/>
<path fill="#fff" d="M439.5 254.6L450.0 257.7L437.9 254.5L427.4 251.1Z"/>
<path stroke="#d4bf28" d="M450.0 257.7L437.9 254.5"/>
<path stroke="#debd29" d="M427.4 251.1L437.9 254.5"/>
<path stroke="#e3bc2c" d="M450.0 257.7L439.5 254.6L427.4 251.1"/>
<path fill="#fff" d="M428.9 252.0L439.5 254.6L427.4 251.1L416.8 248.1Z"/>
<path stroke="#e3bc2c" d="M439.5 254.6L427.4 251.1"/>
<path stroke="#ebba32" d="M416.8 248.1L427.4 251.1"/>
<path stroke="#efba35" d="M439.5 254.6L428.9 252.0L416.8 248.1"/>
<path fill="#fff" d="M418.4 249.7L428.9 252.0L416.8 248.1L406.3 245.6Z"/>
<path stroke="#efba35" d="M428.9 252.0L416.8 248.1"/>
<path stroke="#f6ba3b" d="M406.3 245.6L416.8 248.1"/>
<path stroke="#f9ba3d" d="M428.9 252.0L418.4 249.7L406.3 245.6"/>
<path fill="#fff" d="M407.9 247.8L418.4 249.7L406.3 245.6L395.8 243.5Z"/>
<path stroke="#f9ba3d" d="M418.4 249.7L406.3 245.6"/>
<path stroke="#febd3c" d="M395.8 243.5L406.3 245.6"/>
<path stroke="#febf3b" d="M418.4 249.7L407.9 247.8L395.8 243.5"/>
<path fill="#fff" d="M397.3 246.1L407.9 247.8L395.8 243.5L385.2 241.7Z"/>
<path stroke="#febf3b" d="M407.9 247.8L395.8 243.5"/>
<path stroke="#fec338" d="M385.2 241.7L395.8 243.5"/>
<path stroke="#fec537" d="M407.9 247.8L397.3 246.1L385.2 241.7"/>
<path fill="#fff" d="M386.8 244.7L397.3 246.1L385.2 241.7L374.7 240.2Z"/>
<path stroke="#fec537" d="M397.3 246.1L385.2 241.7"/>
<path stroke="#feca34" d="M374.7 240.2L385.2 241.7"/>
<path stroke="#fdcb33" d="M397.3 246.1L386.8 244.7L374.7 240.2"/>
<path fill="#fff" d="M376.2 243.6L386.8 244.7L374.7 240.2L364.1 238.9Z"/>
<path stroke="#fdcb33" d="M386.8 244.7L374.7 240.2"/>
<path stroke="#fcd030" d="M364.1 238.9L374.7 240.2"/>
<path stroke="#fcd12f" d="M386.8 244.7L376.2 243.6L364.1 238.9"/>
<path fill="#fff" d="M365.7 242.6L376.2 243.6L364.1 238.9L353.6 237.9Z"/>
<path stroke="#fcd12f" d="M376.2 243.6L364.1 238.9"/>
<path stroke="#fad52d" d="M353.6 237.9L364.1 238.9"/>
<path stroke="#f9d72d" d="M376.2 243.6L365.7 242.6L353.6 237.9"/>
<path fill="#fff" d="M355.2 241.9L365.7 242.6L353.6 237.9L343.1 237.0Z"/>
<path stroke="#f9d72d" d="M365.7 242.6L353.6 237.9"/>
<path stroke="#f7db2b" d="M343.1 237.0L353.6 237.9"/>
<path stroke="#f7dc2a" d="M365.7 242.6L355.2 241.9L343.1 237.0"/>
<path fill="#fff" d="M344.6 241.3L355.2 241.9L343.1 237.0L332.5 236.4Z"/>
<path stroke="#f7dc2a" d="M355.2 241.9L343.1 237.0"/>
<path stroke="#f6e028" d="M332.5 236.4L343.1 237.0"/>
<path stroke="#f5e128" d="M355.2 241.9L344.6 241.3L332.5 236.4"/>
<path fill="#fff" d="M334.1 240.8L344.6 241.3L332.5 236.4L322.0 235.9Z"/>
<path stroke="#f5e128" d="M344.6 241.3L332.5 236.4"/>
<path stroke="#f5e526" d="M322.0 235.9L332.5 236.4"/>
<path stroke="#f5e626" d="M344.6 241.3L334.1 240.8L322.0 235.9"/>
<path fill="#fff" d="M323.5 240.6L334.1 240.8L322.0 235.9L311.4 235.5Z"/>
<path stroke="#f5e626" d="M334.1 240.8L322.0 235.9"/>
<path stroke="#f5ea24" d="M311.4 235.5L322.0 235.9"/>
<path stroke="#f5ea23" d="M334.1 240.8L323.5 240.6L311.4 235.5"/>
<path fill="#fff" d="M313.0 240.4L323.5 240.6L311.4 235.5L300.9 235.4Z"/>
<path stroke="#f5ea23" d="M323.5 240.6L311.4 235.5"/>
<path stroke="#f5ee21" d="M300.9 235.4L311.4 235.5"/>
<path stroke="#f5ef20" d="M323.5 240.6L313.0 240.4L300.9 235.4"/>
<path fill="#fff" d="M662.4 206.5L672.9 198.2L660.8 195.0L650.3 203.7Z"/>
<path stroke="#e8bb2f" d="M672.9 198.2L660.8 195.0"/>
<path stroke="#d4bf28" d="M650.3 203.7L660.8 195.0"/>
<path stroke="#dbbd29" d="M672.9 198.2L662.4 206.5L650.3 203.7"/>
<path fill="#fff" d="M651.8 215.1L662.4 206.5L650.3 203.7L639.7 212.9Z"/>
<path stroke="#dbbd29" d="M662.4 206.5L650.3 203.7"/>
<path stroke="#c2c22b" d="M639.7 212.9L650.3 203.7"/>
<path stroke="#ccc028" d="M662.4 206.5L651.8 215.1L639.7 212.9"/>
<path fill="#fff" d="M641.3 224.0L651.8 215.1L639.7 212.9L629.2 222.5Z"/>
<path stroke="#ccc028" d="M651.8 215.1L639.7 212.9"/>
<path stroke="#aec637" d="M629.2 222.5L639.7 212.9"/>
<path stroke="#bac430" d="M651.8 215.1L641.3 224.0L629.2 222.5"/>
<path fill="#fff" d="M630.7 233.3L641.3 224.0L629.2 222.5L618.6 232.7Z"/>
<path stroke="#bac430" d="M641.3 224.0L629.2 222.5"/>
<path stroke="#96ca49" d="M618.6 232.7L629.2 222.5"/>
<path stroke="#a6c83d" d="M641.3 224.0L630.7 233.3L618.6 232.7"/>
<path fill="#fff" d="M620.2 242.8L630.7 233.3L618.6 232.7L608.1 243.4Z"/>
<path stroke="#a6c83d" d="M630.7 233.3L618.6 232.7"/>
<path stroke="#7bcc5d" d="M608.1 243.4L618.6 232.7"/>
<path stroke="#90ca4d" d="M630.7 233.3L620.2 242.8L608.1 243.4"/>
<path fill="#fff" d="M609.7 252.5L620.2 242.8L608.1 243.4L597.6 254.5Z"/>
<path stroke="#90ca4d" d="M620.2 242.8L608.1 243.4"/>
<path stroke="#60cd73" d="M597.6 254.5L608.1 243.4"/>
<path stroke="#78cc5f" d="M620.2 242.8L609.7 252.5L597.6 254.5"/>
<path fill="#fff" d="M599.1 261.9L609.7 252.5L597.6 254.5L587.0 265.8Z"/>
<path stroke="#78cc5f" d="M609.7 252.5L597.6 254.5"/>
<path stroke="#47cb87" d="M587.0 265.8L597.6 254.5"/>
<path stroke="#62cd70" d="M609.7 252.5L599.1 261.9L587.0 265.8"/>
<path fill="#fff" d="M588.6 270.7L599.1 261.9L587.0 265.8L576.5 276.8Z"/>
<path stroke="#62cd70" d="M599.1 261.9L587.0 265.8"/>
<path stroke="#36c899" d="M576.5 276.8L587.0 265.8"/>
<path stroke="#50cc7f" d="M599.1 261.9L588.6 270.7L576.5 276.8"/>
<path fill="#fff" d="M578.0 278.2L588.6 270.7L576.5 276.8L565.9 286.4Z"/>
<path stroke="#50cc7f" d="M588.6 270.7L576.5 276.8"/>
<path stroke="#2dc4a6" d="M565.9 286.4L576.5 276.8"/>
<path stroke="#44ca8a" d="M588.6 270.7L578.0 278.2L565.9 286.4"/>
<path fill="#fff" d="M567.5 283.7L578.0 278.2L565.9 286.4L555.4 293.1Z"/>
<path stroke="#44ca8a" d="M578.0 278.2L565.9 286.4"/>
<path stroke="#26c2ac" d="M555.4 293.1L565.9 286.4"/>
<path stroke="#3dca90" d="M578.0 278.2L567.5 283.7L555.4 293.1"/>
<path fill="#fff" d="M557.0 286.5L567.5 283.7L555.4 293.1L544.9 296.0Z"/>
<path stroke="#3dca90" d="M567.5 283.7L555.4 293.1"/>
<path stroke="#26c2ac" d="M544.9 296.0L555.4 293.1"/>
<path stroke="#3dca90" d="M567.5 283.7L557.0 286.5L544.9 296.0"/>
<path fill="#fff" d="M546.4 286.7L557.0 286.5L544.9 296.0L534.3 294.9Z"/>
<path stroke="#3dca90" d="M557.0 286.5L544.9 296.0"/>
<path stroke="#2dc4a6" d="M534.3 294.9L544.9 296.0"/>
<path stroke="#44ca8a" d="M557.0 286.5L546.4 286.7L534.3 294.9"/>
<path fill="#fff" d="M535.9 284.9L546.4 286.7L534.3 294.9L523.8 291.0Z"/>
<path stroke="#44ca8a" d="M546.4 286.7L534.3 294.9"/>
<path stroke="#36c899" d="M523.8 291.0L534.3 294.9"/>
<path stroke="#50cc7f" d="M546.4 286.7L535.9 284.9L523.8 291.0"/>
<path fill="#fff" d="M525.3 281.8L535.9 284.9L523.8 291.0L513.2 285.7Z"/>
<path stroke="#50cc7f" d="M535.9 284.9L523.8 291.0"/>
<path stroke="#47cb87" d="M513.2 285.7L523.8 291.0"/>
<path stroke="#62cd70" d="M535.9 284.9L525.3 281.8L513.2 285.7"/>
<path fill="#fff" d="M514.8 278.0L525.3 281.8L513.2 285.7L502.7 280.0Z"/>
<path stroke="#62cd70" d="M525.3 281.8L513.2 285.7"/>
<path stroke="#60cd73" d="M502.7 280.0L513.2 285.7"/>
<path stroke="#78cc5f" d="M525.3 281.8L514.8 278.0L502.7 280.0"/>
<path fill="#fff" d="M504.3 274.1L514.8 278.0L502.7 280.0L492.2 274.6Z"/>
<path stroke="#78cc5f" d="M514.8 278.0L502.7 280.0"/>
<path stroke="#7bcc5d" d="M492.2 274.6L502.7 280.0"/>
<path stroke="#90ca4d" d="M514.8 278.0L504.3 274.1L492.2 274.6"/>
<path fill="#fff" d="M493.7 270.2L504.3 274.1L492.2 274.6L481.6 269.6Z"/>
<path stroke="#90ca4d" d="M504.3 274.1L492.2 274.6"/>
<path stroke="#96ca49" d="M481.6 269.6L492.2 274.6"/>
<path stroke="#a6c83d" d="M504.3 274.1L493.7 270.2L481.6 269.6"/>
<path fill="#fff" d="M483.2 266.6L493.7 270.2L481.6 269.6L471.1 265.1Z"/>
<path stroke="#a6c83d" d="M493.7 270.2L481.6 269.6"/>
<path stroke="#aec637" d="M471.1 265.1L481.6 269.6"/>
<path stroke="#bac430" d="M493.7 270.2L483.2 266.6L471.1 265.1"/>
<path fill="#fff" d="M472.7 263.3L483.2 266.6L471.1 265.1L460.6 261.1Z"/>
<path stroke="#bac430" d="M483.2 266.6L471.1 265.1"/>
<path stroke="#c2c22b" d="M460.6 261.1L471.1 265.1"/>
<path stroke="#ccc028" d="M483.2 266.6L472.7 263.3L460.6 261.1"/>
<path fill="#fff" d="M462.1 260.4L472.7 263.3L460.6 261.1L450.0 257.7Z"/>
<path stroke="#ccc028" d="M472.7 263.3L460.6 261.1"/>
<path stroke="#d4bf28" d="M450.0 257.7L460.6 261.1"/>
<path stroke="#dbbd29" d="M472.7 263.3L462.1 260.4L450.0 257.7"/>
<path fill="#fff" d="M451.6 257.8L462.1 260.4L450.0 257.7L439.5 254.6Z"/>
<path stroke="#dbbd29" d="M462.1 260.4L450.0 257.7"/>
<path stroke="#e3bc2c" d="M439.5 254.6L450.0 257.7"/>
<path stroke="#e8bb2f" d="M462.1 260.4L451.6 257.8L439.5 254.6"/>
<path fill="#fff" d="M441.0 255.5L451.6 257.8L439.5 254.6L428.9 252.0Z"/>
<path stroke="#e8bb2f" d="M451.6 257.8L439.5 254.6"/>
<path stroke="#efba35" d="M428.9 252.0L439.5 254.6"/>
<path stroke="#f3ba38" d="M451.6 257.8L441.0 255.5L428.9 252.0"/>
<path fill="#fff" d="M430.5 253.5L441.0 255.5L428.9 252.0L418.4 249.7Z"/>
<path stroke="#f3ba38" d="M441.0 255.5L428.9 252.0"/>
<path stroke="#f9ba3d" d="M418.4 249.7L428.9 252.0"/>
<path stroke="#fbbc3d" d="M441.0 255.5L430.5 253.5L418.4 249.7"/>
<path fill="#fff" d="M420.0 251.8L430.5 253.5L418.4 249.7L407.9 247.8Z"/>
<path stroke="#fbbc3d" d="M430.5 253.5L418.4 249.7"/>
<path stroke="#febf3b" d="M407.9 247.8L418.4 249.7"/>
<path stroke="#fec13a" d="M430.5 253.5L420.0 251.8L407.9 247.8"/>
<path fill="#fff" d="M409.4 250.3L420.0 251.8L407.9 247.8L397.3 246.1Z"/>
<path stroke="#fec13a" d="M420.0 251.8L407.9 247.8"/>
<path stroke="#fec537" d="M397.3 246.1L407.9 247.8"/>
<path stroke="#fec735" d="M420.0 251.8L409.4 250.3L397.3 246.1"/>
<path fill="#fff" d="M398.9 249.1L409.4 250.3L397.3 246.1L386.8 244.7Z"/>
<path stroke="#fec735" d="M409.4 250.3L397.3 246.1"/>
<path stroke="#fdcb33" d="M386.8 244.7L397.3 246.1"/>
<path stroke="#fdcd32" d="M409.4 250.3L398.9 249.1L386.8 244.7"/>
<path fill="#fff" d="M388.3 248.0L398.9 249.1L386.8 244.7L376.2 243.6Z"/>
<path stroke="#fdcd32" d="M398.9 249.1L386.8 244.7"/>
<path stroke="#fcd12f" d="M376.2 243.6L386.8 244.7"/>
<path stroke="#fbd22f" d="M398.9 249.1L388.3 248.0L376.2 243.6"/>
<path fill="#fff" d="M377.8 247.2L388.3 248.0L376.2 243.6L365.7 242.6Z"/>
<path stroke="#fbd22f" d="M388.3 248.0L376.2 243.6"/>
<path stroke="#f9d72d" d="M365.7 242.6L376.2 243.6"/>
<path stroke="#f9d82c" d="M388.3 248.0L377.8 247.2L365.7 242.6"/>
<path fill="#fff" d="M367.3 246.5L377.8 247.2L365.7 242.6L355.2 241.9Z"/>
<path stroke="#f9d82c" d="M377.8 247.2L365.7 242.6"/>
<path stroke="#f7dc2a" d="M355.2 241.9L365.7 242.6"/>
<path stroke="#f6dd2a" d="M377.8 247.2L367.3 246.5L355.2 241.9"/>
<path fill="#fff" d="M356.7 246.0L367.3 246.5L355.2 241.9L344.6 241.3Z"/>
<path stroke="#f6dd2a" d="M367.3 246.5L355.2 241.9"/>
<path stroke="#f5e128" d="M344.6 241.3L355.2 241.9"/>
<path stroke="#f5e227" d="M367.3 246.5L356.7 246.0L344.6 241.3"/>
<path fill="#fff" d="M346.2 245.7L356.7 246.0L344.6 241.3L334.1 240.8Z"/>
<path stroke="#f5e227" d="M356.7 246.0L344.6 241.3"/>
<path stroke="#f5e626" d="M334.1 240.8L344.6 241.3"/>
<path stroke="#f5e725" d="M356.7 246.0L346.2 245.7L334.1 240.8"/>
<path fill="#fff" d="M335.6 245.4L346.2 245.7L334.1 240.8L323.5 240.6Z"/>
<path stroke="#f5e725" d="M346.2 245.7L334.1 240.8"/>
<path stroke="#f5ea23" d="M323.5 240.6L334.1 240.8"/>
<path stroke="#f5eb23" d="M346.2 245.7L335.6 245.4L323.5 240.6"/>
<path fill="#fff" d="M325.1 245.3L335.6 245.4L323.5 240.6L313.0 240.4Z"/>
<path stroke="#f5eb23" d="M335.6 245.4L323.5 240.6"/>
<path stroke="#f5ef20" d="M313.0 240.4L323.5 240.6"/>
<path stroke="#f6f020" d="M335.6 245.4L325.1 245.3L313.0 240.4"/>
<path fill="#fff" d="M674.5 208.9L685.0 201.0L672.9 198.2L662.4 206.5Z"/>
<path stroke="#eeba34" d="M685.0 201.0L672.9 198.2"/>
<path stroke="#dbbd29" d="M662.4 206.5L672.9 198.2"/>
<path stroke="#e3bc2c" d="M685.0 201.0L674.5 208.9L662.4 206.5"/>
<path fill="#fff" d="M663.9 216.9L674.5 208.9L662.4 206.5L651.8 215.1Z"/>
<path stroke="#e3bc2c" d="M674.5 208.9L662.4 206.5"/>
<path stroke="#ccc028" d="M651.8 215.1L662.4 206.5"/>
<path stroke="#d6be28" d="M674.5 208.9L663.9 216.9L651.8 215.1"/>
<path fill="#fff" d="M653.4 225.2L663.9 216.9L651.8 215.1L641.3 224.0Z"/>
<path stroke="#d6be28" d="M663.9 216.9L651.8 215.1"/>
<path stroke="#bac430" d="M641.3 224.0L651.8 215.1"/>
<path stroke="#c7c12a" d="M663.9 216.9L653.4 225.2L641.3 224.0"/>
<path fill="#fff" d="M642.8 233.7L653.4 225.2L641.3 224.0L630.7 233.3Z"/>
<path stroke="#c7c12a" d="M653.4 225.2L641.3 224.0"/>
<path stroke="#a6c83d" d="M630.7 233.3L641.3 224.0"/>
<path stroke="#b6c532" d="M653.4 225.2L642.8 233.7L630.7 233.3"/>
<path fill="#fff" d="M632.3 242.2L642.8 233.7L630.7 233.3L620.2 242.8Z"/>
<path stroke="#b6c532" d="M642.8 233.7L630.7 233.3"/>
<path stroke="#90ca4d" d="M620.2 242.8L630.7 233.3"/>
<path stroke="#a4c83e" d="M642.8 233.7L632.3 242.2L620.2 242.8"/>
<path fill="#fff" d="M621.8 250.6L632.3 242.2L620.2 242.8L609.7 252.5Z"/>
<path stroke="#a4c83e" d="M632.3 242.2L620.2 242.8"/>
<path stroke="#78cc5f" d="M609.7 252.5L620.2 242.8"/>
<path stroke="#92ca4c" d="M632.3 242.2L621.8 250.6L609.7 252.5"/>
<path fill="#fff" d="M611.2 258.6L621.8 250.6L609.7 252.5L599.1 261.9Z"/>
<path stroke="#92ca4c" d="M621.8 250.6L609.7 252.5"/>
<path stroke="#62cd70" d="M599.1 261.9L609.7 252.5"/>
<path stroke="#80cc59" d="M621.8 250.6L611.2 258.6L599.1 261.9"/>
<path fill="#fff" d="M600.7 266.0L611.2 258.6L599.1 261.9L588.6 270.7Z"/>
<path stroke="#80cc59" d="M611.2 258.6L599.1 261.9"/>
<path stroke="#50cc7f" d="M588.6 270.7L599.1 261.9"/>
<path stroke="#70cd65" d="M611.2 258.6L600.7 266.0L588.6 270.7"/>
<path fill="#fff" d="M590.1 272.2L600.7 266.0L588.6 270.7L578.0 278.2Z"/>
<path stroke="#70cd65" d="M600.7 266.0L588.6 270.7"/>
<path stroke="#44ca8a" d="M578.0 278.2L588.6 270.7"/>
<path stroke="#65cd6e" d="M600.7 266.0L590.1 272.2L578.0 278.2"/>
<path fill="#fff" d="M579.6 276.9L590.1 272.2L578.0 278.2L567.5 283.7Z"/>
<path stroke="#65cd6e" d="M590.1 272.2L578.0 278.2"/>
<path stroke="#3dca90" d="M567.5 283.7L578.0 278.2"/>
<path stroke="#60cd73" d="M590.1 272.2L579.6 276.9L567.5 283.7"/>
<path fill="#fff" d="M569.1 279.7L579.6 276.9L567.5 283.7L557.0 286.5Z"/>
<path stroke="#60cd73" d="M579.6 276.9L567.5 283.7"/>
<path stroke="#3dca90" d="M557.0 286.5L567.5 283.7"/>
<path stroke="#60cd73" d="M579.6 276.9L569.1 279.7L557.0 286.5"/>
<path fill="#fff" d="M558.5 280.7L569.1 279.7L557.0 286.5L546.4 286.7Z"/>
<path stroke="#60cd73" d="M569.1 279.7L557.0 286.5"/>
<path stroke="#44ca8a" d="M546.4 286.7L557.0 286.5"/>
<path stroke="#65cd6e" d="M569.1 279.7L558.5 280.7L546.4 286.7"/>
<path fill="#fff" d="M548.0 280.2L558.5 280.7L546.4 286.7L535.9 284.9Z"/>
<path stroke="#65cd6e" d="M558.5 280.7L546.4 286.7"/>
<path stroke="#50cc7f" d="M535.9 284.9L546.4 286.7"/>
<path stroke="#70cd65" d="M558.5 280.7L548.0 280.2L535.9 284.9"/>
<path fill="#fff" d="M537.4 278.5L548.0 280.2L535.9 284.9L525.3 281.8Z"/>
<path stroke="#70cd65" d="M548.0 280.2L535.9 284.9"/>
<path stroke="#62cd70" d="M525.3 281.8L535.9 284.9"/>
<path stroke="#80cc59" d="M548.0 280.2L537.4 278.5L525.3 281.8"/>
<path fill="#fff" d="M526.9 276.1L537.4 278.5L525.3 281.8L514.8 278.0Z"/>
<path stroke="#80cc59" d="M537.4 278.5L525.3 281.8"/>
<path stroke="#78cc5f" d="M514.8 278.0L525.3 281.8"/>
<path stroke="#92ca4c" d="M537.4 278.5L526.9 276.1L514.8 278.0"/>
<path fill="#fff" d="M516.4 273.4L526.9 276.1L514.8 278.0L504.3 274.1Z"/>
<path stroke="#92ca4c" d="M526.9 276.1L514.8 278.0"/>
<path stroke="#90ca4d" d="M504.3 274.1L514.8 278.0"/>
<path stroke="#a4c83e" d="M526.9 276.1L516.4 273.4L504.3 274.1"/>
<path fill="#fff" d="M505.8 270.6L516.4 273.4L504.3 274.1L493.7 270.2Z"/>
<path stroke="#a4c83e" d="M516.4 273.4L504.3 274.1"/>
<path stroke="#a6c83d" d="M493.7 270.2L504.3 274.1"/>
<path stroke="#b6c532" d="M516.4 273.4L505.8 270.6L493.7 270.2"/>
<path fill="#fff" d="M495.3 267.8L505.8 270.6L493.7 270.2L483.2 266.6Z"/>
<path stroke="#b6c532" d="M505.8 270.6L493.7 270.2"/>
<path stroke="#bac430" d="M483.2 266.6L493.7 270.2"/>
<path stroke="#c7c12a" d="M505.8 270.6L495.3 267.8L483.2 266.6"/>
<path fill="#fff" d="M484.8 265.2L495.3 267.8L483.2 266.6L472.7 263.3Z"/>
<path stroke="#c7c12a" d="M495.3 267.8L483.2 266.6"/>
<path stroke="#ccc028" d="M472.7 263.3L483.2 266.6"/>
<path stroke="#d6be28" d="M495.3 267.8L484.8 265.2L472.7 263.3"/>
<path fill="#fff" d="M474.2 262.8L484.8 265.2L472.7 263.3L462.1 260.4Z"/>
<path stroke="#d6be28" d="M484.8 265.2L472.7 263.3"/>
<path stroke="#dbbd29" d="M462.1 260.4L472.7 263.3"/>
<path stroke="#e3bc2c" d="M484.8 265.2L474.2 262.8L462.1 260.4"/>
<path fill="#fff" d="M463.7 260.6L474.2 262.8L462.1 260.4L451.6 257.8Z"/>
<path stroke="#e3bc2c" d="M474.2 262.8L462.1 260.4"/>
<path stroke="#e8bb2f" d="M451.6 257.8L462.1 260.4"/>
<path stroke="#eeba34" d="M474.2 262.8L463.7 260.6L451.6 257.8"/>
<path fill="#fff" d="M453.1 258.7L463.7 260.6L451.6 257.8L441.0 255.5Z"/>
<path stroke="#eeba34" d="M463.7 260.6L451.6 257.8"/>
<path stroke="#f3ba38" d="M441.0 255.5L451.6 257.8"/>
<path stroke="#f7ba3c" d="M463.7 260.6L453.1 258.7L441.0 255.5"/>
<path fill="#fff" d="M442.6 257.0L453.1 258.7L441.0 255.5L430.5 253.5Z"/>
<path stroke="#f7ba3c" d="M453.1 258.7L441.0 255.5"/>
<path stroke="#fbbc3d" d="M430.5 253.5L441.0 255.5"/>
<path stroke="#febe3c" d="M453.1 258.7L442.6 257.0L430.5 253.5"/>
<path fill="#fff" d="M432.1 255.5L442.6 257.0L430.5 253.5L420.0 251.8Z"/>
<path stroke="#febe3c" d="M442.6 257.0L430.5 253.5"/>
<path stroke="#fec13a" d="M420.0 251.8L430.5 253.5"/>
<path stroke="#fec338" d="M442.6 257.0L432.1 255.5L420.0 251.8"/>
<path fill="#fff" d="M421.5 254.3L432.1 255.5L420.0 251.8L409.4 250.3Z"/>
<path stroke="#fec338" d="M432.1 255.5L420.0 251.8"/>
<path stroke="#fec735" d="M409.4 250.3L420.0 251.8"/>
<path stroke="#fec934" d="M432.1 255.5L421.5 254.3L409.4 250.3"/>
<path fill="#fff" d="M411.0 253.2L421.5 254.3L409.4 250.3L398.9 249.1Z"/>
<path stroke="#fec934" d="M421.5 254.3L409.4 250.3"/>
<path stroke="#fdcd32" d="M398.9 249.1L409.4 250.3"/>
<path stroke="#fccf31" d="M421.5 254.3L411.0 253.2L398.9 249.1"/>
<path fill="#fff" d="M400.4 252.3L411.0 253.2L398.9 249.1L388.3 248.0Z"/>
<path stroke="#fccf31" d="M411.0 253.2L398.9 249.1"/>
<path stroke="#fbd22f" d="M388.3 248.0L398.9 249.1"/>
<path stroke="#fad42e" d="M411.0 253.2L400.4 252.3L388.3 248.0"/>
<path fill="#fff" d="M389.9 251.6L400.4 252.3L388.3 248.0L377.8 247.2Z"/>
<path stroke="#fad42e" d="M400.4 252.3L388.3 248.0"/>
<path stroke="#f9d82c" d="M377.8 247.2L388.3 248.0"/>
<path stroke="#f8da2b" d="M400.4 252.3L389.9 251.6L377.8 247.2"/>
<path fill="#fff" d="M379.4 251.0L389.9 251.6L377.8 247.2L367.3 246.5Z"/>
<path stroke="#f8da2b" d="M389.9 251.6L377.8 247.2"/>
<path stroke="#f6dd2a" d="M367.3 246.5L377.8 247.2"/>
<path stroke="#f6df29" d="M389.9 251.6L379.4 251.0L367.3 246.5"/>
<path fill="#fff" d="M368.8 250.6L379.4 251.0L367.3 246.5L356.7 246.0Z"/>
<path stroke="#f6df29" d="M379.4 251.0L367.3 246.5"/>
<path stroke="#f5e227" d="M356.7 246.0L367.3 246.5"/>
<path stroke="#f5e427" d="M379.4 251.0L368.8 250.6L356.7 246.0"/>
<path fill="#fff" d="M358.3 250.3L368.8 250.6L356.7 246.0L346.2 245.7Z"/>
<path stroke="#f5e427" d="M368.8 250.6L356.7 246.0"/>
<path stroke="#f5e725" d="M346.2 245.7L356.7 246.0"/>
<path stroke="#f5e825" d="M368.8 250.6L358.3 250.3L346.2 245.7"/>
<path fill="#fff" d="M347.7 250.2L358.3 250.3L346.2 245.7L335.6 245.4Z"/>
<path stroke="#f5e825" d="M358.3 250.3L346.2 245.7"/>
<path stroke="#f5eb23" d="M335.6 245.4L346.2 245.7"/>
<path stroke="#f5ec22" d="M358.3 250.3L347.7 250.2L335.6 245.4"/>
<path fill="#fff" d="M337.2 250.1L347.7 250.2L335.6 245.4L325.1 245.3Z"/>
<path stroke="#f5ec22" d="M347.7 250.2L335.6 245.4"/>
<path stroke="#f6f020" d="M325.1 245.3L335.6 245.4"/>
<path stroke="#f6f11f" d="M347.7 250.2L337.2 250.1L325.1 245.3"/>
<path fill="#fff" d="M686.6 211.0L697.1 203.6L685.0 201.0L674.5 208.9Z"/>
<path stroke="#f4ba39" d="M697.1 203.6L685.0 201.0"/>
<path stroke="#e3bc2c" d="M674.5 208.9L685.0 201.0"/>
<path stroke="#eaba31" d="M697.1 203.6L686.6 211.0L674.5 208.9"/>
<path fill="#fff" d="M676.0 218.6L686.6 211.0L674.5 208.9L663.9 216.9Z"/>
<path stroke="#eaba31" d="M686.6 211.0L674.5 208.9"/>
<path stroke="#d6be28" d="M663.9 216.9L674.5 208.9"/>
<path stroke="#dfbc2a" d="M686.6 211.0L676.0 218.6L663.9 216.9"/>
<path fill="#fff" d="M665.5 226.2L676.0 218.6L663.9 216.9L653.4 225.2Z"/>
<path stroke="#dfbc2a" d="M676.0 218.6L663.9 216.9"/>
<path stroke="#c7c12a" d="M653.4 225.2L663.9 216.9"/>
<path stroke="#d3bf27" d="M676.0 218.6L665.5 226.2L653.4 225.2"/>
<path fill="#fff" d="M654.9 233.9L665.5 226.2L653.4 225.2L642.8 233.7Z"/>
<path stroke="#d3bf27" d="M665.5 226.2L653.4 225.2"/>
<path stroke="#b6c532" d="M642.8 233.7L653.4 225.2"/>
<path stroke="#c6c22a" d="M665.5 226.2L654.9 233.9L642.8 233.7"/>
<path fill="#fff" d="M644.4 241.6L654.9 233.9L642.8 233.7L632.3 242.2Z"/>
<path stroke="#c6c22a" d="M654.9 233.9L642.8 233.7"/>
<path stroke="#a4c83e" d="M632.3 242.2L642.8 233.7"/>
<path stroke="#b8c431" d="M654.9 233.9L644.4 241.6L632.3 242.2"/>
<path fill="#fff" d="M633.9 249.0L644.4 241.6L632.3 242.2L621.8 250.6Z"/>
<path stroke="#b8c431" d="M644.4 241.6L632.3 242.2"/>
<path stroke="#92ca4c" d="M621.8 250.6L632.3 242.2"/>
<path stroke="#a9c73a" d="M644.4 241.6L633.9 249.0L621.8 250.6"/>
<path fill="#fff" d="M623.3 256.0L633.9 249.0L621.8 250.6L611.2 258.6Z"/>
<path stroke="#a9c73a" d="M633.9 249.0L621.8 250.6"/>
<path stroke="#80cc59" d="M611.2 258.6L621.8 250.6"/>
<path stroke="#9cc944" d="M633.9 249.0L623.3 256.0L611.2 258.6"/>
<path fill="#fff" d="M612.8 262.4L623.3 256.0L611.2 258.6L600.7 266.0Z"/>
<path stroke="#9cc944" d="M623.3 256.0L611.2 258.6"/>
<path stroke="#70cd65" d="M600.7 266.0L611.2 258.6"/>
<path stroke="#90ca4d" d="M623.3 256.0L612.8 262.4L600.7 266.0"/>
<path fill="#fff" d="M602.2 267.8L612.8 262.4L600.7 266.0L590.1 272.2Z"/>
<path stroke="#90ca4d" d="M612.8 262.4L600.7 266.0"/>
<path stroke="#65cd6e" d="M590.1 272.2L600.7 266.0"/>
<path stroke="#87cb54" d="M612.8 262.4L602.2 267.8L590.1 272.2"/>
<path fill="#fff" d="M591.7 271.9L602.2 267.8L590.1 272.2L579.6 276.9Z"/>
<path stroke="#87cb54" d="M602.2 267.8L590.1 272.2"/>
<path stroke="#60cd73" d="M579.6 276.9L590.1 272.2"/>
<path stroke="#82cc57" d="M602.2 267.8L591.7 271.9L579.6 276.9"/>
<path fill="#fff" d="M581.2 274.8L591.7 271.9L579.6 276.9L569.1 279.7Z"/>
<path stroke="#82cc57" d="M591.7 271.9L579.6 276.9"/>
<path stroke="#60cd73" d="M569.1 279.7L579.6 276.9"/>
<path stroke="#82cc57" d="M591.7 271.9L581.2 274.8L569.1 279.7"/>
<path fill="#fff" d="M570.6 276.3L581.2 274.8L569.1 279.7L558.5 280.7Z"/>
<path stroke="#82cc57" d="M581.2 274.8L569.1 279.7"/>
<path stroke="#65cd6e" d="M558.5 280.7L569.1 279.7"/>
<path stroke="#87cb54" d="M581.2 274.8L570.6 276.3L558.5 280.7"/>
<path fill="#fff" d="M560.1 276.6L570.6 276.3L558.5 280.7L548.0 280.2Z"/>
<path stroke="#87cb54" d="M570.6 276.3L558.5 280.7"/>
<path stroke="#70cd65" d="M548.0 280.2L558.5 280.7"/>
<path stroke="#90ca4d" d="M570.6 276.3L560.1 276.6L548.0 280.2"/>
<path fill="#fff" d="M549.5 275.9L560.1 276.6L548.0 280.2L537.4 278.5Z"/>
<path stroke="#90ca4d" d="M560.1 276.6L548.0 280.2"/>
<path stroke="#80cc59" d="M537.4 278.5L548.0 280.2"/>
<path stroke="#9cc944" d="M560.1 276.6L549.5 275.9L537.4 278.5"/>
<path fill="#fff" d="M539.0 274.5L549.5 275.9L537.4 278.5L526.9 276.1Z"/>
<path stroke="#9cc944" d="M549.5 275.9L537.4 278.5"/>
<path stroke="#92ca4c" d="M526.9 276.1L537.4 278.5"/>
<path stroke="#a9c73a" d="M549.5 275.9L539.0 274.5L526.9 276.1"/>
<path fill="#fff" d="M528.5 272.8L539.0 274.5L526.9 276.1L516.4 273.4Z"/>
<path stroke="#a9c73a" d="M539.0 274.5L526.9 276.1"/>
<path stroke="#a4c83e" d="M516.4 273.4L526.9 276.1"/>
<path stroke="#b8c431" d="M539.0 274.5L528.5 272.8L516.4 273.4"/>
<path fill="#fff" d="M517.9 270.8L528.5 272.8L516.4 273.4L505.8 270.6Z"/>
<path stroke="#b8c431" d="M528.5 272.8L516.4 273.4"/>
<path stroke="#b6c532" d="M505.8 270.6L516.4 273.4"/>
<path stroke="#c6c22a" d="M528.5 272.8L517.9 270.8L505.8 270.6"/>
<path fill="#fff" d="M507.4 268.8L517.9 270.8L505.8 270.6L495.3 267.8Z"/>
<path stroke="#c6c22a" d="M517.9 270.8L505.8 270.6"/>
<path stroke="#c7c12a" d="M495.3 267.8L505.8 270.6"/>
<path stroke="#d3bf27" d="M517.9 270.8L507.4 268.8L495.3 267.8"/>
<path fill="#fff" d="M496.9 266.9L507.4 268.8L495.3 267.8L484.8 265.2Z"/>
<path stroke="#d3bf27" d="M507.4 268.8L495.3 267.8"/>
<path stroke="#d6be28" d="M484.8 265.2L495.3 267.8"/>
<path stroke="#dfbc2a" d="M507.4 268.8L496.9 266.9L484.8 265.2"/>
<path fill="#fff" d="M486.3 265.0L496.9 266.9L484.8 265.2L474.2 262.8Z"/>
<path stroke="#dfbc2a" d="M496.9 266.9L484.8 265.2"/>
<path stroke="#e3bc2c" d="M474.2 262.8L484.8 265.2"/>
<path stroke="#eaba31" d="M496.9 266.9L486.3 265.0L474.2 262.8"/>
<path fill="#fff" d="M475.8 263.3L486.3 265.0L474.2 262.8L463.7 260.6Z"/>
<path stroke="#eaba31" d="M486.3 265.0L474.2 262.8"/>
<path stroke="#eeba34" d="M463.7 260.6L474.2 262.8"/>
<path stroke="#f4ba39" d="M486.3 265.0L475.8 263.3L463.7 260.6"/>
<path fill="#fff" d="M465.2 261.7L475.8 263.3L463.7 260.6L453.1 258.7Z"/>
<path stroke="#f4ba39" d="M475.8 263.3L463.7 260.6"/>
<path stroke="#f7ba3c" d="M453.1 258.7L463.7 260.6"/>
<path stroke="#fbbc3d" d="M475.8 263.3L465.2 261.7L453.1 258.7"/>
<path fill="#fff" d="M454.7 260.3L465.2 261.7L453.1 258.7L442.6 257.0Z"/>
<path stroke="#fbbc3d" d="M465.2 261.7L453.1 258.7"/>
<path stroke="#febe3c" d="M442.6 257.0L453.1 258.7"/>
<path stroke="#fec03a" d="M465.2 261.7L454.7 260.3L442.6 257.0"/>
<path fill="#fff" d="M444.2 259.1L454.7 260.3L442.6 257.0L432.1 255.5Z"/>
<path stroke="#fec03a" d="M454.7 260.3L442.6 257.0"/>
<path stroke="#fec338" d="M432.1 255.5L442.6 257.0"/>
<path stroke="#fec636" d="M454.7 260.3L444.2 259.1L432.1 255.5"/>
<path fill="#fff" d="M433.6 258.0L444.2 259.1L432.1 255.5L421.5 254.3Z"/>
<path stroke="#fec636" d="M444.2 259.1L432.1 255.5"/>
<path stroke="#fec934" d="M421.5 254.3L432.1 255.5"/>
<path stroke="#fdcc32" d="M444.2 259.1L433.6 258.0L421.5 254.3"/>
<path fill="#fff" d="M423.1 257.2L433.6 258.0L421.5 254.3L411.0 253.2Z"/>
<path stroke="#fdcc32" d="M433.6 258.0L421.5 254.3"/>
<path stroke="#fccf31" d="M411.0 253.2L421.5 254.3"/>
<path stroke="#fcd12f" d="M433.6 258.0L423.1 257.2L411.0 253.2"/>
<path fill="#fff" d="M412.5 256.4L423.1 257.2L411.0 253.2L400.4 252.3Z"/>
<path stroke="#fcd12f" d="M423.1 257.2L411.0 253.2"/>
<path stroke="#fad42e" d="M400.4 252.3L411.0 253.2"/>
<path stroke="#f9d62d" d="M423.1 257.2L412.5 256.4L400.4 252.3"/>
<path fill="#fff" d="M402.0 255.8L412.5 256.4L400.4 252.3L389.9 251.6Z"/>
<path stroke="#f9d62d" d="M412.5 256.4L400.4 252.3"/>
<path stroke="#f8da2b" d="M389.9 251.6L400.4 252.3"/>
<path stroke="#f7dc2a" d="M412.5 256.4L402.0 255.8L389.9 251.6"/>
<path fill="#fff" d="M391.5 255.4L402.0 255.8L389.9 251.6L379.4 251.0Z"/>
<path stroke="#f7dc2a" d="M402.0 255.8L389.9 251.6"/>
<path stroke="#f6df29" d="M379.4 251.0L389.9 251.6"/>
<path stroke="#f6e028" d="M402.0 255.8L391.5 255.4L379.4 251.0"/>
<path fill="#fff" d="M380.9 255.1L391.5 255.4L379.4 251.0L368.8 250.6Z"/>
<path stroke="#f6e028" d="M391.5 255.4L379.4 251.0"/>
<path stroke="#f5e427" d="M368.8 250.6L379.4 251.0"/>
<path stroke="#f5e526" d="M391.5 255.4L380.9 255.1L368.8 250.6"/>
<path fill="#fff" d="M370.4 254.9L380.9 255.1L368.8 250.6L358.3 250.3Z"/>
<path stroke="#f5e526" d="M380.9 255.1L368.8 250.6"/>
<path stroke="#f5e825" d="M358.3 250.3L368.8 250.6"/>
<path stroke="#f5ea24" d="M380.9 255.1L370.4 254.9L358.3 250.3"/>
<path fill="#fff" d="M359.8 254.8L370.4 254.9L358.3 250.3L347.7 250.2Z"/>
<path stroke="#f5ea24" d="M370.4 254.9L358.3 250.3"/>
<path stroke="#f5ec22" d="M347.7 250.2L358.3 250.3"/>
<path stroke="#f5ee21" d="M370.4 254.9L359.8 254.8L347.7 250.2"/>
<path fill="#fff" d="M349.3 254.8L359.8 254.8L347.7 250.2L337.2 250.1Z"/>
<path stroke="#f5ee21" d="M359.8 254.8L347.7 250.2"/>
<path stroke="#f6f11f" d="M337.2 250.1L347.7 250.2"/>
<path stroke="#f6f21e" d="M359.8 254.8L349.3 254.8L337.2 250.1"/>
<path fill="#fff" d="M698.7 213.1L709.2 206.1L697.1 203.6L686.6 211.0Z"/>
<path stroke="#f9bb3d" d="M709.2 206.1L697.1 203.6"/>
<path stroke="#eaba31" d="M686.6 211.0L697.1 203.6"/>
<path stroke="#f1ba37" d="M709.2 206.1L698.7 213.1L686.6 211.0"/>
<path fill="#fff" d="M688.1 220.1L698.7 213.1L686.6 211.0L676.0 218.6Z"/>
<path stroke="#f1ba37" d="M698.7 213.1L686.6 211.0"/>
<path stroke="#dfbc2a" d="M676.0 218.6L686.6 211.0"/>
<path stroke="#e9bb2f" d="M698.7 213.1L688.1 220.1L676.0 218.6"/>
<path fill="#fff" d="M677.6 227.2L688.1 220.1L676.0 218.6L665.5 226.2Z"/>
<path stroke="#e9bb2f" d="M688.1 220.1L676.0 218.6"/>
<path stroke="#d3bf27" d="M665.5 226.2L676.0 218.6"/>
<path stroke="#dfbc2a" d="M688.1 220.1L677.6 227.2L665.5 226.2"/>
<path fill="#fff" d="M667.0 234.3L677.6 227.2L665.5 226.2L654.9 233.9Z"/>
<path stroke="#dfbc2a" d="M677.6 227.2L665.5 226.2"/>
<path stroke="#c6c22a" d="M654.9 233.9L665.5 226.2"/>
<path stroke="#d4bf28" d="M677.6 227.2L667.0 234.3L654.9 233.9"/>
<path fill="#fff" d="M656.5 241.2L667.0 234.3L654.9 233.9L644.4 241.6Z"/>
<path stroke="#d4bf28" d="M667.0 234.3L654.9 233.9"/>
<path stroke="#b8c431" d="M644.4 241.6L654.9 233.9"/>
<path stroke="#c9c129" d="M667.0 234.3L656.5 241.2L644.4 241.6"/>
<path fill="#fff" d="M646.0 247.8L656.5 241.2L644.4 241.6L633.9 249.0Z"/>
<path stroke="#c9c129" d="M656.5 241.2L644.4 241.6"/>
<path stroke="#a9c73a" d="M633.9 249.0L644.4 241.6"/>
<path stroke="#bec32e" d="M656.5 241.2L646.0 247.8L633.9 249.0"/>
<path fill="#fff" d="M635.4 254.1L646.0 247.8L633.9 249.0L623.3 256.0Z"/>
<path stroke="#bec32e" d="M646.0 247.8L633.9 249.0"/>
<path stroke="#9cc944" d="M623.3 256.0L633.9 249.0"/>
<path stroke="#b3c534" d="M646.0 247.8L635.4 254.1L623.3 256.0"/>
<path fill="#fff" d="M624.9 259.7L635.4 254.1L623.3 256.0L612.8 262.4Z"/>
<path stroke="#b3c534" d="M635.4 254.1L623.3 256.0"/>
<path stroke="#90ca4d" d="M612.8 262.4L623.3 256.0"/>
<path stroke="#abc739" d="M635.4 254.1L624.9 259.7L612.8 262.4"/>
<path fill="#fff" d="M614.3 264.5L624.9 259.7L612.8 262.4L602.2 267.8Z"/>
<path stroke="#abc739" d="M624.9 259.7L612.8 262.4"/>
<path stroke="#87cb54" d="M602.2 267.8L612.8 262.4"/>
<path stroke="#a4c83e" d="M624.9 259.7L614.3 264.5L602.2 267.8"/>
<path fill="#fff" d="M603.8 268.4L614.3 264.5L602.2 267.8L591.7 271.9Z"/>
<path stroke="#a4c83e" d="M614.3 264.5L602.2 267.8"/>
<path stroke="#82cc57" d="M591.7 271.9L602.2 267.8"/>
<path stroke="#a1c840" d="M614.3 264.5L603.8 268.4L591.7 271.9"/>
<path fill="#fff" d="M593.3 271.3L603.8 268.4L591.7 271.9L581.2 274.8Z"/>
<path stroke="#a1c840" d="M603.8 268.4L591.7 271.9"/>
<path stroke="#82cc57" d="M581.2 274.8L591.7 271.9"/>
<path stroke="#a1c840" d="M603.8 268.4L593.3 271.3L581.2 274.8"/>
<path fill="#fff" d="M582.7 273.0L593.3 271.3L581.2 274.8L570.6 276.3Z"/>
<path stroke="#a1c840" d="M593.3 271.3L581.2 274.8"/>
<path stroke="#87cb54" d="M570.6 276.3L581.2 274.8"/>
<path stroke="#a4c83e" d="M593.3 271.3L582.7 273.0L570.6 276.3"/>
<path fill="#fff" d="M572.2 273.9L582.7 273.0L570.6 276.3L560.1 276.6Z"/>
<path stroke="#a4c83e" d="M582.7 273.0L570.6 276.3"/>
<path stroke="#90ca4d" d="M560.1 276.6L570.6 276.3"/>
<path stroke="#abc739" d="M582.7 273.0L572.2 273.9L560.1 276.6"/>
<path fill="#fff" d="M561.6 273.9L572.2 273.9L560.1 276.6L549.5 275.9Z"/>
<path stroke="#abc739" d="M572.2 273.9L560.1 276.6"/>
<path stroke="#9cc944" d="M549.5 275.9L560.1 276.6"/>
<path stroke="#b3c534" d="M572.2 273.9L561.6 273.9L549.5 275.9"/>
<path fill="#fff" d="M551.1 273.4L561.6 273.9L549.5 275.9L539.0 274.5Z"/>
<path stroke="#b3c534" d="M561.6 273.9L549.5 275.9"/>
<path stroke="#a9c73a" d="M539.0 274.5L549.5 275.9"/>
<path stroke="#bec32e" d="M561.6 273.9L551.1 273.4L539.0 274.5"/>
<path fill="#fff" d="M540.6 272.4L551.1 273.4L539.0 274.5L528.5 272.8Z"/>
<path stroke="#bec32e" d="M551.1 273.4L539.0 274.5"/>
<path stroke="#b8c431" d="M528.5 272.8L539.0 274.5"/>
<path stroke="#c9c129" d="M551.1 273.4L540.6 272.4L528.5 272.8"/>
<path fill="#fff" d="M530.0 271.2L540.6 272.4L528.5 272.8L517.9 270.8Z"/>
<path stroke="#c9c129" d="M540.6 272.4L528.5 272.8"/>
<path stroke="#c6c22a" d="M517.9 270.8L528.5 272.8"/>
<path stroke="#d4bf28" d="M540.6 272.4L530.0 271.2L517.9 270.8"/>
<path fill="#fff" d="M519.5 269.8L530.0 271.2L517.9 270.8L507.4 268.8Z"/>
<path stroke="#d4bf28" d="M530.0 271.2L517.9 270.8"/>
<path stroke="#d3bf27" d="M507.4 268.8L517.9 270.8"/>
<path stroke="#dfbc2a" d="M530.0 271.2L519.5 269.8L507.4 268.8"/>
<path fill="#fff" d="M509.0 268.4L519.5 269.8L507.4 268.8L496.9 266.9Z"/>
<path stroke="#dfbc2a" d="M519.5 269.8L507.4 268.8"/>
<path stroke="#dfbc2a" d="M496.9 266.9L507.4 268.8"/>
<path stroke="#e9bb2f" d="M519.5 269.8L509.0 268.4L496.9 266.9"/>
<path fill="#fff" d="M498.4 267.0L509.0 268.4L496.9 266.9L486.3 265.0Z"/>
<path stroke="#e9bb2f" d="M509.0 268.4L496.9 266.9"/>
<path stroke="#eaba31" d="M486.3 265.0L496.9 266.9"/>
<path stroke="#f1ba37" d="M509.0 268.4L498.4 267.0L486.3 265.0"/>
<path fill="#fff" d="M487.9 265.7L498.4 267.0L486.3 265.0L475.8 263.3Z"/>
<path stroke="#f1ba37" d="M498.4 267.0L486.3 265.0"/>
<path stroke="#f4ba39" d="M475.8 263.3L486.3 265.0"/>
<path stroke="#f9bb3d" d="M498.4 267.0L487.9 265.7L475.8 263.3"/>
<path fill="#fff" d="M477.3 264.5L487.9 265.7L475.8 263.3L465.2 261.7Z"/>
<path stroke="#f9bb3d" d="M487.9 265.7L475.8 263.3"/>
<path stroke="#fbbc3d" d="M465.2 261.7L475.8 263.3"/>
<path stroke="#febe3c" d="M487.9 265.7L477.3 264.5L465.2 261.7"/>
<path fill="#fff" d="M466.8 263.4L477.3 264.5L465.2 261.7L454.7 260.3Z"/>
<path stroke="#febe3c" d="M477.3 264.5L465.2 261.7"/>
<path stroke="#fec03a" d="M454.7 260.3L465.2 261.7"/>
<path stroke="#fec438" d="M477.3 264.5L466.8 263.4L454.7 260.3"/>
<path fill="#fff" d="M456.3 262.5L466.8 263.4L454.7 260.3L444.2 259.1Z"/>
<path stroke="#fec438" d="M466.8 263.4L454.7 260.3"/>
<path stroke="#fec636" d="M444.2 259.1L454.7 260.3"/>
<path stroke="#fec934" d="M466.8 263.4L456.3 262.5L444.2 259.1"/>
<path fill="#fff" d="M445.7 261.6L456.3 262.5L444.2 259.1L433.6 258.0Z"/>
<path stroke="#fec934" d="M456.3 262.5L444.2 259.1"/>
<path stroke="#fdcc32" d="M433.6 258.0L444.2 259.1"/>
<path stroke="#fdce31" d="M456.3 262.5L445.7 261.6L433.6 258.0"/>
<path fill="#fff" d="M435.2 260.9L445.7 261.6L433.6 258.0L423.1 257.2Z"/>
<path stroke="#fdce31" d="M445.7 261.6L433.6 258.0"/>
<path stroke="#fcd12f" d="M423.1 257.2L433.6 258.0"/>
<path stroke="#fbd42e" d="M445.7 261.6L435.2 260.9L423.1 257.2"/>
<path fill="#fff" d="M424.6 260.4L435.2 260.9L423.1 257.2L412.5 256.4Z"/>
<path stroke="#fbd42e" d="M435.2 260.9L423.1 257.2"/>
<path stroke="#f9d62d" d="M412.5 256.4L423.1 257.2"/>
<path stroke="#f8d92c" d="M435.2 260.9L424.6 260.4L412.5 256.4"/>
<path fill="#fff" d="M414.1 259.9L424.6 260.4L412.5 256.4L402.0 255.8Z"/>
<path stroke="#f8d92c" d="M424.6 260.4L412.5 256.4"/>
<path stroke="#f7dc2a" d="M402.0 255.8L412.5 256.4"/>
<path stroke="#f6de29" d="M424.6 260.4L414.1 259.9L402.0 255.8"/>
<path fill="#fff" d="M403.6 259.6L414.1 259.9L402.0 255.8L391.5 255.4Z"/>
<path stroke="#f6de29" d="M414.1 259.9L402.0 255.8"/>
<path stroke="#f6e028" d="M391.5 255.4L402.0 255.8"/>
<path stroke="#f5e227" d="M414.1 259.9L403.6 259.6L391.5 255.4"/>
<path fill="#fff" d="M393.0 259.4L403.6 259.6L391.5 255.4L380.9 255.1Z"/>
<path stroke="#f5e227" d="M403.6 259.6L391.5 255.4"/>
<path stroke="#f5e526" d="M380.9 255.1L391.5 255.4"/>
<path stroke="#f5e725" d="M403.6 259.6L393.0 259.4L380.9 255.1"/>
<path fill="#fff" d="M382.5 259.3L393.0 259.4L380.9 255.1L370.4 254.9Z"/>
<path stroke="#f5e725" d="M393.0 259.4L380.9 255.1"/>
<path stroke="#f5ea24" d="M370.4 254.9L380.9 255.1"/>
<path stroke="#f5eb23" d="M393.0 259.4L382.5 259.3L370.4 254.9"/>
<path fill="#fff" d="M371.9 259.3L382.5 259.3L370.4 254.9L359.8 254.8Z"/>
<path stroke="#f5eb23" d="M382.5 259.3L370.4 254.9"/>
<path stroke="#f5ee21" d="M359.8 254.8L370.4 254.9"/>
<path stroke="#f6ef20" d="M382.5 259.3L371.9 259.3L359.8 254.8"/>
<path fill="#fff" d="M361.4 259.4L371.9 259.3L359.8 254.8L349.3 254.8Z"/>
<path stroke="#f6ef20" d="M371.9 259.3L359.8 254.8"/>
<path stroke="#f6f21e" d="M349.3 254.8L359.8 254.8"/>
<path stroke="#f7f31d" d="M371.9 259.3L361.4 259.4L349.3 254.8"/>
<path fill="#fff" d="M710.8 215.0L721.3 208.4L709.2 206.1L698.7 213.1Z"/>
<path stroke="#febd3c" d="M721.3 208.4L709.2 206.1"/>
<path stroke="#f1ba37" d="M698.7 213.1L709.2 206.1"/>
<path stroke="#f8ba3d" d="M721.3 208.4L710.8 215.0L698.7 213.1"/>
<path fill="#fff" d="M700.2 221.6L710.8 215.0L698.7 213.1L688.1 220.1Z"/>
<path stroke="#f8ba3d" d="M710.8 215.0L698.7 213.1"/>
<path stroke="#e9bb2f" d="M688.1 220.1L698.7 213.1"/>
<path stroke="#f1ba37" d="M710.8 215.0L700.2 221.6L688.1 220.1"/>
<path fill="#fff" d="M689.7 228.2L700.2 221.6L688.1 220.1L677.6 227.2Z"/>
<path stroke="#f1ba37" d="M700.2 221.6L688.1 220.1"/>
<path stroke="#dfbc2a" d="M677.6 227.2L688.1 220.1"/>
<path stroke="#e9bb30" d="M700.2 221.6L689.7 228.2L677.6 227.2"/>
<path fill="#fff" d="M679.1 234.7L689.7 228.2L677.6 227.2L667.0 234.3Z"/>
<path stroke="#e9bb30" d="M689.7 228.2L677.6 227.2"/>
<path stroke="#d4bf28" d="M667.0 234.3L677.6 227.2"/>
<path stroke="#e1bc2b" d="M689.7 228.2L679.1 234.7L667.0 234.3"/>
<path fill="#fff" d="M668.6 241.0L679.1 234.7L667.0 234.3L656.5 241.2Z"/>
<path stroke="#e1bc2b" d="M679.1 234.7L667.0 234.3"/>
<path stroke="#c9c129" d="M656.5 241.2L667.0 234.3"/>
<path stroke="#d8be28" d="M679.1 234.7L668.6 241.0L656.5 241.2"/>
<path fill="#fff" d="M658.1 247.1L668.6 241.0L656.5 241.2L646.0 247.8Z"/>
<path stroke="#d8be28" d="M668.6 241.0L656.5 241.2"/>
<path stroke="#bec32e" d="M646.0 247.8L656.5 241.2"/>
<path stroke="#d0c028" d="M668.6 241.0L658.1 247.1L646.0 247.8"/>
<path fill="#fff" d="M647.5 252.7L658.1 247.1L646.0 247.8L635.4 254.1Z"/>
<path stroke="#d0c028" d="M658.1 247.1L646.0 247.8"/>
<path stroke="#b3c534" d="M635.4 254.1L646.0 247.8"/>
<path stroke="#c8c129" d="M658.1 247.1L647.5 252.7L635.4 254.1"/>
<path fill="#fff" d="M637.0 257.8L647.5 252.7L635.4 254.1L624.9 259.7Z"/>
<path stroke="#c8c129" d="M647.5 252.7L635.4 254.1"/>
<path stroke="#abc739" d="M624.9 259.7L635.4 254.1"/>
<path stroke="#c1c32c" d="M647.5 252.7L637.0 257.8L624.9 259.7"/>
<path fill="#fff" d="M626.4 262.3L637.0 257.8L624.9 259.7L614.3 264.5Z"/>
<path stroke="#c1c32c" d="M637.0 257.8L624.9 259.7"/>
<path stroke="#a4c83e" d="M614.3 264.5L624.9 259.7"/>
<path stroke="#bdc42f" d="M637.0 257.8L626.4 262.3L614.3 264.5"/>
<path fill="#fff" d="M615.9 265.9L626.4 262.3L614.3 264.5L603.8 268.4Z"/>
<path stroke="#bdc42f" d="M626.4 262.3L614.3 264.5"/>
<path stroke="#a1c840" d="M603.8 268.4L614.3 264.5"/>
<path stroke="#bac430" d="M626.4 262.3L615.9 265.9L603.8 268.4"/>
<path fill="#fff" d="M605.4 268.8L615.9 265.9L603.8 268.4L593.3 271.3Z"/>
<path stroke="#bac430" d="M615.9 265.9L603.8 268.4"/>
<path stroke="#a1c840" d="M593.3 271.3L603.8 268.4"/>
<path stroke="#bac430" d="M615.9 265.9L605.4 268.8L593.3 271.3"/>
<path fill="#fff" d="M594.8 270.8L605.4 268.8L593.3 271.3L582.7 273.0Z"/>
<path stroke="#bac430" d="M605.4 268.8L593.3 271.3"/>
<path stroke="#a4c83e" d="M582.7 273.0L593.3 271.3"/>
<path stroke="#bdc42f" d="M605.4 268.8L594.8 270.8L582.7 273.0"/>
<path fill="#fff" d="M584.3 272.0L594.8 270.8L582.7 273.0L572.2 273.9Z"/>
<path stroke="#bdc42f" d="M594.8 270.8L582.7 273.0"/>
<path stroke="#abc739" d="M572.2 273.9L582.7 273.0"/>
<path stroke="#c1c32c" d="M594.8 270.8L584.3 272.0L572.2 273.9"/>
<path fill="#fff" d="M573.7 272.6L584.3 272.0L572.2 273.9L561.6 273.9Z"/>
<path stroke="#c1c32c" d="M584.3 272.0L572.2 273.9"/>
<path stroke="#b3c534" d="M561.6 273.9L572.2 273.9"/>
<path stroke="#c8c129" d="M584.3 272.0L573.7 272.6L561.6 273.9"/>
<path fill="#fff" d="M563.2 272.6L573.7 272.6L561.6 273.9L551.1 273.4Z"/>
<path stroke="#c8c129" d="M573.7 272.6L561.6 273.9"/>
<path stroke="#bec32e" d="M551.1 273.4L561.6 273.9"/>
<path stroke="#d0c028" d="M573.7 272.6L563.2 272.6L551.1 273.4"/>
<path fill="#fff" d="M552.7 272.3L563.2 272.6L551.1 273.4L540.6 272.4Z"/>
<path stroke="#d0c028" d="M563.2 272.6L551.1 273.4"/>
<path stroke="#c9c129" d="M540.6 272.4L551.1 273.4"/>
<path stroke="#d8be28" d="M563.2 272.6L552.7 272.3L540.6 272.4"/>
<path fill="#fff" d="M542.1 271.6L552.7 272.3L540.6 272.4L530.0 271.2Z"/>
<path stroke="#d8be28" d="M552.7 272.3L540.6 272.4"/>
<path stroke="#d4bf28" d="M530.0 271.2L540.6 272.4"/>
<path stroke="#e1bc2b" d="M552.7 272.3L542.1 271.6L530.0 271.2"/>
<path fill="#fff" d="M531.6 270.8L542.1 271.6L530.0 271.2L519.5 269.8Z"/>
<path stroke="#e1bc2b" d="M542.1 271.6L530.0 271.2"/>
<path stroke="#dfbc2a" d="M519.5 269.8L530.0 271.2"/>
<path stroke="#e9bb30" d="M542.1 271.6L531.6 270.8L519.5 269.8"/>
<path fill="#fff" d="M521.1 269.9L531.6 270.8L519.5 269.8L509.0 268.4Z"/>
<path stroke="#e9bb30" d="M531.6 270.8L519.5 269.8"/>
<path stroke="#e9bb2f" d="M509.0 268.4L519.5 269.8"/>
<path stroke="#f1ba37" d="M531.6 270.8L521.1 269.9L509.0 268.4"/>
<path fill="#fff" d="M510.5 269.0L521.1 269.9L509.0 268.4L498.4 267.0Z"/>
<path stroke="#f1ba37" d="M521.1 269.9L509.0 268.4"/>
<path stroke="#f1ba37" d="M498.4 267.0L509.0 268.4"/>
<path stroke="#f8ba3d" d="M521.1 269.9L510.5 269.0L498.4 267.0"/>
<path fill="#fff" d="M500.0 268.0L510.5 269.0L498.4 267.0L487.9 265.7Z"/>
<path stroke="#f8ba3d" d="M510.5 269.0L498.4 267.0"/>
<path stroke="#f9bb3d" d="M487.9 265.7L498.4 267.0"/>
<path stroke="#febd3c" d="M510.5 269.0L500.0 268.0L487.9 265.7"/>
<path fill="#fff" d="M489.4 267.2L500.0 268.0L487.9 265.7L477.3 264.5Z"/>
<path stroke="#febd3c" d="M500.0 268.0L487.9 265.7"/>
<path stroke="#febe3c" d="M477.3 264.5L487.9 265.7"/>
<path stroke="#fec239" d="M500.0 268.0L489.4 267.2L477.3 264.5"/>
<path fill="#fff" d="M478.9 266.4L489.4 267.2L477.3 264.5L466.8 263.4Z"/>
<path stroke="#fec239" d="M489.4 267.2L477.3 264.5"/>
<path stroke="#fec438" d="M466.8 263.4L477.3 264.5"/>
<path stroke="#fec735" d="M489.4 267.2L478.9 266.4L466.8 263.4"/>
<path fill="#fff" d="M468.4 265.7L478.9 266.4L466.8 263.4L456.3 262.5Z"/>
<path stroke="#fec735" d="M478.9 266.4L466.8 263.4"/>
<path stroke="#fec934" d="M456.3 262.5L466.8 263.4"/>
<path stroke="#fdcc32" d="M478.9 266.4L468.4 265.7L456.3 262.5"/>
<path fill="#fff" d="M457.8 265.1L468.4 265.7L456.3 262.5L445.7 261.6Z"/>
<path stroke="#fdcc32" d="M468.4 265.7L456.3 262.5"/>
<path stroke="#fdce31" d="M445.7 261.6L456.3 262.5"/>
<path stroke="#fbd12f" d="M468.4 265.7L457.8 265.1L445.7 261.6"/>
<path fill="#fff" d="M447.3 264.6L457.8 265.1L445.7 261.6L435.2 260.9Z"/>
<path stroke="#fbd12f" d="M457.8 265.1L445.7 261.6"/>
<path stroke="#fbd42e" d="M435.2 260.9L445.7 261.6"/>
<path stroke="#f9d62d" d="M457.8 265.1L447.3 264.6L435.2 260.9"/>
<path fill="#fff" d="M436.7 264.2L447.3 264.6L435.2 260.9L424.6 260.4Z"/>
<path stroke="#f9d62d" d="M447.3 264.6L435.2 260.9"/>
<path stroke="#f8d92c" d="M424.6 260.4L435.2 260.9"/>
<path stroke="#f7db2a" d="M447.3 264.6L436.7 264.2L424.6 260.4"/>
<path fill="#fff" d="M426.2 263.9L436.7 264.2L424.6 260.4L414.1 259.9Z"/>
<path stroke="#f7db2a" d="M436.7 264.2L424.6 260.4"/>
<path stroke="#f6de29" d="M414.1 259.9L424.6 260.4"/>
<path stroke="#f6e028" d="M436.7 264.2L426.2 263.9L414.1 259.9"/>
<path fill="#fff" d="M415.7 263.7L426.2 263.9L414.1 259.9L403.6 259.6Z"/>
<path stroke="#f6e028" d="M426.2 263.9L414.1 259.9"/>
<path stroke="#f5e227" d="M403.6 259.6L414.1 259.9"/>
<path stroke="#f5e426" d="M426.2 263.9L415.7 263.7L403.6 259.6"/>
<path fill="#fff" d="M405.1 263.7L415.7 263.7L403.6 259.6L393.0 259.4Z"/>
<path stroke="#f5e426" d="M415.7 263.7L403.6 259.6"/>
<path stroke="#f5e725" d="M393.0 259.4L403.6 259.6"/>
<path stroke="#f5e924" d="M415.7 263.7L405.1 263.7L393.0 259.4"/>
<path fill="#fff" d="M394.6 263.7L405.1 263.7L393.0 259.4L382.5 259.3Z"/>
<path stroke="#f5e924" d="M405.1 263.7L393.0 259.4"/>
<path stroke="#f5eb23" d="M382.5 259.3L393.0 259.4"/>
<path stroke="#f5ed22" d="M405.1 263.7L394.6 263.7L382.5 259.3"/>
<path fill="#fff" d="M384.0 263.8L394.6 263.7L382.5 259.3L371.9 259.3Z"/>
<path stroke="#f5ed22" d="M394.6 263.7L382.5 259.3"/>
<path stroke="#f6ef20" d="M371.9 259.3L382.5 259.3"/>
<path stroke="#f6f11f" d="M394.6 263.7L384.0 263.8L371.9 259.3"/>
<path fill="#fff" d="M373.5 264.0L384.0 263.8L371.9 259.3L361.4 259.4Z"/>
<path stroke="#f6f11f" d="M384.0 263.8L371.9 259.3"/>
<path stroke="#f7f31d" d="M361.4 259.4L371.9 259.3"/>
<path stroke="#f7f41c" d="M384.0 263.8L373.5 264.0L361.4 259.4"/>
</g>
<path fill="none" stroke="#262626" stroke-width="1.3" stroke-linejoin="miter" d="M721.3 434.3L373.5 528.0L107.3 406.8L107.3 138.0M442.0 509.5L450.7 513.5M547.4 481.1L556.0 485.1M652.8 452.8L661.4 456.7M361.4 522.5L352.2 525.0M240.4 467.4L231.2 469.9M119.4 412.3L110.2 414.8M107.3 384.5L98.5 381.1M107.3 338.6L98.5 335.2M107.3 292.7L98.5 289.3M107.3 246.8L98.5 243.4M107.3 200.9L98.5 197.5M107.3 155.0L98.5 151.6"/>
<g font-family="Liberation Sans, Arial, Helvetica, sans-serif" fill="#262626" stroke="#262626" stroke-width="0.12" font-size="18.4">
<text x="455.6" y="538.1">-5</text>
<text x="561.0" y="509.8">0</text>
<text x="666.4" y="481.4">5</text>
<text text-anchor="middle" x="337.8" y="547.7">-5</text>
<text text-anchor="middle" x="216.8" y="492.6">0</text>
<text text-anchor="middle" x="95.8" y="436.0">5</text>
<text text-anchor="end" x="90.4" y="387.0">80</text>
<text text-anchor="end" x="90.4" y="341.1">90</text>
<text text-anchor="end" x="90.4" y="295.2">100</text>
<text text-anchor="end" x="90.4" y="249.3">110</text>
<text text-anchor="end" x="90.4" y="203.4">120</text>
<text text-anchor="end" x="90.4" y="157.5">130</text>
</g>
<g font-family="Liberation Sans, Arial, Helvetica, sans-serif" fill="#262626" stroke="#262626" stroke-width="0.12" font-size="21" text-anchor="middle">
<text x="539.1" y="560.2">X (km)</text>
<text x="226.8" y="552.4">Y (km)</text>
<text transform="translate(44.8,271.6) rotate(-90)">Pathloss [dB]</text>
</g>
<text font-family="Liberation Sans, Arial, Helvetica, sans-serif" fill="#000" font-size="20.85" font-weight="bold" text-anchor="middle" x="414.4" y="33.7">Pathloss BS15 [dB] Rural Cell scenario</text>
</g>
</svg>
</body></html>
